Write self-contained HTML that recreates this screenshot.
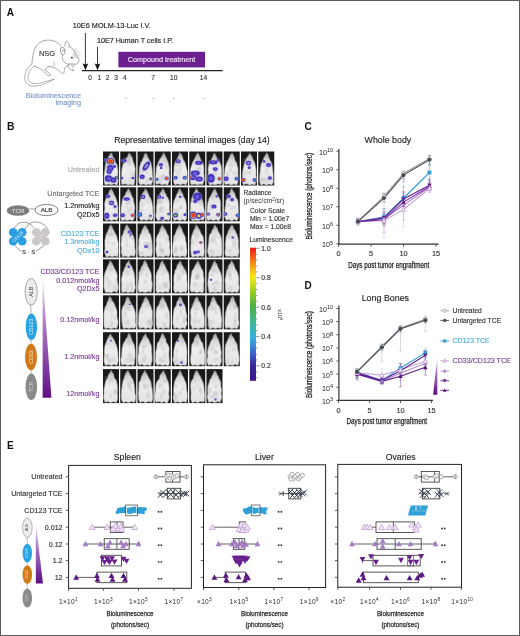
<!DOCTYPE html>
<html><head><meta charset="utf-8"><title>Figure</title>
<style>
html,body{margin:0;padding:0;background:#fff;}
body{width:520px;height:636px;overflow:hidden;}
svg{display:block;font-family:"Liberation Sans", sans-serif;will-change:transform;}
</style></head>
<body>
<svg width="520" height="636" viewBox="0 0 520 636">
<rect x="0" y="0" width="520" height="636" fill="#fff"/>
<text x="6.70" y="15.80" font-size="10" fill="#111" text-anchor="start" font-weight="bold" >A</text>
<g fill="none" stroke="#6e6e6e" stroke-width="0.6" stroke-linecap="round" stroke-linejoin="round">
<path d="M31.9,64 C32.4,58 33,52.5 35,48.3 C37,44.3 40.5,41.5 44,40.6 C48,39.7 52,40 55.5,41.5 C57.6,42.5 59.4,44 60.6,45.8"/>
<path d="M64.8,46 C65,43.6 65.6,41.6 66.3,41.1 C67.3,40.7 68.7,42.6 69.6,45.6 C69.7,46.5 69.4,47.2 69,47.8"/>
<ellipse cx="62.7" cy="51.0" rx="2.3" ry="3.9" transform="rotate(-10 62.7 51)"/>
<ellipse cx="62.9" cy="50.6" rx="0.9" ry="1.7" fill="#c8c8c8" stroke="none"/>
<path d="M69.6,45.8 C71,47.5 72.5,49 73.6,50.5 C75.2,52.6 76.6,55 77.6,57 C78.4,58.5 79.1,59.8 78.9,60.9 C78.6,62.3 77.6,63.5 76.2,64.1 C75,64.5 74,64.3 72.9,64.1"/>
<path d="M62.3,55 C62.1,57.5 62.5,59 63.1,60.3 C64,62 65,63 66.4,63.6 C67.5,64 68.5,64.3 69.2,64.2"/>
<path d="M69.2,64.2 C70.5,63.6 71.8,63.7 72.9,64.1"/>
<path d="M68.2,64.9 C67.8,66.6 68.7,68.1 69.8,69.1 C70.8,70 72.2,70.7 73.6,70.9 C74.2,70.4 73.4,69.5 72.4,69.0"/>
<path d="M70.8,65.0 C71.8,65.9 72.7,66.4 73.8,66.7 C74.4,66.5 74.2,66 73.6,65.6"/>
<path d="M68.2,64.9 C66.6,66.2 65.2,67.3 64.4,68.6 C64,70 64.5,71.6 64.2,72.6 C63.6,73.6 62.2,73.3 61.2,72.6 C59.5,71.2 57.5,69.4 55.3,68.1 C53,66.9 50.5,66.6 48.2,66.6"/>
<path d="M34,66.1 C36,67 38,67.6 39.6,68.4 C40.9,69 41.6,69.6 42.2,70.2 C43.5,71.7 45.1,73.6 47,75 C48.5,75.9 50.1,76 50.7,75.2 C50.3,74 49.1,73 48,72.4 C46.6,71.6 45.6,70.6 45,69.6"/>
<path d="M45,69.6 C46.1,68 47.2,67.1 48.2,66.6"/>
<path d="M54.2,61.4 C54.3,63 54.2,64.4 54,65.8" stroke-width="0.45"/>
<path d="M31.9,64 C29.5,66 27.6,68 26.6,70.3 C25.2,73 24.4,76.2 24.8,79.2 C25.2,82 26.8,84 29.4,85.3 C32.4,86.6 36.6,86.2 41,85 C45.5,83.6 50,81.8 54,79.3" stroke-width="0.55"/>
<path d="M34,66.1 C31.8,67.6 30.2,69.4 29.3,71.7 C28.3,74 27.8,76.4 28.1,78.6 C28.5,80.8 29.8,82.4 31.9,83.1 C34.6,83.9 38,83.6 41.2,82.7 C45.6,81.6 50,80.4 54,79.3" stroke-width="0.5"/>
<line x1="73.5" y1="55.5" x2="76.5" y2="48.5" stroke="#9a9a9a" stroke-width="0.35"/>
<line x1="74" y1="55.5" x2="78.5" y2="50.0" stroke="#9a9a9a" stroke-width="0.35"/>
<line x1="74.5" y1="56" x2="80.0" y2="52.5" stroke="#9a9a9a" stroke-width="0.35"/>
<line x1="74.5" y1="56.5" x2="80.5" y2="55.5" stroke="#9a9a9a" stroke-width="0.35"/>
<line x1="74" y1="57" x2="79.5" y2="58.2" stroke="#9a9a9a" stroke-width="0.35"/>
<line x1="73.5" y1="55.2" x2="74.8" y2="48.0" stroke="#9a9a9a" stroke-width="0.35"/>
</g>
<circle cx="71.9" cy="57.6" r="0.95" fill="#1a1a1a"/>
<text x="39.00" y="56.30" font-size="7.4" fill="#333" text-anchor="start" font-weight="normal" stroke="#333" stroke-width="0.14" >NSG</text>
<text x="72.70" y="28.20" font-size="7.32" fill="#222" text-anchor="start" font-weight="normal" stroke="#222" stroke-width="0.14" >10E6 MOLM-13-Luc I.V.</text>
<text x="97.00" y="42.70" font-size="7.16" fill="#222" text-anchor="start" font-weight="normal" stroke="#222" stroke-width="0.14" >10E7 Human T cells I.P.</text>
<line x1="85.4" y1="33.0" x2="85.4" y2="66" stroke="#222" stroke-width="0.9"/>
<path d="M82.60000000000001,63.6 L85.4,70.3 L88.2,63.6 L85.4,64.6 Z" fill="#111"/>
<line x1="97.5" y1="47.0" x2="97.5" y2="66" stroke="#222" stroke-width="0.9"/>
<path d="M94.7,63.6 L97.5,70.3 L100.3,63.6 L97.5,64.6 Z" fill="#111"/>
<rect x="118.4" y="51.8" width="86.6" height="15.6" fill="#6c2090"/>
<text x="161.60" y="62.40" font-size="7.2" fill="#f6e8fa" text-anchor="middle" font-weight="normal" stroke="#f6e8fa" stroke-width="0.14" >Compound treatment</text>
<line x1="82" y1="70.6" x2="222.8" y2="70.6" stroke="#222" stroke-width="1.1"/>
<text x="90.10" y="79.70" font-size="6.6" fill="#333" text-anchor="middle" font-weight="normal" stroke="#333" stroke-width="0.14" >0</text>
<text x="99.30" y="79.70" font-size="6.6" fill="#333" text-anchor="middle" font-weight="normal" stroke="#333" stroke-width="0.14" >1</text>
<text x="107.70" y="79.70" font-size="6.6" fill="#333" text-anchor="middle" font-weight="normal" stroke="#333" stroke-width="0.14" >2</text>
<text x="116.00" y="79.70" font-size="6.6" fill="#333" text-anchor="middle" font-weight="normal" stroke="#333" stroke-width="0.14" >3</text>
<text x="124.80" y="79.70" font-size="6.6" fill="#333" text-anchor="middle" font-weight="normal" stroke="#333" stroke-width="0.14" >4</text>
<text x="153.20" y="79.70" font-size="6.6" fill="#333" text-anchor="middle" font-weight="normal" stroke="#333" stroke-width="0.14" >7</text>
<text x="173.70" y="79.70" font-size="6.6" fill="#333" text-anchor="middle" font-weight="normal" stroke="#333" stroke-width="0.14" >10</text>
<text x="203.40" y="79.70" font-size="6.6" fill="#333" text-anchor="middle" font-weight="normal" stroke="#333" stroke-width="0.14" >14</text>
<circle cx="126" cy="98.2" r="0.55" fill="#777"/>
<circle cx="153.4" cy="98.2" r="0.55" fill="#777"/>
<circle cx="173.6" cy="98.2" r="0.55" fill="#777"/>
<circle cx="203.9" cy="98.2" r="0.55" fill="#777"/>
<text x="81.00" y="97.80" font-size="7.3" fill="#7a98cc" text-anchor="end" font-weight="normal" stroke="#7a98cc" stroke-width="0.14" >Bioluminescence</text>
<text x="81.00" y="105.00" font-size="7.3" fill="#7a98cc" text-anchor="end" font-weight="normal" stroke="#7a98cc" stroke-width="0.14" >imaging</text>
<text x="7.00" y="130.00" font-size="10.3" fill="#111" text-anchor="start" font-weight="bold" >B</text>
<text x="114.30" y="143.20" font-size="8.64" fill="#222" text-anchor="start" font-weight="normal" stroke="#222" stroke-width="0.14" >Representative terminal images (day 14)</text>
<defs><linearGradient id="mg" x1="0" y1="0" x2="0" y2="1"><stop offset="0" stop-color="#a0a0a0"/><stop offset="0.2" stop-color="#d6d6d6"/><stop offset="0.5" stop-color="#ededed"/><stop offset="1" stop-color="#e2e2e2"/></linearGradient><path id="ms" d="M8,1.3 C6.8,2 6,3.6 5.3,5 C4.4,6.6 3.4,8 2.6,9.5 C1.8,11 1.3,12.5 1.1,14 C0.8,16.5 0.7,18.5 0.8,20.5 C0.8,23 0.8,25 0.9,27 C1,29 1.2,30 1.5,31 C1.7,32.2 2.2,33.2 3.4,33.3 L6.2,33 C7.4,32.6 8.6,32.6 9.8,33 L12.6,33.3 C13.8,33.2 14.3,32.2 14.5,31 C14.8,30 15,29 15.1,27 C15.2,25 15.2,23 15.2,20.5 C15.3,18.5 15.2,16.5 14.9,14 C14.7,12.5 14.2,11 13.4,9.5 C12.6,8 11.6,6.6 10.7,5 C10,3.6 9.2,2 8,1.3 Z"/></defs>
<defs><filter id="bl" x="-5%" y="-5%" width="110%" height="110%"><feGaussianBlur stdDeviation="0.45"/></filter><clipPath id="cc"><rect width="16" height="34"/></clipPath></defs>
<rect x="103.00" y="151.50" width="16.0" height="34.0" fill="#1a1a1a"/>
<g transform="translate(103.00,151.50)" clip-path="url(#cc)"><g filter="url(#bl)">
<path d="M8.30,1.38 C7.90,1.41 7.36,2.41 6.91,3.04 C6.45,3.68 5.92,4.49 5.58,5.21 C5.24,5.92 5.15,6.76 4.89,7.35 C4.63,7.93 4.35,8.10 4.02,8.70 C3.69,9.30 3.19,10.24 2.91,10.95 C2.63,11.67 2.50,12.01 2.34,12.97 C2.17,13.93 2.11,15.47 1.94,16.73 C1.77,18.00 1.49,19.30 1.31,20.56 C1.13,21.81 0.92,23.05 0.86,24.26 C0.80,25.46 0.88,26.68 0.92,27.78 C0.96,28.88 0.86,29.94 1.08,30.87 C1.31,31.80 1.66,33.07 2.27,33.38 C2.88,33.70 4.03,32.82 4.76,32.77 C5.48,32.72 6.07,32.93 6.61,33.07 C7.15,33.21 7.54,33.60 8.00,33.60 C8.46,33.60 8.87,33.27 9.40,33.08 C9.93,32.90 10.45,32.39 11.17,32.49 C11.89,32.58 13.12,33.88 13.75,33.65 C14.38,33.42 14.73,32.07 14.94,31.10 C15.14,30.14 15.00,29.00 14.97,27.86 C14.94,26.73 14.75,25.52 14.75,24.29 C14.75,23.05 15.00,21.76 14.99,20.45 C14.97,19.14 14.79,17.62 14.64,16.44 C14.50,15.26 14.49,14.34 14.12,13.37 C13.76,12.41 12.81,11.42 12.45,10.65 C12.09,9.89 12.14,9.37 11.99,8.78 C11.83,8.20 11.88,7.74 11.54,7.15 C11.19,6.56 10.27,5.98 9.90,5.26 C9.53,4.55 9.56,3.53 9.29,2.88 C9.03,2.24 8.70,1.36 8.30,1.38 Z" fill="url(#mg)" stroke="#8c8c8c" stroke-opacity="0.55" stroke-width="1.0" transform="translate(0.06,0) rotate(-0.3 8 20)"/>
<ellipse cx="3.9" cy="15.3" rx="2.5" ry="3.0" fill="#a8a8a8" opacity="0.22"/><ellipse cx="4.2" cy="13.4" rx="1.3" ry="1.6" fill="#a8a8a8" opacity="0.22"/><ellipse cx="11.0" cy="11.9" rx="2.0" ry="2.4" fill="#a8a8a8" opacity="0.22"/><ellipse cx="4.9" cy="24.1" rx="1.4" ry="2.8" fill="#a8a8a8" opacity="0.22"/><ellipse cx="4.2" cy="17.3" rx="1.5" ry="2.0" fill="#a8a8a8" opacity="0.22"/>
<g><ellipse cx="3.2" cy="8.5" rx="2.60" ry="2.34" fill="#a8a0ea" opacity="0.45"/><ellipse cx="3.2" cy="8.5" rx="2.00" ry="1.80" fill="#4232b8"/><ellipse cx="3.2" cy="8.5" rx="1.00" ry="0.90" fill="#6a5cd0"/></g>
<g><ellipse cx="7.6" cy="9.7" rx="4.68" ry="4.21" fill="#a8a0ea" opacity="0.45"/><ellipse cx="7.6" cy="9.7" rx="3.60" ry="3.24" fill="#4030b0"/><ellipse cx="7.6" cy="9.7" rx="2.70" ry="2.43" fill="#e8a040"/><ellipse cx="7.6" cy="9.7" rx="1.98" ry="1.78" fill="#e83a1a"/></g>
<g><ellipse cx="7.4" cy="16.5" rx="4.16" ry="3.74" fill="#a8a0ea" opacity="0.45"/><ellipse cx="7.4" cy="16.5" rx="3.20" ry="2.88" fill="#4232b8"/><ellipse cx="7.4" cy="16.5" rx="1.60" ry="1.44" fill="#6a5cd0"/></g>
<g><ellipse cx="6.2" cy="20" rx="3.38" ry="3.04" fill="#a8a0ea" opacity="0.45"/><ellipse cx="6.2" cy="20" rx="2.60" ry="2.34" fill="#4232b8"/><ellipse cx="6.2" cy="20" rx="1.30" ry="1.17" fill="#6a5cd0"/></g>
<g><ellipse cx="5.5" cy="27" rx="4.68" ry="4.16" fill="#a8a0ea" opacity="0.45"/><ellipse cx="5.5" cy="27" rx="3.60" ry="3.20" fill="#4232b8"/><ellipse cx="5.5" cy="27" rx="1.80" ry="1.60" fill="#6a5cd0"/></g>
<g><ellipse cx="10.5" cy="28.5" rx="3.90" ry="3.51" fill="#a8a0ea" opacity="0.45"/><ellipse cx="10.5" cy="28.5" rx="3.00" ry="2.70" fill="#4232b8"/><ellipse cx="10.5" cy="28.5" rx="1.50" ry="1.35" fill="#6a5cd0"/></g>
<g><ellipse cx="13.6" cy="26" rx="2.34" ry="2.11" fill="#a8a0ea" opacity="0.45"/><ellipse cx="13.6" cy="26" rx="1.80" ry="1.62" fill="#4030b0"/><ellipse cx="13.6" cy="26" rx="0.99" ry="0.89" fill="#70c060"/></g>
<g><ellipse cx="11.5" cy="15" rx="2.08" ry="1.87" fill="#a8a0ea" opacity="0.45"/><ellipse cx="11.5" cy="15" rx="1.60" ry="1.44" fill="#4232b8"/><ellipse cx="11.5" cy="15" rx="0.80" ry="0.72" fill="#6a5cd0"/></g>
</g></g>
<rect x="120.25" y="151.50" width="16.0" height="34.0" fill="#1a1a1a"/>
<g transform="translate(120.25,151.50)" clip-path="url(#cc)"><g filter="url(#bl)">
<path d="M7.86,1.59 C7.52,1.60 7.00,2.33 6.70,2.95 C6.40,3.56 6.41,4.52 6.05,5.27 C5.69,6.02 4.85,6.88 4.52,7.44 C4.20,8.01 4.29,8.13 4.10,8.68 C3.91,9.22 3.73,10.00 3.39,10.71 C3.05,11.43 2.40,12.02 2.06,12.99 C1.71,13.96 1.49,15.28 1.31,16.54 C1.14,17.80 1.07,19.23 1.02,20.55 C0.97,21.87 0.98,23.24 1.01,24.48 C1.04,25.72 1.16,26.87 1.22,27.99 C1.28,29.11 1.16,30.31 1.35,31.18 C1.54,32.06 1.76,32.96 2.38,33.23 C3.00,33.49 4.41,32.82 5.09,32.76 C5.76,32.70 5.94,32.70 6.42,32.84 C6.91,32.99 7.48,33.54 8.00,33.60 C8.52,33.66 9.07,33.35 9.57,33.22 C10.07,33.09 10.30,32.79 10.99,32.83 C11.67,32.86 13.06,33.79 13.67,33.45 C14.28,33.11 14.46,31.67 14.65,30.80 C14.83,29.93 14.77,29.26 14.78,28.23 C14.79,27.20 14.74,25.86 14.72,24.60 C14.69,23.34 14.67,22.03 14.63,20.66 C14.59,19.29 14.64,17.62 14.47,16.40 C14.29,15.17 13.90,14.27 13.57,13.31 C13.24,12.35 12.80,11.39 12.50,10.66 C12.19,9.94 11.94,9.57 11.74,8.98 C11.54,8.38 11.49,7.74 11.28,7.09 C11.07,6.44 10.91,5.75 10.49,5.05 C10.07,4.35 9.20,3.46 8.76,2.88 C8.32,2.31 8.21,1.58 7.86,1.59 Z" fill="url(#mg)" stroke="#8c8c8c" stroke-opacity="0.55" stroke-width="1.0" transform="translate(0.30,0) rotate(3.3 8 20)"/>
<ellipse cx="7.5" cy="9.3" rx="1.4" ry="2.2" fill="#a8a8a8" opacity="0.22"/><ellipse cx="8.7" cy="10.9" rx="1.7" ry="3.3" fill="#a8a8a8" opacity="0.22"/><ellipse cx="12.8" cy="22.5" rx="2.2" ry="2.7" fill="#a8a8a8" opacity="0.22"/><ellipse cx="4.4" cy="8.8" rx="1.2" ry="3.3" fill="#a8a8a8" opacity="0.22"/><ellipse cx="10.0" cy="29.2" rx="1.2" ry="2.8" fill="#a8a8a8" opacity="0.22"/>
<g><ellipse cx="3.8" cy="9.2" rx="3.25" ry="2.08" fill="#a8a0ea" opacity="0.45"/><ellipse cx="3.8" cy="9.2" rx="2.50" ry="1.60" fill="#4030b0"/><ellipse cx="3.8" cy="9.2" rx="1.38" ry="0.88" fill="#6a5cd0"/></g>
<g><ellipse cx="1.6" cy="26.5" rx="1.82" ry="1.64" fill="#a8a0ea" opacity="0.45"/><ellipse cx="1.6" cy="26.5" rx="1.40" ry="1.26" fill="#4232b8"/><ellipse cx="1.6" cy="26.5" rx="0.70" ry="0.63" fill="#6a5cd0"/></g>
<g><ellipse cx="12.7" cy="26.5" rx="1.95" ry="1.76" fill="#a8a0ea" opacity="0.45"/><ellipse cx="12.7" cy="26.5" rx="1.50" ry="1.35" fill="#4232b8"/><ellipse cx="12.7" cy="26.5" rx="0.75" ry="0.68" fill="#6a5cd0"/></g>
</g></g>
<rect x="137.50" y="151.50" width="16.0" height="34.0" fill="#1a1a1a"/>
<g transform="translate(137.50,151.50)" clip-path="url(#cc)"><g filter="url(#bl)">
<path d="M7.87,1.65 C7.42,1.62 6.92,2.40 6.60,3.02 C6.28,3.65 6.24,4.69 5.97,5.40 C5.69,6.11 5.21,6.70 4.97,7.30 C4.72,7.90 4.82,8.41 4.51,9.01 C4.19,9.61 3.43,10.16 3.10,10.89 C2.76,11.62 2.74,12.43 2.48,13.39 C2.22,14.34 1.71,15.45 1.54,16.65 C1.37,17.84 1.51,19.24 1.45,20.54 C1.40,21.84 1.27,23.19 1.19,24.44 C1.10,25.69 0.99,26.95 0.96,28.05 C0.93,29.16 0.67,30.15 1.01,31.07 C1.34,31.99 2.29,33.34 2.95,33.59 C3.60,33.84 4.32,32.64 4.96,32.54 C5.60,32.45 6.26,32.86 6.76,33.04 C7.27,33.22 7.57,33.58 8.00,33.60 C8.43,33.62 8.87,33.32 9.36,33.17 C9.84,33.02 10.29,32.68 10.91,32.73 C11.53,32.77 12.44,33.76 13.07,33.45 C13.70,33.14 14.33,31.77 14.69,30.87 C15.05,29.96 15.19,29.02 15.24,28.00 C15.29,26.97 15.08,26.00 14.98,24.71 C14.88,23.42 14.75,21.61 14.63,20.26 C14.51,18.90 14.43,17.79 14.26,16.59 C14.09,15.39 13.79,13.99 13.59,13.03 C13.40,12.08 13.41,11.55 13.08,10.88 C12.76,10.21 11.99,9.60 11.66,9.00 C11.33,8.40 11.36,7.92 11.08,7.28 C10.80,6.64 10.28,5.84 9.99,5.17 C9.69,4.49 9.67,3.79 9.31,3.21 C8.96,2.62 8.33,1.68 7.87,1.65 Z" fill="url(#mg)" stroke="#8c8c8c" stroke-opacity="0.55" stroke-width="1.0" transform="translate(0.23,0) rotate(-0.1 8 20)"/>
<ellipse cx="11.8" cy="16.5" rx="2.0" ry="2.1" fill="#a8a8a8" opacity="0.22"/><ellipse cx="4.4" cy="18.9" rx="2.4" ry="3.2" fill="#a8a8a8" opacity="0.22"/><ellipse cx="10.1" cy="28.9" rx="1.6" ry="1.8" fill="#a8a8a8" opacity="0.22"/><ellipse cx="7.5" cy="14.1" rx="1.5" ry="2.3" fill="#a8a8a8" opacity="0.22"/><ellipse cx="9.3" cy="18.9" rx="1.6" ry="3.2" fill="#a8a8a8" opacity="0.22"/>
<g transform="rotate(-55 8.8 14.5)"><ellipse cx="8.8" cy="14.5" rx="6.76" ry="3.12" fill="#a8a0ea" opacity="0.45"/><ellipse cx="8.8" cy="14.5" rx="5.20" ry="2.40" fill="#4030b0"/><ellipse cx="8.8" cy="14.5" rx="2.86" ry="1.32" fill="#8e86da"/></g>
<g><ellipse cx="4.7" cy="25.3" rx="3.25" ry="2.93" fill="#a8a0ea" opacity="0.45"/><ellipse cx="4.7" cy="25.3" rx="2.50" ry="2.25" fill="#4232b8"/><ellipse cx="4.7" cy="25.3" rx="1.25" ry="1.12" fill="#6a5cd0"/></g>
<g><ellipse cx="13.3" cy="27.4" rx="1.95" ry="1.76" fill="#a8a0ea" opacity="0.45"/><ellipse cx="13.3" cy="27.4" rx="1.50" ry="1.35" fill="#4030b0"/><ellipse cx="13.3" cy="27.4" rx="1.05" ry="0.94" fill="#40a8b0"/><ellipse cx="13.3" cy="27.4" rx="0.83" ry="0.74" fill="#d06030"/></g>
</g></g>
<rect x="154.75" y="151.50" width="16.0" height="34.0" fill="#1a1a1a"/>
<g transform="translate(154.75,151.50)" clip-path="url(#cc)"><g filter="url(#bl)">
<path d="M7.70,1.17 C7.36,1.11 7.45,2.09 7.16,2.77 C6.87,3.45 6.36,4.47 5.95,5.24 C5.53,6.00 5.00,6.78 4.67,7.35 C4.34,7.91 4.21,8.08 3.96,8.62 C3.71,9.15 3.42,9.82 3.17,10.56 C2.91,11.30 2.73,12.12 2.43,13.07 C2.13,14.02 1.54,15.04 1.35,16.27 C1.16,17.51 1.32,19.09 1.29,20.47 C1.26,21.86 1.22,23.28 1.19,24.58 C1.16,25.87 1.08,27.18 1.12,28.23 C1.15,29.27 1.18,30.01 1.43,30.85 C1.67,31.68 2.08,32.95 2.58,33.24 C3.09,33.53 3.76,32.65 4.46,32.59 C5.15,32.52 6.16,32.67 6.75,32.84 C7.34,33.01 7.58,33.59 8.00,33.60 C8.42,33.61 8.68,33.09 9.24,32.92 C9.80,32.76 10.63,32.51 11.34,32.61 C12.04,32.71 12.93,33.77 13.48,33.53 C14.03,33.28 14.31,32.10 14.63,31.15 C14.94,30.19 15.29,28.88 15.38,27.79 C15.48,26.70 15.34,25.83 15.20,24.61 C15.06,23.39 14.66,21.79 14.54,20.48 C14.42,19.16 14.63,17.91 14.49,16.70 C14.35,15.50 13.95,14.19 13.71,13.23 C13.48,12.27 13.35,11.69 13.07,10.95 C12.78,10.21 12.30,9.43 12.01,8.78 C11.72,8.13 11.58,7.62 11.31,7.05 C11.03,6.48 10.71,6.02 10.36,5.36 C10.00,4.70 9.64,3.81 9.20,3.11 C8.76,2.41 8.04,1.22 7.70,1.17 Z" fill="url(#mg)" stroke="#8c8c8c" stroke-opacity="0.55" stroke-width="1.0" transform="translate(-0.05,0) rotate(3.4 8 20)"/>
<ellipse cx="5.1" cy="27.8" rx="2.6" ry="3.5" fill="#a8a8a8" opacity="0.22"/><ellipse cx="8.4" cy="25.4" rx="1.6" ry="3.3" fill="#a8a8a8" opacity="0.22"/><ellipse cx="11.6" cy="15.7" rx="1.3" ry="2.4" fill="#a8a8a8" opacity="0.22"/><ellipse cx="8.5" cy="24.9" rx="1.9" ry="1.6" fill="#a8a8a8" opacity="0.22"/><ellipse cx="11.1" cy="9.4" rx="2.3" ry="1.8" fill="#a8a8a8" opacity="0.22"/>
<g><ellipse cx="6.2" cy="13.3" rx="2.60" ry="2.34" fill="#a8a0ea" opacity="0.45"/><ellipse cx="6.2" cy="13.3" rx="2.00" ry="1.80" fill="#4232b8"/><ellipse cx="6.2" cy="13.3" rx="1.00" ry="0.90" fill="#6a5cd0"/></g>
<g><ellipse cx="6.4" cy="16.4" rx="1.69" ry="1.52" fill="#a8a0ea" opacity="0.45"/><ellipse cx="6.4" cy="16.4" rx="1.30" ry="1.17" fill="#4232b8"/><ellipse cx="6.4" cy="16.4" rx="0.65" ry="0.59" fill="#6a5cd0"/></g>
<g><ellipse cx="2.1" cy="27.9" rx="2.08" ry="1.87" fill="#a8a0ea" opacity="0.45"/><ellipse cx="2.1" cy="27.9" rx="1.60" ry="1.44" fill="#4030b0"/><ellipse cx="2.1" cy="27.9" rx="0.88" ry="0.79" fill="#38a8d0"/></g>
<g><ellipse cx="12" cy="26.9" rx="2.60" ry="2.34" fill="#a8a0ea" opacity="0.45"/><ellipse cx="12" cy="26.9" rx="2.00" ry="1.80" fill="#4030b0"/><ellipse cx="12" cy="26.9" rx="1.50" ry="1.35" fill="#e8a040"/><ellipse cx="12" cy="26.9" rx="1.10" ry="0.99" fill="#e83a1a"/></g>
</g></g>
<rect x="172.00" y="151.50" width="16.0" height="34.0" fill="#1a1a1a"/>
<g transform="translate(172.00,151.50)" clip-path="url(#cc)"><g filter="url(#bl)">
<path d="M7.75,1.22 C7.35,1.28 7.20,2.43 6.91,3.11 C6.63,3.79 6.34,4.61 6.04,5.29 C5.74,5.98 5.35,6.65 5.11,7.20 C4.87,7.75 4.97,7.99 4.61,8.59 C4.26,9.20 3.43,10.03 3.00,10.81 C2.58,11.60 2.27,12.36 2.05,13.31 C1.84,14.26 1.80,15.31 1.70,16.51 C1.60,17.71 1.56,19.21 1.44,20.53 C1.32,21.85 1.02,23.16 0.97,24.44 C0.92,25.72 1.12,27.08 1.14,28.20 C1.16,29.32 0.80,30.31 1.10,31.18 C1.39,32.04 2.30,33.20 2.93,33.41 C3.55,33.62 4.23,32.52 4.85,32.45 C5.47,32.38 6.10,32.81 6.63,33.00 C7.15,33.19 7.53,33.64 8.00,33.60 C8.47,33.56 8.89,32.93 9.47,32.76 C10.06,32.60 10.89,32.48 11.53,32.61 C12.17,32.74 12.79,33.82 13.33,33.55 C13.87,33.28 14.43,31.96 14.74,31.00 C15.06,30.03 15.20,28.87 15.23,27.78 C15.26,26.69 14.95,25.64 14.93,24.46 C14.91,23.28 15.23,22.04 15.12,20.71 C15.01,19.38 14.50,17.74 14.24,16.49 C13.97,15.23 13.74,14.08 13.54,13.17 C13.34,12.25 13.33,11.74 13.02,11.00 C12.71,10.26 12.02,9.33 11.68,8.71 C11.34,8.09 11.18,7.87 10.98,7.26 C10.79,6.64 10.78,5.76 10.50,5.01 C10.22,4.27 9.75,3.39 9.30,2.76 C8.84,2.13 8.15,1.17 7.75,1.22 Z" fill="url(#mg)" stroke="#8c8c8c" stroke-opacity="0.55" stroke-width="1.0" transform="translate(0.29,0) rotate(-1.2 8 20)"/>
<ellipse cx="4.9" cy="13.0" rx="2.2" ry="2.1" fill="#a8a8a8" opacity="0.22"/><ellipse cx="6.6" cy="21.6" rx="1.3" ry="3.0" fill="#a8a8a8" opacity="0.22"/><ellipse cx="4.2" cy="19.2" rx="1.6" ry="1.9" fill="#a8a8a8" opacity="0.22"/><ellipse cx="8.3" cy="17.6" rx="1.7" ry="2.3" fill="#a8a8a8" opacity="0.22"/><ellipse cx="8.3" cy="11.5" rx="1.5" ry="2.8" fill="#a8a8a8" opacity="0.22"/>
<g><ellipse cx="6.2" cy="9.7" rx="2.99" ry="2.69" fill="#a8a0ea" opacity="0.45"/><ellipse cx="6.2" cy="9.7" rx="2.30" ry="2.07" fill="#4030b0"/><ellipse cx="6.2" cy="9.7" rx="1.26" ry="1.14" fill="#8e86da"/></g>
<g><ellipse cx="3.6" cy="26.3" rx="2.60" ry="2.34" fill="#a8a0ea" opacity="0.45"/><ellipse cx="3.6" cy="26.3" rx="2.00" ry="1.80" fill="#4030b0"/><ellipse cx="3.6" cy="26.3" rx="1.10" ry="0.99" fill="#38a8d0"/></g>
<g><ellipse cx="12.8" cy="26.3" rx="2.60" ry="2.34" fill="#a8a0ea" opacity="0.45"/><ellipse cx="12.8" cy="26.3" rx="2.00" ry="1.80" fill="#4030b0"/><ellipse cx="12.8" cy="26.3" rx="1.10" ry="0.99" fill="#38a8d0"/></g>
</g></g>
<rect x="189.25" y="151.50" width="16.0" height="34.0" fill="#1a1a1a"/>
<g transform="translate(189.25,151.50)" clip-path="url(#cc)"><g filter="url(#bl)">
<path d="M8.25,1.46 C7.91,1.47 7.53,2.22 7.15,2.87 C6.77,3.52 6.31,4.65 5.97,5.36 C5.62,6.06 5.38,6.50 5.08,7.11 C4.78,7.72 4.52,8.35 4.17,9.01 C3.82,9.67 3.29,10.38 3.00,11.05 C2.72,11.72 2.74,12.09 2.47,13.02 C2.21,13.94 1.66,15.40 1.42,16.61 C1.18,17.83 1.05,18.99 1.03,20.30 C1.02,21.61 1.32,23.21 1.33,24.46 C1.34,25.71 1.12,26.71 1.10,27.81 C1.09,28.92 1.04,30.19 1.23,31.09 C1.43,32.00 1.65,32.96 2.26,33.25 C2.88,33.54 4.15,32.88 4.93,32.81 C5.71,32.73 6.42,32.68 6.93,32.81 C7.44,32.94 7.59,33.55 8.00,33.60 C8.41,33.65 8.87,33.28 9.40,33.13 C9.94,32.98 10.57,32.68 11.20,32.69 C11.83,32.70 12.65,33.51 13.18,33.19 C13.72,32.86 14.10,31.63 14.42,30.77 C14.75,29.91 15.05,29.08 15.14,28.01 C15.22,26.93 15.04,25.60 14.95,24.32 C14.86,23.05 14.63,21.61 14.58,20.35 C14.53,19.09 14.72,17.97 14.64,16.75 C14.56,15.52 14.46,13.95 14.10,13.00 C13.74,12.04 12.90,11.70 12.49,11.03 C12.09,10.35 11.91,9.57 11.67,8.93 C11.44,8.29 11.32,7.81 11.08,7.18 C10.83,6.56 10.53,5.90 10.21,5.17 C9.89,4.43 9.50,3.37 9.17,2.76 C8.84,2.14 8.58,1.44 8.25,1.46 Z" fill="url(#mg)" stroke="#8c8c8c" stroke-opacity="0.55" stroke-width="1.0" transform="translate(0.03,0) rotate(1.0 8 20)"/>
<ellipse cx="10.0" cy="26.6" rx="1.5" ry="2.4" fill="#a8a8a8" opacity="0.22"/><ellipse cx="10.4" cy="16.9" rx="1.5" ry="1.8" fill="#a8a8a8" opacity="0.22"/><ellipse cx="8.1" cy="8.3" rx="2.5" ry="3.1" fill="#a8a8a8" opacity="0.22"/><ellipse cx="10.0" cy="26.9" rx="2.1" ry="2.3" fill="#a8a8a8" opacity="0.22"/><ellipse cx="9.0" cy="19.1" rx="2.6" ry="3.1" fill="#a8a8a8" opacity="0.22"/>
<g><ellipse cx="9.5" cy="11.3" rx="4.68" ry="2.60" fill="#a8a0ea" opacity="0.45"/><ellipse cx="9.5" cy="11.3" rx="3.60" ry="2.00" fill="#4232b8"/><ellipse cx="9.5" cy="11.3" rx="1.80" ry="1.00" fill="#6a5cd0"/></g>
<g><ellipse cx="6" cy="21.5" rx="5.85" ry="3.38" fill="#a8a0ea" opacity="0.45"/><ellipse cx="6" cy="21.5" rx="4.50" ry="2.60" fill="#4232b8"/><ellipse cx="6" cy="21.5" rx="2.25" ry="1.30" fill="#6a5cd0"/></g>
<g><ellipse cx="4" cy="26" rx="4.55" ry="3.38" fill="#a8a0ea" opacity="0.45"/><ellipse cx="4" cy="26" rx="3.50" ry="2.60" fill="#4232b8"/><ellipse cx="4" cy="26" rx="1.75" ry="1.30" fill="#6a5cd0"/></g>
<g><ellipse cx="10" cy="27.5" rx="4.55" ry="3.25" fill="#a8a0ea" opacity="0.45"/><ellipse cx="10" cy="27.5" rx="3.50" ry="2.50" fill="#4232b8"/><ellipse cx="10" cy="27.5" rx="1.75" ry="1.25" fill="#6a5cd0"/></g>
<g><ellipse cx="1.8" cy="25.8" rx="1.95" ry="1.76" fill="#a8a0ea" opacity="0.45"/><ellipse cx="1.8" cy="25.8" rx="1.50" ry="1.35" fill="#4030b0"/><ellipse cx="1.8" cy="25.8" rx="1.12" ry="1.01" fill="#e8a040"/><ellipse cx="1.8" cy="25.8" rx="0.83" ry="0.74" fill="#e83a1a"/></g>
</g></g>
<rect x="206.50" y="151.50" width="16.0" height="34.0" fill="#1a1a1a"/>
<g transform="translate(206.50,151.50)" clip-path="url(#cc)"><g filter="url(#bl)">
<path d="M8.17,1.54 C7.88,1.53 7.47,2.31 7.12,2.95 C6.77,3.59 6.44,4.66 6.08,5.39 C5.71,6.12 5.20,6.77 4.94,7.33 C4.67,7.89 4.75,8.21 4.49,8.75 C4.22,9.29 3.76,9.85 3.36,10.59 C2.96,11.32 2.44,12.21 2.09,13.18 C1.74,14.16 1.39,15.20 1.26,16.43 C1.13,17.66 1.35,19.18 1.30,20.56 C1.24,21.94 0.96,23.50 0.91,24.72 C0.87,25.95 0.93,26.87 1.02,27.92 C1.10,28.97 1.14,30.13 1.41,31.03 C1.68,31.94 2.00,33.07 2.62,33.34 C3.25,33.62 4.46,32.71 5.15,32.67 C5.84,32.64 6.27,32.98 6.74,33.13 C7.22,33.29 7.50,33.66 8.00,33.60 C8.50,33.54 9.19,32.91 9.74,32.76 C10.28,32.61 10.70,32.62 11.28,32.72 C11.86,32.82 12.71,33.66 13.23,33.35 C13.75,33.04 14.09,31.77 14.39,30.85 C14.68,29.92 14.96,28.82 15.01,27.80 C15.07,26.78 14.76,25.92 14.73,24.70 C14.70,23.49 14.83,21.87 14.84,20.50 C14.84,19.14 14.84,17.74 14.73,16.53 C14.61,15.33 14.43,14.26 14.15,13.27 C13.86,12.28 13.41,11.31 13.02,10.59 C12.62,9.86 12.12,9.46 11.77,8.93 C11.41,8.40 11.18,8.04 10.88,7.42 C10.58,6.79 10.30,5.92 9.96,5.19 C9.63,4.45 9.17,3.61 8.87,3.00 C8.57,2.39 8.46,1.55 8.17,1.54 Z" fill="url(#mg)" stroke="#8c8c8c" stroke-opacity="0.55" stroke-width="1.0" transform="translate(0.41,0) rotate(-1.7 8 20)"/>
<ellipse cx="9.1" cy="9.3" rx="2.5" ry="2.3" fill="#a8a8a8" opacity="0.22"/><ellipse cx="8.3" cy="21.2" rx="1.7" ry="2.1" fill="#a8a8a8" opacity="0.22"/><ellipse cx="9.6" cy="20.3" rx="1.6" ry="2.9" fill="#a8a8a8" opacity="0.22"/><ellipse cx="6.0" cy="8.3" rx="1.5" ry="1.6" fill="#a8a8a8" opacity="0.22"/><ellipse cx="4.6" cy="24.6" rx="1.7" ry="3.3" fill="#a8a8a8" opacity="0.22"/>
<g><ellipse cx="6.8" cy="10.8" rx="5.20" ry="2.60" fill="#a8a0ea" opacity="0.45"/><ellipse cx="6.8" cy="10.8" rx="4.00" ry="2.00" fill="#4232b8"/><ellipse cx="6.8" cy="10.8" rx="2.00" ry="1.00" fill="#6a5cd0"/></g>
<g><ellipse cx="11.6" cy="8.7" rx="1.95" ry="1.76" fill="#a8a0ea" opacity="0.45"/><ellipse cx="11.6" cy="8.7" rx="1.50" ry="1.35" fill="#4232b8"/><ellipse cx="11.6" cy="8.7" rx="0.75" ry="0.68" fill="#6a5cd0"/></g>
<g><ellipse cx="8.8" cy="17.6" rx="3.25" ry="2.34" fill="#a8a0ea" opacity="0.45"/><ellipse cx="8.8" cy="17.6" rx="2.50" ry="1.80" fill="#4232b8"/><ellipse cx="8.8" cy="17.6" rx="1.25" ry="0.90" fill="#6a5cd0"/></g>
<g><ellipse cx="4.5" cy="26.8" rx="4.68" ry="5.46" fill="#a8a0ea" opacity="0.45"/><ellipse cx="4.5" cy="26.8" rx="3.60" ry="4.20" fill="#4232b8"/><ellipse cx="4.5" cy="26.8" rx="1.80" ry="2.10" fill="#6a5cd0"/></g>
<g><ellipse cx="13" cy="27.2" rx="2.60" ry="2.34" fill="#a8a0ea" opacity="0.45"/><ellipse cx="13" cy="27.2" rx="2.00" ry="1.80" fill="#4030b0"/><ellipse cx="13" cy="27.2" rx="1.50" ry="1.35" fill="#e8a040"/><ellipse cx="13" cy="27.2" rx="1.10" ry="0.99" fill="#e83a1a"/></g>
</g></g>
<rect x="223.75" y="151.50" width="16.0" height="34.0" fill="#1a1a1a"/>
<g transform="translate(223.75,151.50)" clip-path="url(#cc)"><g filter="url(#bl)">
<path d="M8.34,1.62 C7.92,1.69 7.03,2.61 6.60,3.20 C6.17,3.80 6.00,4.54 5.75,5.19 C5.51,5.83 5.37,6.43 5.13,7.07 C4.89,7.71 4.61,8.40 4.32,9.02 C4.02,9.64 3.65,10.06 3.36,10.78 C3.06,11.51 2.82,12.44 2.54,13.36 C2.25,14.28 1.88,15.12 1.67,16.31 C1.46,17.49 1.42,19.15 1.29,20.48 C1.16,21.81 0.95,23.05 0.89,24.28 C0.83,25.50 0.86,26.68 0.92,27.81 C0.98,28.95 0.99,30.17 1.26,31.08 C1.53,32.00 1.97,33.04 2.57,33.28 C3.17,33.53 4.15,32.60 4.86,32.56 C5.56,32.52 6.27,32.84 6.79,33.02 C7.32,33.19 7.51,33.56 8.00,33.60 C8.49,33.64 9.19,33.41 9.75,33.23 C10.31,33.04 10.80,32.41 11.36,32.47 C11.93,32.53 12.54,33.83 13.13,33.60 C13.72,33.36 14.59,32.01 14.90,31.06 C15.21,30.11 14.98,28.97 15.00,27.89 C15.02,26.80 15.05,25.75 15.03,24.53 C15.01,23.31 14.94,21.93 14.86,20.57 C14.79,19.20 14.78,17.53 14.58,16.34 C14.37,15.16 13.87,14.33 13.62,13.44 C13.38,12.55 13.47,11.80 13.09,10.99 C12.72,10.18 11.72,9.22 11.38,8.58 C11.04,7.94 11.22,7.76 11.04,7.16 C10.86,6.57 10.60,5.73 10.29,5.00 C9.97,4.27 9.45,3.35 9.13,2.79 C8.81,2.22 8.76,1.55 8.34,1.62 Z" fill="url(#mg)" stroke="#8c8c8c" stroke-opacity="0.55" stroke-width="1.0" transform="translate(-0.45,0) rotate(1.7 8 20)"/>
<ellipse cx="3.9" cy="22.9" rx="2.0" ry="2.8" fill="#a8a8a8" opacity="0.22"/><ellipse cx="6.7" cy="18.5" rx="1.5" ry="2.2" fill="#a8a8a8" opacity="0.22"/><ellipse cx="10.4" cy="26.4" rx="1.3" ry="1.7" fill="#a8a8a8" opacity="0.22"/><ellipse cx="11.1" cy="21.7" rx="2.3" ry="1.9" fill="#a8a8a8" opacity="0.22"/><ellipse cx="7.2" cy="13.7" rx="2.3" ry="2.2" fill="#a8a8a8" opacity="0.22"/>
<g><ellipse cx="2.4" cy="27.2" rx="3.25" ry="2.93" fill="#a8a0ea" opacity="0.45"/><ellipse cx="2.4" cy="27.2" rx="2.50" ry="2.25" fill="#4232b8"/><ellipse cx="2.4" cy="27.2" rx="1.25" ry="1.12" fill="#6a5cd0"/></g>
<g><ellipse cx="13" cy="27.2" rx="2.60" ry="2.34" fill="#a8a0ea" opacity="0.45"/><ellipse cx="13" cy="27.2" rx="2.00" ry="1.80" fill="#4030b0"/><ellipse cx="13" cy="27.2" rx="1.10" ry="0.99" fill="#38a8d0"/></g>
</g></g>
<rect x="241.00" y="151.50" width="16.0" height="34.0" fill="#1a1a1a"/>
<g transform="translate(241.00,151.50)" clip-path="url(#cc)"><g filter="url(#bl)">
<path d="M7.88,1.42 C7.60,1.46 7.43,2.59 7.07,3.21 C6.72,3.83 6.18,4.44 5.75,5.13 C5.32,5.83 4.81,6.81 4.52,7.39 C4.23,7.96 4.22,8.02 4.00,8.59 C3.79,9.16 3.52,10.04 3.24,10.79 C2.97,11.54 2.57,12.18 2.33,13.10 C2.09,14.02 2.01,15.04 1.79,16.29 C1.57,17.53 1.16,19.23 1.00,20.58 C0.84,21.93 0.80,23.15 0.81,24.40 C0.82,25.65 1.00,27.03 1.06,28.10 C1.11,29.17 0.91,29.92 1.15,30.82 C1.39,31.72 1.91,33.25 2.50,33.51 C3.09,33.78 4.00,32.49 4.71,32.41 C5.41,32.33 6.20,32.84 6.75,33.03 C7.30,33.23 7.51,33.57 8.00,33.60 C8.49,33.63 9.11,33.39 9.69,33.22 C10.27,33.05 10.84,32.56 11.49,32.57 C12.14,32.58 13.10,33.57 13.61,33.30 C14.13,33.03 14.27,31.80 14.57,30.95 C14.87,30.10 15.38,29.28 15.40,28.20 C15.43,27.11 14.84,25.73 14.72,24.43 C14.61,23.14 14.77,21.76 14.71,20.43 C14.64,19.10 14.51,17.64 14.33,16.44 C14.14,15.24 13.81,14.17 13.59,13.23 C13.37,12.29 13.28,11.55 13.01,10.82 C12.73,10.09 12.27,9.41 11.94,8.83 C11.60,8.25 11.22,7.95 10.97,7.33 C10.73,6.71 10.83,5.81 10.47,5.09 C10.10,4.37 9.20,3.62 8.77,3.01 C8.33,2.40 8.16,1.39 7.88,1.42 Z" fill="url(#mg)" stroke="#8c8c8c" stroke-opacity="0.55" stroke-width="1.0" transform="translate(0.49,0) rotate(1.1 8 20)"/>
<ellipse cx="8.4" cy="20.5" rx="2.6" ry="2.8" fill="#a8a8a8" opacity="0.22"/><ellipse cx="11.0" cy="9.4" rx="2.0" ry="3.1" fill="#a8a8a8" opacity="0.22"/><ellipse cx="3.8" cy="9.8" rx="2.2" ry="3.3" fill="#a8a8a8" opacity="0.22"/><ellipse cx="3.8" cy="22.0" rx="1.4" ry="3.0" fill="#a8a8a8" opacity="0.22"/><ellipse cx="9.5" cy="13.4" rx="1.5" ry="3.0" fill="#a8a8a8" opacity="0.22"/>
<g><ellipse cx="7.5" cy="11.5" rx="3.25" ry="2.93" fill="#a8a0ea" opacity="0.45"/><ellipse cx="7.5" cy="11.5" rx="2.50" ry="2.25" fill="#4030b0"/><ellipse cx="7.5" cy="11.5" rx="1.38" ry="1.24" fill="#8e86da"/></g>
<g><ellipse cx="8.2" cy="16.2" rx="1.95" ry="1.76" fill="#a8a0ea" opacity="0.45"/><ellipse cx="8.2" cy="16.2" rx="1.50" ry="1.35" fill="#4232b8"/><ellipse cx="8.2" cy="16.2" rx="0.75" ry="0.68" fill="#6a5cd0"/></g>
<g><ellipse cx="2.2" cy="28.5" rx="2.99" ry="2.69" fill="#a8a0ea" opacity="0.45"/><ellipse cx="2.2" cy="28.5" rx="2.30" ry="2.07" fill="#4030b0"/><ellipse cx="2.2" cy="28.5" rx="1.72" ry="1.55" fill="#e8a040"/><ellipse cx="2.2" cy="28.5" rx="1.26" ry="1.14" fill="#e83a1a"/></g>
<g><ellipse cx="13.6" cy="28.5" rx="2.60" ry="2.34" fill="#a8a0ea" opacity="0.45"/><ellipse cx="13.6" cy="28.5" rx="2.00" ry="1.80" fill="#4030b0"/><ellipse cx="13.6" cy="28.5" rx="1.10" ry="0.99" fill="#38a8d0"/></g>
</g></g>
<rect x="258.25" y="151.50" width="16.0" height="34.0" fill="#1a1a1a"/>
<g transform="translate(258.25,151.50)" clip-path="url(#cc)"><g filter="url(#bl)">
<path d="M7.93,1.32 C7.58,1.33 7.58,2.44 7.23,3.09 C6.87,3.74 6.17,4.52 5.80,5.22 C5.42,5.92 5.16,6.71 4.95,7.30 C4.75,7.89 4.84,8.16 4.59,8.76 C4.34,9.35 3.79,10.12 3.43,10.88 C3.07,11.65 2.71,12.38 2.45,13.35 C2.18,14.32 1.99,15.49 1.83,16.69 C1.68,17.90 1.64,19.25 1.52,20.57 C1.40,21.89 1.18,23.37 1.12,24.61 C1.05,25.84 1.09,26.92 1.11,27.96 C1.13,29.00 0.97,29.88 1.24,30.82 C1.52,31.77 2.19,33.38 2.77,33.65 C3.35,33.91 4.11,32.55 4.71,32.43 C5.32,32.32 5.85,32.77 6.39,32.96 C6.94,33.16 7.52,33.55 8.00,33.60 C8.48,33.65 8.77,33.42 9.25,33.23 C9.74,33.05 10.25,32.46 10.89,32.50 C11.54,32.54 12.46,33.75 13.13,33.47 C13.80,33.20 14.62,31.76 14.89,30.84 C15.17,29.92 14.78,29.00 14.79,27.98 C14.80,26.96 15.01,25.98 14.96,24.70 C14.91,23.43 14.61,21.70 14.48,20.30 C14.35,18.91 14.32,17.52 14.18,16.36 C14.04,15.19 13.83,14.26 13.61,13.31 C13.40,12.36 13.22,11.43 12.87,10.66 C12.51,9.89 11.80,9.25 11.48,8.69 C11.16,8.13 11.21,7.91 10.97,7.33 C10.74,6.75 10.34,5.95 10.07,5.22 C9.79,4.50 9.68,3.64 9.32,2.99 C8.96,2.34 8.28,1.30 7.93,1.32 Z" fill="url(#mg)" stroke="#8c8c8c" stroke-opacity="0.55" stroke-width="1.0" transform="translate(0.26,0) rotate(0.2 8 20)"/>
<ellipse cx="5.6" cy="27.5" rx="2.5" ry="2.2" fill="#a8a8a8" opacity="0.22"/><ellipse cx="8.5" cy="29.1" rx="1.9" ry="1.9" fill="#a8a8a8" opacity="0.22"/><ellipse cx="3.5" cy="28.8" rx="2.3" ry="2.3" fill="#a8a8a8" opacity="0.22"/><ellipse cx="8.3" cy="19.3" rx="1.6" ry="3.5" fill="#a8a8a8" opacity="0.22"/><ellipse cx="9.6" cy="13.2" rx="1.2" ry="2.4" fill="#a8a8a8" opacity="0.22"/>
<g><ellipse cx="6" cy="10" rx="1.69" ry="1.52" fill="#a8a0ea" opacity="0.45"/><ellipse cx="6" cy="10" rx="1.30" ry="1.17" fill="#4232b8"/><ellipse cx="6" cy="10" rx="0.65" ry="0.59" fill="#6a5cd0"/></g>
<g><ellipse cx="10.3" cy="13.5" rx="3.25" ry="2.60" fill="#a8a0ea" opacity="0.45"/><ellipse cx="10.3" cy="13.5" rx="2.50" ry="2.00" fill="#4232b8"/><ellipse cx="10.3" cy="13.5" rx="1.25" ry="1.00" fill="#6a5cd0"/></g>
<g><ellipse cx="11.6" cy="26.5" rx="2.60" ry="2.34" fill="#a8a0ea" opacity="0.45"/><ellipse cx="11.6" cy="26.5" rx="2.00" ry="1.80" fill="#4232b8"/><ellipse cx="11.6" cy="26.5" rx="1.00" ry="0.90" fill="#6a5cd0"/></g>
</g></g>
<rect x="103.00" y="187.30" width="16.0" height="34.0" fill="#1a1a1a"/>
<g transform="translate(103.00,187.30)" clip-path="url(#cc)"><g filter="url(#bl)">
<path d="M8.15,1.45 C7.74,1.43 7.07,2.22 6.66,2.83 C6.25,3.43 5.94,4.35 5.68,5.08 C5.41,5.81 5.27,6.55 5.06,7.21 C4.85,7.87 4.73,8.45 4.40,9.05 C4.06,9.65 3.44,10.10 3.04,10.82 C2.63,11.53 2.25,12.36 1.96,13.34 C1.66,14.31 1.34,15.44 1.25,16.66 C1.17,17.88 1.52,19.37 1.44,20.66 C1.37,21.95 0.87,23.20 0.81,24.38 C0.74,25.57 0.97,26.70 1.05,27.80 C1.13,28.90 0.97,30.04 1.29,30.98 C1.60,31.93 2.29,33.19 2.92,33.44 C3.55,33.70 4.40,32.58 5.05,32.50 C5.70,32.42 6.31,32.78 6.80,32.96 C7.29,33.14 7.52,33.63 8.00,33.60 C8.48,33.57 9.12,32.99 9.69,32.80 C10.26,32.60 10.81,32.35 11.43,32.45 C12.05,32.56 12.93,33.63 13.43,33.41 C13.94,33.20 14.20,32.08 14.46,31.17 C14.72,30.25 14.94,29.03 14.97,27.91 C14.99,26.78 14.64,25.62 14.60,24.40 C14.57,23.19 14.83,21.91 14.78,20.61 C14.73,19.31 14.51,17.84 14.30,16.59 C14.09,15.35 13.78,14.07 13.52,13.15 C13.27,12.22 13.04,11.75 12.77,11.03 C12.51,10.32 12.25,9.53 11.93,8.88 C11.61,8.23 11.12,7.77 10.86,7.14 C10.59,6.50 10.63,5.76 10.35,5.07 C10.06,4.38 9.51,3.58 9.14,2.98 C8.78,2.38 8.56,1.48 8.15,1.45 Z" fill="url(#mg)" stroke="#8c8c8c" stroke-opacity="0.55" stroke-width="1.0" transform="translate(0.30,0) rotate(-0.9 8 20)"/>
<ellipse cx="3.1" cy="29.8" rx="2.3" ry="1.9" fill="#a8a8a8" opacity="0.22"/><ellipse cx="9.2" cy="14.4" rx="1.7" ry="2.6" fill="#a8a8a8" opacity="0.22"/><ellipse cx="6.0" cy="15.4" rx="1.7" ry="2.8" fill="#a8a8a8" opacity="0.22"/><ellipse cx="5.6" cy="12.4" rx="2.2" ry="2.2" fill="#a8a8a8" opacity="0.22"/><ellipse cx="12.5" cy="20.4" rx="2.2" ry="2.2" fill="#a8a8a8" opacity="0.22"/>
<g><ellipse cx="5.1" cy="8.9" rx="2.60" ry="2.34" fill="#a8a0ea" opacity="0.45"/><ellipse cx="5.1" cy="8.9" rx="2.00" ry="1.80" fill="#4232b8"/><ellipse cx="5.1" cy="8.9" rx="1.00" ry="0.90" fill="#6a5cd0"/></g>
<g><ellipse cx="8.6" cy="15.8" rx="3.25" ry="2.93" fill="#a8a0ea" opacity="0.45"/><ellipse cx="8.6" cy="15.8" rx="2.50" ry="2.25" fill="#4030b0"/><ellipse cx="8.6" cy="15.8" rx="1.38" ry="1.24" fill="#8e86da"/></g>
<g><ellipse cx="12" cy="19.2" rx="1.95" ry="1.76" fill="#a8a0ea" opacity="0.45"/><ellipse cx="12" cy="19.2" rx="1.50" ry="1.35" fill="#4232b8"/><ellipse cx="12" cy="19.2" rx="0.75" ry="0.68" fill="#6a5cd0"/></g>
<g><ellipse cx="3.8" cy="28.5" rx="3.25" ry="3.90" fill="#a8a0ea" opacity="0.45"/><ellipse cx="3.8" cy="28.5" rx="2.50" ry="3.00" fill="#4232b8"/><ellipse cx="3.8" cy="28.5" rx="1.25" ry="1.50" fill="#6a5cd0"/></g>
<g><ellipse cx="12" cy="28" rx="2.60" ry="2.34" fill="#a8a0ea" opacity="0.45"/><ellipse cx="12" cy="28" rx="2.00" ry="1.80" fill="#4232b8"/><ellipse cx="12" cy="28" rx="1.00" ry="0.90" fill="#6a5cd0"/></g>
<g><ellipse cx="14.5" cy="27.4" rx="1.69" ry="1.52" fill="#a8a0ea" opacity="0.45"/><ellipse cx="14.5" cy="27.4" rx="1.30" ry="1.17" fill="#4030b0"/><ellipse cx="14.5" cy="27.4" rx="0.72" ry="0.64" fill="#e8d030"/></g>
</g></g>
<rect x="120.25" y="187.30" width="16.0" height="34.0" fill="#1a1a1a"/>
<g transform="translate(120.25,187.30)" clip-path="url(#cc)"><g filter="url(#bl)">
<path d="M7.75,1.20 C7.45,1.24 7.39,2.45 7.02,3.10 C6.66,3.76 5.91,4.46 5.58,5.15 C5.24,5.84 5.30,6.66 5.04,7.25 C4.78,7.83 4.36,8.10 4.01,8.66 C3.67,9.22 3.27,9.89 2.96,10.61 C2.65,11.33 2.31,12.01 2.13,12.99 C1.96,13.96 2.05,15.20 1.89,16.46 C1.74,17.73 1.31,19.21 1.21,20.57 C1.11,21.94 1.35,23.44 1.29,24.66 C1.22,25.88 0.83,26.90 0.82,27.92 C0.81,28.93 0.95,29.83 1.24,30.76 C1.52,31.69 1.88,33.17 2.53,33.50 C3.18,33.83 4.44,32.82 5.14,32.74 C5.83,32.67 6.24,32.91 6.71,33.05 C7.19,33.20 7.61,33.62 8.00,33.60 C8.39,33.58 8.55,33.07 9.06,32.92 C9.58,32.76 10.41,32.60 11.09,32.68 C11.77,32.75 12.52,33.59 13.12,33.34 C13.73,33.08 14.34,32.02 14.71,31.14 C15.07,30.26 15.34,29.14 15.33,28.06 C15.32,26.97 14.70,25.89 14.66,24.63 C14.62,23.38 15.14,21.88 15.08,20.52 C15.02,19.17 14.55,17.70 14.30,16.50 C14.04,15.30 13.74,14.26 13.55,13.31 C13.36,12.36 13.42,11.53 13.14,10.81 C12.86,10.08 12.21,9.53 11.85,8.97 C11.49,8.40 11.25,8.08 10.99,7.42 C10.73,6.77 10.65,5.81 10.29,5.05 C9.93,4.29 9.23,3.51 8.81,2.87 C8.38,2.23 8.05,1.16 7.75,1.20 Z" fill="url(#mg)" stroke="#8c8c8c" stroke-opacity="0.55" stroke-width="1.0" transform="translate(-0.41,0) rotate(2.3 8 20)"/>
<ellipse cx="8.8" cy="23.3" rx="1.7" ry="3.4" fill="#a8a8a8" opacity="0.22"/><ellipse cx="6.6" cy="18.2" rx="1.4" ry="3.4" fill="#a8a8a8" opacity="0.22"/><ellipse cx="4.4" cy="27.9" rx="2.0" ry="2.6" fill="#a8a8a8" opacity="0.22"/><ellipse cx="8.6" cy="13.8" rx="2.5" ry="3.5" fill="#a8a8a8" opacity="0.22"/><ellipse cx="11.2" cy="21.2" rx="1.4" ry="3.1" fill="#a8a8a8" opacity="0.22"/>
<g><ellipse cx="6.3" cy="11.7" rx="3.90" ry="2.21" fill="#a8a0ea" opacity="0.45"/><ellipse cx="6.3" cy="11.7" rx="3.00" ry="1.70" fill="#4232b8"/><ellipse cx="6.3" cy="11.7" rx="1.50" ry="0.85" fill="#6a5cd0"/></g>
<g><ellipse cx="2.2" cy="28" rx="2.86" ry="2.57" fill="#a8a0ea" opacity="0.45"/><ellipse cx="2.2" cy="28" rx="2.20" ry="1.98" fill="#4232b8"/><ellipse cx="2.2" cy="28" rx="1.10" ry="0.99" fill="#6a5cd0"/></g>
<g><ellipse cx="12.5" cy="28" rx="2.60" ry="2.34" fill="#a8a0ea" opacity="0.45"/><ellipse cx="12.5" cy="28" rx="2.00" ry="1.80" fill="#4030b0"/><ellipse cx="12.5" cy="28" rx="1.50" ry="1.35" fill="#e8a040"/><ellipse cx="12.5" cy="28" rx="1.10" ry="0.99" fill="#e83a1a"/></g>
</g></g>
<rect x="137.50" y="187.30" width="16.0" height="34.0" fill="#1a1a1a"/>
<g transform="translate(137.50,187.30)" clip-path="url(#cc)"><g filter="url(#bl)">
<path d="M7.82,1.44 C7.46,1.40 7.46,2.25 7.13,2.84 C6.80,3.43 6.28,4.29 5.83,4.99 C5.39,5.69 4.67,6.37 4.47,7.04 C4.27,7.71 4.83,8.41 4.64,9.02 C4.45,9.63 3.70,9.99 3.31,10.70 C2.92,11.42 2.62,12.35 2.32,13.32 C2.02,14.29 1.67,15.39 1.52,16.55 C1.37,17.70 1.52,18.94 1.41,20.26 C1.31,21.58 1.02,23.20 0.89,24.48 C0.76,25.76 0.57,26.88 0.65,27.94 C0.73,29.00 1.02,29.95 1.35,30.84 C1.68,31.73 2.03,33.00 2.61,33.28 C3.20,33.56 4.17,32.60 4.85,32.52 C5.53,32.43 6.17,32.59 6.70,32.77 C7.22,32.95 7.53,33.59 8.00,33.60 C8.47,33.61 8.93,32.98 9.52,32.82 C10.11,32.66 10.88,32.56 11.52,32.65 C12.16,32.74 12.83,33.61 13.38,33.36 C13.92,33.10 14.47,31.97 14.79,31.09 C15.10,30.22 15.26,29.18 15.28,28.13 C15.30,27.07 14.93,25.99 14.89,24.75 C14.85,23.51 15.13,22.06 15.04,20.68 C14.94,19.30 14.53,17.68 14.34,16.47 C14.14,15.25 14.10,14.35 13.85,13.40 C13.59,12.46 13.18,11.55 12.82,10.81 C12.45,10.08 11.94,9.64 11.65,9.00 C11.36,8.36 11.29,7.58 11.07,6.98 C10.86,6.38 10.66,6.05 10.36,5.40 C10.06,4.75 9.69,3.71 9.26,3.05 C8.84,2.39 8.17,1.47 7.82,1.44 Z" fill="url(#mg)" stroke="#8c8c8c" stroke-opacity="0.55" stroke-width="1.0" transform="translate(0.40,0) rotate(-1.5 8 20)"/>
<ellipse cx="10.5" cy="14.7" rx="2.0" ry="1.6" fill="#a8a8a8" opacity="0.22"/><ellipse cx="4.2" cy="17.8" rx="1.9" ry="2.3" fill="#a8a8a8" opacity="0.22"/><ellipse cx="3.5" cy="23.3" rx="1.9" ry="2.0" fill="#a8a8a8" opacity="0.22"/><ellipse cx="6.1" cy="16.7" rx="1.5" ry="1.6" fill="#a8a8a8" opacity="0.22"/><ellipse cx="12.1" cy="29.3" rx="2.1" ry="3.2" fill="#a8a8a8" opacity="0.22"/>
<g><ellipse cx="5.5" cy="9.6" rx="2.99" ry="2.69" fill="#a8a0ea" opacity="0.45"/><ellipse cx="5.5" cy="9.6" rx="2.30" ry="2.07" fill="#4030b0"/><ellipse cx="5.5" cy="9.6" rx="1.26" ry="1.14" fill="#8e86da"/></g>
<g><ellipse cx="2" cy="27.3" rx="3.25" ry="2.93" fill="#a8a0ea" opacity="0.45"/><ellipse cx="2" cy="27.3" rx="2.50" ry="2.25" fill="#4030b0"/><ellipse cx="2" cy="27.3" rx="1.38" ry="1.24" fill="#38a8d0"/></g>
<g><ellipse cx="13" cy="28.5" rx="1.56" ry="1.40" fill="#a8a0ea" opacity="0.45"/><ellipse cx="13" cy="28.5" rx="1.20" ry="1.08" fill="#4232b8"/><ellipse cx="13" cy="28.5" rx="0.60" ry="0.54" fill="#6a5cd0"/></g>
</g></g>
<rect x="154.75" y="187.30" width="16.0" height="34.0" fill="#1a1a1a"/>
<g transform="translate(154.75,187.30)" clip-path="url(#cc)"><g filter="url(#bl)">
<path d="M7.81,1.52 C7.42,1.58 7.33,2.56 6.95,3.20 C6.57,3.84 5.92,4.68 5.52,5.35 C5.12,6.02 4.69,6.68 4.54,7.22 C4.39,7.75 4.87,7.97 4.62,8.55 C4.36,9.13 3.44,9.96 3.02,10.70 C2.60,11.44 2.27,11.99 2.08,12.98 C1.89,13.97 2.03,15.42 1.88,16.66 C1.72,17.90 1.25,19.16 1.13,20.43 C1.01,21.70 1.25,22.98 1.16,24.27 C1.07,25.57 0.57,27.08 0.57,28.20 C0.57,29.32 0.78,30.09 1.17,31.00 C1.55,31.91 2.30,33.40 2.90,33.64 C3.51,33.88 4.19,32.52 4.78,32.45 C5.37,32.38 5.92,33.02 6.46,33.21 C6.99,33.40 7.46,33.66 8.00,33.60 C8.54,33.54 9.11,33.03 9.68,32.85 C10.25,32.67 10.82,32.46 11.44,32.53 C12.05,32.59 12.79,33.45 13.38,33.24 C13.97,33.02 14.71,32.11 14.97,31.25 C15.22,30.39 14.94,29.16 14.89,28.07 C14.84,26.97 14.75,25.98 14.68,24.69 C14.62,23.40 14.51,21.68 14.49,20.30 C14.46,18.92 14.63,17.56 14.56,16.41 C14.49,15.25 14.35,14.35 14.08,13.38 C13.81,12.42 13.32,11.35 12.95,10.62 C12.58,9.89 12.14,9.62 11.84,9.02 C11.54,8.41 11.47,7.64 11.16,6.99 C10.86,6.34 10.33,5.79 10.01,5.10 C9.69,4.41 9.61,3.44 9.25,2.85 C8.88,2.25 8.19,1.46 7.81,1.52 Z" fill="url(#mg)" stroke="#8c8c8c" stroke-opacity="0.55" stroke-width="1.0" transform="translate(0.31,0) rotate(-0.6 8 20)"/>
<ellipse cx="4.8" cy="13.2" rx="2.1" ry="3.1" fill="#a8a8a8" opacity="0.22"/><ellipse cx="6.7" cy="22.6" rx="2.4" ry="2.7" fill="#a8a8a8" opacity="0.22"/><ellipse cx="5.3" cy="14.6" rx="2.5" ry="2.8" fill="#a8a8a8" opacity="0.22"/><ellipse cx="5.8" cy="22.1" rx="1.3" ry="3.5" fill="#a8a8a8" opacity="0.22"/><ellipse cx="7.4" cy="19.6" rx="1.9" ry="1.6" fill="#a8a8a8" opacity="0.22"/>
<g><ellipse cx="4.6" cy="9.6" rx="2.60" ry="2.34" fill="#a8a0ea" opacity="0.45"/><ellipse cx="4.6" cy="9.6" rx="2.00" ry="1.80" fill="#4030b0"/><ellipse cx="4.6" cy="9.6" rx="1.10" ry="0.99" fill="#8e86da"/></g>
<g><ellipse cx="8" cy="10.5" rx="1.56" ry="1.40" fill="#a8a0ea" opacity="0.45"/><ellipse cx="8" cy="10.5" rx="1.20" ry="1.08" fill="#4232b8"/><ellipse cx="8" cy="10.5" rx="0.60" ry="0.54" fill="#6a5cd0"/></g>
<g><ellipse cx="7.4" cy="31" rx="2.34" ry="2.11" fill="#a8a0ea" opacity="0.45"/><ellipse cx="7.4" cy="31" rx="1.80" ry="1.62" fill="#4232b8"/><ellipse cx="7.4" cy="31" rx="0.90" ry="0.81" fill="#6a5cd0"/></g>
<g><ellipse cx="14" cy="26.7" rx="1.95" ry="1.76" fill="#a8a0ea" opacity="0.45"/><ellipse cx="14" cy="26.7" rx="1.50" ry="1.35" fill="#4030b0"/><ellipse cx="14" cy="26.7" rx="0.83" ry="0.74" fill="#38a8d0"/></g>
</g></g>
<rect x="172.00" y="187.30" width="16.0" height="34.0" fill="#1a1a1a"/>
<g transform="translate(172.00,187.30)" clip-path="url(#cc)"><g filter="url(#bl)">
<path d="M7.83,1.55 C7.46,1.50 6.92,2.31 6.61,2.89 C6.30,3.48 6.31,4.35 5.98,5.07 C5.65,5.79 4.96,6.57 4.65,7.22 C4.33,7.88 4.26,8.44 4.08,9.00 C3.90,9.56 3.86,9.85 3.54,10.57 C3.22,11.29 2.51,12.30 2.17,13.33 C1.84,14.35 1.68,15.55 1.52,16.71 C1.36,17.88 1.26,19.03 1.20,20.34 C1.14,21.65 1.21,23.28 1.14,24.57 C1.07,25.86 0.74,27.01 0.80,28.08 C0.86,29.15 1.20,30.09 1.50,31.01 C1.80,31.92 2.03,33.31 2.60,33.57 C3.18,33.84 4.21,32.73 4.93,32.61 C5.65,32.49 6.40,32.67 6.92,32.84 C7.43,33.00 7.55,33.60 8.00,33.60 C8.45,33.60 9.05,33.02 9.60,32.83 C10.14,32.64 10.65,32.35 11.28,32.47 C11.90,32.58 12.75,33.76 13.36,33.54 C13.96,33.32 14.64,32.07 14.90,31.15 C15.16,30.22 14.95,29.10 14.92,27.99 C14.88,26.89 14.72,25.83 14.70,24.54 C14.69,23.25 14.84,21.59 14.80,20.27 C14.76,18.95 14.63,17.75 14.47,16.61 C14.31,15.46 14.17,14.38 13.85,13.39 C13.54,12.39 12.99,11.39 12.58,10.63 C12.16,9.86 11.60,9.37 11.36,8.80 C11.13,8.22 11.38,7.75 11.15,7.17 C10.93,6.60 10.43,6.01 10.03,5.35 C9.64,4.69 9.17,3.84 8.80,3.20 C8.43,2.57 8.19,1.60 7.83,1.55 Z" fill="url(#mg)" stroke="#8c8c8c" stroke-opacity="0.55" stroke-width="1.0" transform="translate(-0.22,0) rotate(0.7 8 20)"/>
<ellipse cx="8.7" cy="20.0" rx="2.3" ry="2.0" fill="#a8a8a8" opacity="0.22"/><ellipse cx="4.5" cy="14.8" rx="1.3" ry="2.1" fill="#a8a8a8" opacity="0.22"/><ellipse cx="9.2" cy="19.6" rx="1.6" ry="2.7" fill="#a8a8a8" opacity="0.22"/><ellipse cx="3.9" cy="26.1" rx="1.4" ry="2.0" fill="#a8a8a8" opacity="0.22"/><ellipse cx="4.6" cy="23.2" rx="2.4" ry="3.1" fill="#a8a8a8" opacity="0.22"/>
<g><ellipse cx="8.2" cy="9.6" rx="1.56" ry="1.40" fill="#a8a0ea" opacity="0.45"/><ellipse cx="8.2" cy="9.6" rx="1.20" ry="1.08" fill="#4232b8"/><ellipse cx="8.2" cy="9.6" rx="0.60" ry="0.54" fill="#6a5cd0"/></g>
<g><ellipse cx="3.5" cy="28" rx="3.25" ry="2.93" fill="#a8a0ea" opacity="0.45"/><ellipse cx="3.5" cy="28" rx="2.50" ry="2.25" fill="#4030b0"/><ellipse cx="3.5" cy="28" rx="1.38" ry="1.24" fill="#70c060"/></g>
<g><ellipse cx="13" cy="27.4" rx="1.95" ry="1.76" fill="#a8a0ea" opacity="0.45"/><ellipse cx="13" cy="27.4" rx="1.50" ry="1.35" fill="#4232b8"/><ellipse cx="13" cy="27.4" rx="0.75" ry="0.68" fill="#6a5cd0"/></g>
</g></g>
<rect x="189.25" y="187.30" width="16.0" height="34.0" fill="#1a1a1a"/>
<g transform="translate(189.25,187.30)" clip-path="url(#cc)"><g filter="url(#bl)">
<path d="M7.91,1.26 C7.54,1.21 7.58,2.09 7.23,2.77 C6.88,3.45 6.14,4.62 5.79,5.33 C5.44,6.04 5.39,6.42 5.14,7.02 C4.89,7.62 4.65,8.31 4.27,8.92 C3.89,9.53 3.18,9.99 2.88,10.67 C2.58,11.35 2.70,12.07 2.47,13.02 C2.25,13.98 1.75,15.19 1.53,16.40 C1.30,17.61 1.27,18.90 1.15,20.29 C1.02,21.68 0.78,23.44 0.77,24.75 C0.76,26.05 1.03,27.10 1.08,28.12 C1.14,29.14 0.85,30.02 1.11,30.88 C1.37,31.74 2.03,32.95 2.64,33.27 C3.25,33.59 4.13,32.87 4.77,32.82 C5.42,32.76 5.97,32.79 6.50,32.92 C7.04,33.05 7.46,33.58 8.00,33.60 C8.54,33.62 9.26,33.23 9.74,33.06 C10.22,32.88 10.25,32.53 10.88,32.55 C11.51,32.57 12.89,33.42 13.50,33.18 C14.12,32.94 14.28,31.95 14.59,31.10 C14.90,30.24 15.26,29.15 15.36,28.05 C15.45,26.94 15.28,25.71 15.17,24.48 C15.07,23.25 14.87,21.98 14.73,20.67 C14.58,19.36 14.50,17.90 14.32,16.64 C14.13,15.38 13.89,14.09 13.60,13.12 C13.31,12.15 12.93,11.57 12.58,10.82 C12.22,10.08 11.73,9.26 11.46,8.65 C11.20,8.05 11.23,7.76 11.00,7.18 C10.77,6.60 10.33,5.86 10.07,5.17 C9.81,4.49 9.81,3.74 9.45,3.09 C9.09,2.44 8.27,1.31 7.91,1.26 Z" fill="url(#mg)" stroke="#8c8c8c" stroke-opacity="0.55" stroke-width="1.0" transform="translate(-0.09,0) rotate(-3.1 8 20)"/>
<ellipse cx="11.6" cy="12.5" rx="1.7" ry="1.6" fill="#a8a8a8" opacity="0.22"/><ellipse cx="9.9" cy="16.0" rx="1.6" ry="1.5" fill="#a8a8a8" opacity="0.22"/><ellipse cx="4.8" cy="13.8" rx="1.8" ry="3.3" fill="#a8a8a8" opacity="0.22"/><ellipse cx="10.2" cy="13.9" rx="1.7" ry="1.8" fill="#a8a8a8" opacity="0.22"/><ellipse cx="12.4" cy="15.9" rx="2.3" ry="2.9" fill="#a8a8a8" opacity="0.22"/>
<g><ellipse cx="8" cy="9.5" rx="5.20" ry="5.20" fill="#a8a0ea" opacity="0.45"/><ellipse cx="8" cy="9.5" rx="4.00" ry="4.00" fill="#4232b8"/><ellipse cx="8" cy="9.5" rx="2.00" ry="2.00" fill="#6a5cd0"/></g>
<g><ellipse cx="6" cy="14" rx="2.60" ry="2.34" fill="#a8a0ea" opacity="0.45"/><ellipse cx="6" cy="14" rx="2.00" ry="1.80" fill="#4232b8"/><ellipse cx="6" cy="14" rx="1.00" ry="0.90" fill="#6a5cd0"/></g>
<g><ellipse cx="4" cy="28" rx="4.68" ry="4.55" fill="#a8a0ea" opacity="0.45"/><ellipse cx="4" cy="28" rx="3.60" ry="3.50" fill="#4030b0"/><ellipse cx="4" cy="28" rx="2.70" ry="2.62" fill="#e8a040"/><ellipse cx="4" cy="28" rx="1.98" ry="1.93" fill="#e83a1a"/></g>
<g><ellipse cx="9.5" cy="28.5" rx="3.90" ry="3.90" fill="#a8a0ea" opacity="0.45"/><ellipse cx="9.5" cy="28.5" rx="3.00" ry="3.00" fill="#4030b0"/><ellipse cx="9.5" cy="28.5" rx="1.65" ry="1.65" fill="#e8d030"/></g>
<g><ellipse cx="13" cy="27.5" rx="2.86" ry="2.57" fill="#a8a0ea" opacity="0.45"/><ellipse cx="13" cy="27.5" rx="2.20" ry="1.98" fill="#4030b0"/><ellipse cx="13" cy="27.5" rx="1.65" ry="1.49" fill="#e8a040"/><ellipse cx="13" cy="27.5" rx="1.21" ry="1.09" fill="#e83a1a"/></g>
</g></g>
<rect x="206.50" y="187.30" width="16.0" height="34.0" fill="#1a1a1a"/>
<g transform="translate(206.50,187.30)" clip-path="url(#cc)"><g filter="url(#bl)">
<path d="M7.88,1.34 C7.49,1.40 6.97,2.53 6.61,3.19 C6.24,3.86 5.98,4.70 5.68,5.34 C5.38,5.97 5.06,6.42 4.81,6.98 C4.57,7.53 4.55,8.06 4.23,8.67 C3.90,9.28 3.21,9.91 2.88,10.63 C2.55,11.34 2.50,11.99 2.27,12.97 C2.03,13.94 1.64,15.24 1.47,16.46 C1.30,17.69 1.27,19.00 1.23,20.32 C1.19,21.64 1.27,23.09 1.24,24.38 C1.22,25.67 1.09,27.00 1.06,28.08 C1.03,29.16 0.82,29.95 1.05,30.85 C1.28,31.76 1.83,33.22 2.45,33.51 C3.06,33.79 4.00,32.65 4.73,32.54 C5.47,32.44 6.31,32.69 6.86,32.86 C7.40,33.04 7.60,33.59 8.00,33.60 C8.40,33.61 8.75,33.13 9.25,32.92 C9.75,32.72 10.37,32.28 11.00,32.37 C11.64,32.46 12.44,33.67 13.07,33.47 C13.69,33.26 14.35,32.08 14.75,31.15 C15.14,30.23 15.39,28.97 15.43,27.90 C15.48,26.82 15.16,25.93 15.02,24.71 C14.88,23.49 14.69,21.92 14.60,20.59 C14.52,19.26 14.61,17.98 14.52,16.73 C14.43,15.47 14.33,14.09 14.06,13.07 C13.79,12.05 13.29,11.32 12.89,10.59 C12.49,9.87 11.98,9.32 11.65,8.75 C11.32,8.17 11.15,7.73 10.89,7.14 C10.63,6.55 10.40,5.92 10.08,5.20 C9.76,4.48 9.31,3.47 8.95,2.83 C8.58,2.19 8.27,1.28 7.88,1.34 Z" fill="url(#mg)" stroke="#8c8c8c" stroke-opacity="0.55" stroke-width="1.0" transform="translate(-0.48,0) rotate(2.8 8 20)"/>
<ellipse cx="7.0" cy="18.5" rx="1.4" ry="2.8" fill="#a8a8a8" opacity="0.22"/><ellipse cx="5.4" cy="10.0" rx="1.7" ry="2.3" fill="#a8a8a8" opacity="0.22"/><ellipse cx="4.5" cy="20.8" rx="2.2" ry="2.6" fill="#a8a8a8" opacity="0.22"/><ellipse cx="10.0" cy="8.5" rx="1.7" ry="2.2" fill="#a8a8a8" opacity="0.22"/><ellipse cx="3.6" cy="16.9" rx="1.3" ry="2.5" fill="#a8a8a8" opacity="0.22"/>
<g><ellipse cx="7.5" cy="19.2" rx="3.25" ry="2.60" fill="#a8a0ea" opacity="0.45"/><ellipse cx="7.5" cy="19.2" rx="2.50" ry="2.00" fill="#4232b8"/><ellipse cx="7.5" cy="19.2" rx="1.25" ry="1.00" fill="#6a5cd0"/></g>
<g><ellipse cx="10.2" cy="9" rx="1.56" ry="1.40" fill="#a8a0ea" opacity="0.45"/><ellipse cx="10.2" cy="9" rx="1.20" ry="1.08" fill="#4232b8"/><ellipse cx="10.2" cy="9" rx="0.60" ry="0.54" fill="#6a5cd0"/></g>
<g><ellipse cx="1.8" cy="26.7" rx="2.34" ry="2.11" fill="#a8a0ea" opacity="0.45"/><ellipse cx="1.8" cy="26.7" rx="1.80" ry="1.62" fill="#4030b0"/><ellipse cx="1.8" cy="26.7" rx="0.99" ry="0.89" fill="#8e86da"/></g>
<g><ellipse cx="11.8" cy="27.4" rx="2.60" ry="2.34" fill="#a8a0ea" opacity="0.45"/><ellipse cx="11.8" cy="27.4" rx="2.00" ry="1.80" fill="#4030b0"/><ellipse cx="11.8" cy="27.4" rx="1.40" ry="1.26" fill="#40a8b0"/><ellipse cx="11.8" cy="27.4" rx="1.10" ry="0.99" fill="#d06030"/></g>
</g></g>
<rect x="223.75" y="187.30" width="16.0" height="34.0" fill="#1a1a1a"/>
<g transform="translate(223.75,187.30)" clip-path="url(#cc)"><g filter="url(#bl)">
<path d="M7.88,1.28 C7.50,1.25 6.87,2.26 6.57,2.92 C6.27,3.58 6.40,4.51 6.07,5.23 C5.75,5.96 4.97,6.69 4.63,7.28 C4.30,7.88 4.31,8.16 4.08,8.78 C3.85,9.41 3.61,10.29 3.28,11.03 C2.95,11.77 2.33,12.30 2.10,13.24 C1.88,14.17 2.05,15.42 1.91,16.64 C1.77,17.86 1.43,19.26 1.29,20.56 C1.14,21.86 1.13,23.19 1.04,24.46 C0.95,25.73 0.66,27.08 0.74,28.16 C0.83,29.25 1.21,30.11 1.57,30.94 C1.92,31.77 2.39,32.89 2.89,33.17 C3.38,33.45 3.95,32.64 4.55,32.60 C5.14,32.56 5.89,32.76 6.47,32.93 C7.04,33.10 7.46,33.62 8.00,33.60 C8.54,33.58 9.24,33.01 9.73,32.82 C10.23,32.64 10.35,32.39 10.98,32.46 C11.62,32.54 12.97,33.51 13.53,33.27 C14.09,33.03 14.10,31.92 14.35,31.02 C14.60,30.12 14.93,28.94 15.03,27.87 C15.12,26.80 14.93,25.79 14.90,24.58 C14.86,23.36 14.91,21.88 14.83,20.56 C14.76,19.24 14.56,17.91 14.44,16.67 C14.32,15.42 14.42,14.06 14.13,13.12 C13.84,12.17 13.12,11.69 12.69,10.99 C12.27,10.29 11.80,9.52 11.57,8.91 C11.34,8.29 11.51,7.88 11.34,7.29 C11.16,6.70 10.94,6.07 10.52,5.36 C10.11,4.66 9.30,3.74 8.86,3.06 C8.42,2.38 8.26,1.30 7.88,1.28 Z" fill="url(#mg)" stroke="#8c8c8c" stroke-opacity="0.55" stroke-width="1.0" transform="translate(-0.03,0) rotate(0.6 8 20)"/>
<ellipse cx="7.9" cy="20.4" rx="1.7" ry="2.1" fill="#a8a8a8" opacity="0.22"/><ellipse cx="10.5" cy="19.7" rx="1.5" ry="2.0" fill="#a8a8a8" opacity="0.22"/><ellipse cx="6.2" cy="11.9" rx="1.9" ry="1.8" fill="#a8a8a8" opacity="0.22"/><ellipse cx="3.6" cy="9.5" rx="1.3" ry="2.9" fill="#a8a8a8" opacity="0.22"/><ellipse cx="4.1" cy="17.9" rx="2.3" ry="2.5" fill="#a8a8a8" opacity="0.22"/>
<g><ellipse cx="5" cy="9" rx="2.60" ry="2.34" fill="#a8a0ea" opacity="0.45"/><ellipse cx="5" cy="9" rx="2.00" ry="1.80" fill="#4232b8"/><ellipse cx="5" cy="9" rx="1.00" ry="0.90" fill="#6a5cd0"/></g>
<g><ellipse cx="8.4" cy="12.4" rx="2.34" ry="2.11" fill="#a8a0ea" opacity="0.45"/><ellipse cx="8.4" cy="12.4" rx="1.80" ry="1.62" fill="#4232b8"/><ellipse cx="8.4" cy="12.4" rx="0.90" ry="0.81" fill="#6a5cd0"/></g>
<g><ellipse cx="1.5" cy="26.7" rx="2.60" ry="2.34" fill="#a8a0ea" opacity="0.45"/><ellipse cx="1.5" cy="26.7" rx="2.00" ry="1.80" fill="#4030b0"/><ellipse cx="1.5" cy="26.7" rx="1.10" ry="0.99" fill="#8e86da"/></g>
<g><ellipse cx="14.1" cy="28" rx="2.60" ry="2.34" fill="#a8a0ea" opacity="0.45"/><ellipse cx="14.1" cy="28" rx="2.00" ry="1.80" fill="#4030b0"/><ellipse cx="14.1" cy="28" rx="1.10" ry="0.99" fill="#38a8d0"/></g>
</g></g>
<rect x="103.00" y="223.50" width="16.0" height="34.0" fill="#1a1a1a"/>
<g transform="translate(103.00,223.50)" clip-path="url(#cc)"><g filter="url(#bl)">
<path d="M8.26,1.18 C7.81,1.19 7.10,2.34 6.73,3.00 C6.35,3.67 6.30,4.47 6.01,5.15 C5.71,5.82 5.21,6.48 4.95,7.08 C4.69,7.67 4.76,8.07 4.45,8.71 C4.14,9.36 3.42,10.15 3.08,10.93 C2.75,11.70 2.68,12.44 2.44,13.36 C2.20,14.29 1.83,15.26 1.65,16.46 C1.46,17.66 1.40,19.20 1.34,20.56 C1.29,21.93 1.45,23.42 1.33,24.65 C1.21,25.88 0.62,26.90 0.64,27.94 C0.65,28.97 1.13,30.00 1.42,30.87 C1.71,31.74 1.81,32.83 2.38,33.16 C2.95,33.48 4.10,32.88 4.86,32.82 C5.62,32.76 6.41,32.69 6.93,32.82 C7.45,32.95 7.57,33.58 8.00,33.60 C8.43,33.62 8.98,33.13 9.53,32.96 C10.08,32.78 10.60,32.43 11.29,32.55 C11.99,32.66 13.19,33.88 13.70,33.64 C14.22,33.40 14.20,32.09 14.38,31.11 C14.57,30.13 14.77,28.85 14.83,27.77 C14.89,26.69 14.70,25.86 14.75,24.62 C14.80,23.37 15.22,21.70 15.15,20.31 C15.07,18.92 14.50,17.45 14.28,16.26 C14.06,15.08 14.09,14.12 13.83,13.19 C13.57,12.27 13.03,11.41 12.71,10.70 C12.39,10.00 12.19,9.56 11.91,8.97 C11.63,8.38 11.32,7.75 11.05,7.15 C10.78,6.54 10.55,6.03 10.28,5.33 C10.01,4.63 9.77,3.64 9.44,2.94 C9.10,2.25 8.71,1.17 8.26,1.18 Z" fill="url(#mg)" stroke="#8c8c8c" stroke-opacity="0.55" stroke-width="1.0" transform="translate(0.37,0) rotate(-2.4 8 20)"/>
<ellipse cx="9.9" cy="20.0" rx="2.3" ry="1.8" fill="#a8a8a8" opacity="0.22"/><ellipse cx="4.8" cy="10.4" rx="2.5" ry="2.0" fill="#a8a8a8" opacity="0.22"/><ellipse cx="7.9" cy="10.6" rx="1.7" ry="1.5" fill="#a8a8a8" opacity="0.22"/><ellipse cx="8.7" cy="11.2" rx="2.1" ry="2.0" fill="#a8a8a8" opacity="0.22"/><ellipse cx="5.3" cy="18.6" rx="1.7" ry="2.0" fill="#a8a8a8" opacity="0.22"/>
<g><ellipse cx="4" cy="28.5" rx="1.82" ry="1.64" fill="#a8a0ea" opacity="0.45"/><ellipse cx="4" cy="28.5" rx="1.40" ry="1.26" fill="#4232b8"/><ellipse cx="4" cy="28.5" rx="0.70" ry="0.63" fill="#6a5cd0"/></g>
</g></g>
<rect x="120.25" y="223.50" width="16.0" height="34.0" fill="#1a1a1a"/>
<g transform="translate(120.25,223.50)" clip-path="url(#cc)"><g filter="url(#bl)">
<path d="M8.27,1.30 C7.84,1.25 7.02,2.15 6.60,2.84 C6.19,3.53 6.12,4.69 5.79,5.45 C5.45,6.21 4.84,6.83 4.59,7.38 C4.34,7.94 4.49,8.20 4.29,8.76 C4.09,9.32 3.81,10.00 3.41,10.75 C3.02,11.49 2.17,12.26 1.89,13.23 C1.61,14.19 1.85,15.31 1.71,16.56 C1.57,17.81 1.10,19.36 1.04,20.72 C0.98,22.08 1.39,23.51 1.36,24.75 C1.32,25.99 0.84,27.15 0.86,28.17 C0.88,29.18 1.22,29.99 1.46,30.84 C1.69,31.68 1.76,32.98 2.27,33.23 C2.78,33.49 3.83,32.41 4.53,32.39 C5.24,32.37 5.92,32.92 6.50,33.13 C7.08,33.33 7.54,33.62 8.00,33.60 C8.46,33.58 8.79,33.20 9.27,33.01 C9.74,32.82 10.11,32.43 10.86,32.46 C11.60,32.48 13.08,33.37 13.72,33.16 C14.37,32.94 14.46,31.99 14.72,31.16 C14.98,30.32 15.29,29.20 15.30,28.12 C15.32,27.03 14.88,25.90 14.83,24.65 C14.78,23.40 15.04,22.03 15.03,20.63 C15.01,19.24 14.89,17.55 14.74,16.30 C14.59,15.05 14.41,14.09 14.12,13.15 C13.82,12.21 13.30,11.44 12.94,10.68 C12.59,9.91 12.27,9.16 11.99,8.56 C11.71,7.96 11.56,7.63 11.25,7.06 C10.94,6.49 10.46,5.79 10.12,5.13 C9.78,4.48 9.52,3.79 9.21,3.16 C8.90,2.52 8.71,1.36 8.27,1.30 Z" fill="url(#mg)" stroke="#8c8c8c" stroke-opacity="0.55" stroke-width="1.0" transform="translate(-0.44,0) rotate(-3.1 8 20)"/>
<ellipse cx="6.6" cy="22.0" rx="1.7" ry="2.1" fill="#a8a8a8" opacity="0.22"/><ellipse cx="12.1" cy="15.1" rx="1.3" ry="2.2" fill="#a8a8a8" opacity="0.22"/><ellipse cx="10.4" cy="12.6" rx="2.2" ry="2.6" fill="#a8a8a8" opacity="0.22"/><ellipse cx="9.8" cy="11.9" rx="1.3" ry="1.8" fill="#a8a8a8" opacity="0.22"/><ellipse cx="6.5" cy="17.5" rx="1.2" ry="2.5" fill="#a8a8a8" opacity="0.22"/>
<g><ellipse cx="9" cy="8.5" rx="2.08" ry="1.87" fill="#a8a0ea" opacity="0.45"/><ellipse cx="9" cy="8.5" rx="1.60" ry="1.44" fill="#4030b0"/><ellipse cx="9" cy="8.5" rx="0.88" ry="0.79" fill="#8e86da"/></g>
<g><ellipse cx="10.5" cy="11" rx="1.56" ry="1.40" fill="#a8a0ea" opacity="0.45"/><ellipse cx="10.5" cy="11" rx="1.20" ry="1.08" fill="#4232b8"/><ellipse cx="10.5" cy="11" rx="0.60" ry="0.54" fill="#6a5cd0"/></g>
</g></g>
<rect x="137.50" y="223.50" width="16.0" height="34.0" fill="#1a1a1a"/>
<g transform="translate(137.50,223.50)" clip-path="url(#cc)"><g filter="url(#bl)">
<path d="M8.03,1.63 C7.64,1.63 7.09,2.57 6.69,3.19 C6.30,3.81 6.04,4.62 5.67,5.33 C5.31,6.04 4.76,6.83 4.53,7.44 C4.29,8.06 4.50,8.48 4.25,9.03 C4.00,9.58 3.32,10.09 3.00,10.75 C2.69,11.42 2.60,12.07 2.34,13.04 C2.08,14.01 1.58,15.36 1.44,16.59 C1.30,17.82 1.61,19.10 1.51,20.41 C1.42,21.72 0.92,23.19 0.88,24.43 C0.83,25.66 1.16,26.74 1.24,27.82 C1.33,28.91 1.15,30.03 1.39,30.94 C1.64,31.84 2.12,32.95 2.70,33.26 C3.28,33.57 4.19,32.83 4.88,32.79 C5.57,32.76 6.33,32.93 6.85,33.06 C7.37,33.20 7.57,33.61 8.00,33.60 C8.43,33.59 8.92,33.17 9.40,33.03 C9.89,32.90 10.24,32.71 10.93,32.77 C11.62,32.83 12.89,33.68 13.53,33.38 C14.18,33.08 14.57,31.88 14.82,30.96 C15.06,30.04 14.99,28.94 15.02,27.87 C15.05,26.79 15.01,25.80 14.97,24.54 C14.94,23.27 14.89,21.61 14.81,20.27 C14.73,18.92 14.65,17.64 14.49,16.47 C14.33,15.30 14.10,14.22 13.87,13.25 C13.63,12.27 13.47,11.33 13.10,10.63 C12.74,9.93 11.97,9.63 11.68,9.05 C11.39,8.46 11.59,7.71 11.37,7.11 C11.15,6.51 10.75,6.10 10.37,5.44 C9.98,4.79 9.42,3.82 9.03,3.18 C8.64,2.55 8.42,1.63 8.03,1.63 Z" fill="url(#mg)" stroke="#8c8c8c" stroke-opacity="0.55" stroke-width="1.0" transform="translate(-0.18,0) rotate(-0.7 8 20)"/>
<ellipse cx="4.3" cy="29.8" rx="1.9" ry="2.0" fill="#a8a8a8" opacity="0.22"/><ellipse cx="11.4" cy="22.3" rx="2.5" ry="3.2" fill="#a8a8a8" opacity="0.22"/><ellipse cx="11.0" cy="19.3" rx="2.6" ry="1.6" fill="#a8a8a8" opacity="0.22"/><ellipse cx="11.7" cy="23.7" rx="1.6" ry="3.1" fill="#a8a8a8" opacity="0.22"/><ellipse cx="7.5" cy="19.8" rx="2.4" ry="1.9" fill="#a8a8a8" opacity="0.22"/>
<g><ellipse cx="8.5" cy="23" rx="2.34" ry="2.11" fill="#a8a0ea" opacity="0.45"/><ellipse cx="8.5" cy="23" rx="1.80" ry="1.62" fill="#4030b0"/><ellipse cx="8.5" cy="23" rx="0.99" ry="0.89" fill="#8e86da"/></g>
</g></g>
<rect x="154.75" y="223.50" width="16.0" height="34.0" fill="#1a1a1a"/>
<g transform="translate(154.75,223.50)" clip-path="url(#cc)"><g filter="url(#bl)">
<path d="M7.70,1.43 C7.41,1.42 7.45,2.34 7.10,3.00 C6.75,3.65 5.96,4.63 5.62,5.35 C5.28,6.07 5.26,6.73 5.05,7.34 C4.83,7.94 4.61,8.45 4.33,9.00 C4.06,9.55 3.78,9.96 3.41,10.63 C3.04,11.29 2.46,12.03 2.11,13.00 C1.75,13.97 1.38,15.15 1.28,16.42 C1.17,17.70 1.53,19.35 1.46,20.67 C1.38,21.99 0.94,23.09 0.83,24.34 C0.73,25.59 0.73,27.03 0.82,28.17 C0.91,29.32 1.14,30.29 1.38,31.20 C1.63,32.11 1.76,33.40 2.30,33.64 C2.84,33.89 3.83,32.75 4.59,32.66 C5.36,32.58 6.30,32.96 6.86,33.11 C7.43,33.27 7.61,33.60 8.00,33.60 C8.39,33.60 8.66,33.29 9.19,33.08 C9.71,32.88 10.47,32.32 11.15,32.36 C11.83,32.39 12.68,33.55 13.29,33.31 C13.89,33.06 14.48,31.76 14.79,30.89 C15.10,30.02 15.19,29.19 15.17,28.10 C15.15,27.00 14.72,25.58 14.68,24.31 C14.64,23.04 15.02,21.82 14.94,20.48 C14.85,19.15 14.28,17.51 14.14,16.31 C14.00,15.10 14.35,14.20 14.11,13.26 C13.87,12.31 13.04,11.37 12.70,10.65 C12.36,9.92 12.27,9.48 12.05,8.90 C11.82,8.31 11.70,7.75 11.37,7.13 C11.04,6.51 10.49,5.83 10.07,5.15 C9.65,4.48 9.25,3.69 8.85,3.07 C8.46,2.44 7.99,1.44 7.70,1.43 Z" fill="url(#mg)" stroke="#8c8c8c" stroke-opacity="0.55" stroke-width="1.0" transform="translate(0.14,0) rotate(-1.5 8 20)"/>
<ellipse cx="7.2" cy="26.0" rx="1.8" ry="2.4" fill="#a8a8a8" opacity="0.22"/><ellipse cx="8.1" cy="28.7" rx="1.7" ry="2.9" fill="#a8a8a8" opacity="0.22"/><ellipse cx="5.4" cy="20.7" rx="1.6" ry="3.2" fill="#a8a8a8" opacity="0.22"/><ellipse cx="5.9" cy="26.8" rx="2.1" ry="2.4" fill="#a8a8a8" opacity="0.22"/><ellipse cx="12.3" cy="16.5" rx="2.2" ry="2.7" fill="#a8a8a8" opacity="0.22"/>
</g></g>
<rect x="172.00" y="223.50" width="16.0" height="34.0" fill="#1a1a1a"/>
<g transform="translate(172.00,223.50)" clip-path="url(#cc)"><g filter="url(#bl)">
<path d="M7.94,1.29 C7.61,1.32 7.24,2.56 6.86,3.23 C6.48,3.90 5.98,4.66 5.66,5.30 C5.33,5.94 5.16,6.52 4.92,7.07 C4.68,7.63 4.48,8.02 4.24,8.62 C4.00,9.22 3.83,9.93 3.48,10.68 C3.13,11.43 2.42,12.12 2.14,13.12 C1.87,14.12 1.97,15.44 1.82,16.68 C1.68,17.91 1.43,19.19 1.26,20.52 C1.10,21.86 0.93,23.46 0.82,24.70 C0.71,25.93 0.55,26.86 0.61,27.93 C0.68,29.00 0.86,30.21 1.21,31.11 C1.56,32.01 2.07,33.04 2.72,33.32 C3.36,33.61 4.49,32.87 5.08,32.82 C5.67,32.78 5.78,32.94 6.27,33.07 C6.75,33.20 7.48,33.62 8.00,33.60 C8.52,33.58 8.85,33.11 9.38,32.93 C9.91,32.75 10.49,32.42 11.18,32.51 C11.87,32.59 12.88,33.66 13.52,33.45 C14.16,33.24 14.71,32.16 15.03,31.24 C15.35,30.32 15.43,29.06 15.44,27.95 C15.46,26.84 15.21,25.77 15.13,24.57 C15.05,23.38 15.11,22.10 14.94,20.75 C14.77,19.40 14.30,17.73 14.10,16.48 C13.89,15.24 13.98,14.18 13.73,13.28 C13.48,12.37 12.98,11.80 12.60,11.04 C12.23,10.29 11.77,9.38 11.50,8.73 C11.22,8.09 11.14,7.77 10.95,7.15 C10.76,6.52 10.72,5.67 10.37,4.99 C10.02,4.31 9.27,3.69 8.87,3.07 C8.46,2.46 8.28,1.27 7.94,1.29 Z" fill="url(#mg)" stroke="#8c8c8c" stroke-opacity="0.55" stroke-width="1.0" transform="translate(-0.44,0) rotate(-0.4 8 20)"/>
<ellipse cx="9.2" cy="24.3" rx="1.6" ry="3.1" fill="#a8a8a8" opacity="0.22"/><ellipse cx="10.3" cy="25.1" rx="1.4" ry="2.4" fill="#a8a8a8" opacity="0.22"/><ellipse cx="3.2" cy="26.9" rx="2.5" ry="3.3" fill="#a8a8a8" opacity="0.22"/><ellipse cx="3.2" cy="15.7" rx="2.0" ry="2.6" fill="#a8a8a8" opacity="0.22"/><ellipse cx="4.1" cy="25.4" rx="1.6" ry="2.5" fill="#a8a8a8" opacity="0.22"/>
</g></g>
<rect x="189.25" y="223.50" width="16.0" height="34.0" fill="#1a1a1a"/>
<g transform="translate(189.25,223.50)" clip-path="url(#cc)"><g filter="url(#bl)">
<path d="M7.74,1.19 C7.38,1.19 7.20,2.25 6.91,2.90 C6.62,3.54 6.36,4.39 5.99,5.07 C5.63,5.75 5.06,6.36 4.74,6.98 C4.42,7.59 4.35,8.14 4.10,8.78 C3.85,9.41 3.52,10.08 3.24,10.78 C2.96,11.48 2.68,12.08 2.45,13.00 C2.21,13.93 2.00,15.08 1.85,16.33 C1.69,17.58 1.66,19.14 1.53,20.51 C1.39,21.88 1.10,23.27 1.03,24.56 C0.97,25.84 1.12,27.20 1.15,28.23 C1.19,29.27 1.04,29.87 1.24,30.76 C1.44,31.64 1.74,33.23 2.36,33.56 C2.98,33.88 4.30,32.80 4.96,32.71 C5.63,32.62 5.85,32.87 6.36,33.02 C6.87,33.16 7.55,33.64 8.00,33.60 C8.45,33.56 8.56,32.93 9.07,32.81 C9.58,32.68 10.32,32.70 11.06,32.83 C11.80,32.96 12.95,33.89 13.50,33.57 C14.05,33.26 14.16,31.91 14.38,30.96 C14.60,30.01 14.76,28.92 14.80,27.88 C14.85,26.84 14.65,25.94 14.63,24.71 C14.61,23.48 14.70,21.83 14.68,20.49 C14.66,19.16 14.60,17.90 14.51,16.69 C14.41,15.48 14.40,14.18 14.11,13.23 C13.83,12.29 13.22,11.76 12.80,11.00 C12.39,10.25 11.86,9.35 11.63,8.70 C11.39,8.05 11.62,7.67 11.37,7.08 C11.11,6.49 10.49,5.86 10.11,5.16 C9.73,4.47 9.48,3.59 9.08,2.93 C8.69,2.27 8.10,1.20 7.74,1.19 Z" fill="url(#mg)" stroke="#8c8c8c" stroke-opacity="0.55" stroke-width="1.0" transform="translate(0.07,0) rotate(-2.6 8 20)"/>
<ellipse cx="7.3" cy="17.9" rx="1.3" ry="3.2" fill="#a8a8a8" opacity="0.22"/><ellipse cx="3.6" cy="19.6" rx="2.0" ry="2.3" fill="#a8a8a8" opacity="0.22"/><ellipse cx="5.2" cy="10.2" rx="1.7" ry="2.1" fill="#a8a8a8" opacity="0.22"/><ellipse cx="7.8" cy="13.1" rx="2.2" ry="2.5" fill="#a8a8a8" opacity="0.22"/><ellipse cx="3.1" cy="16.9" rx="2.6" ry="1.5" fill="#a8a8a8" opacity="0.22"/>
<g><ellipse cx="11.5" cy="19" rx="1.95" ry="1.76" fill="#a8a0ea" opacity="0.45"/><ellipse cx="11.5" cy="19" rx="1.50" ry="1.35" fill="#4030b0"/><ellipse cx="11.5" cy="19" rx="1.05" ry="0.94" fill="#40a8b0"/><ellipse cx="11.5" cy="19" rx="0.83" ry="0.74" fill="#d06030"/></g>
<g><ellipse cx="6" cy="29" rx="2.60" ry="2.34" fill="#a8a0ea" opacity="0.45"/><ellipse cx="6" cy="29" rx="2.00" ry="1.80" fill="#4232b8"/><ellipse cx="6" cy="29" rx="1.00" ry="0.90" fill="#6a5cd0"/></g>
<g><ellipse cx="9" cy="28.5" rx="2.08" ry="1.87" fill="#a8a0ea" opacity="0.45"/><ellipse cx="9" cy="28.5" rx="1.60" ry="1.44" fill="#4030b0"/><ellipse cx="9" cy="28.5" rx="0.88" ry="0.79" fill="#8e86da"/></g>
</g></g>
<rect x="206.50" y="223.50" width="16.0" height="34.0" fill="#1a1a1a"/>
<g transform="translate(206.50,223.50)" clip-path="url(#cc)"><g filter="url(#bl)">
<path d="M7.91,1.45 C7.57,1.40 7.15,2.27 6.81,2.90 C6.47,3.53 6.23,4.53 5.88,5.24 C5.52,5.96 4.93,6.59 4.67,7.20 C4.41,7.81 4.61,8.36 4.31,8.93 C4.01,9.49 3.27,9.90 2.89,10.60 C2.51,11.29 2.21,12.11 2.03,13.09 C1.85,14.06 1.90,15.24 1.81,16.46 C1.71,17.69 1.59,19.10 1.45,20.45 C1.31,21.81 1.09,23.29 0.95,24.59 C0.81,25.89 0.51,27.19 0.61,28.24 C0.71,29.30 1.22,30.03 1.53,30.91 C1.84,31.80 1.89,33.27 2.47,33.56 C3.05,33.85 4.37,32.74 5.00,32.67 C5.64,32.60 5.79,32.98 6.29,33.13 C6.79,33.29 7.53,33.61 8.00,33.60 C8.47,33.59 8.54,33.19 9.08,33.06 C9.62,32.93 10.50,32.80 11.24,32.81 C11.97,32.83 12.87,33.44 13.50,33.16 C14.13,32.88 14.73,32.03 15.00,31.13 C15.28,30.22 15.15,28.86 15.16,27.75 C15.17,26.64 15.10,25.63 15.07,24.46 C15.03,23.29 14.99,22.10 14.93,20.74 C14.86,19.38 14.85,17.55 14.69,16.29 C14.54,15.03 14.28,14.10 14.00,13.17 C13.71,12.25 13.37,11.47 12.98,10.74 C12.59,10.01 12.00,9.37 11.66,8.77 C11.32,8.16 11.15,7.74 10.93,7.11 C10.72,6.48 10.71,5.64 10.36,4.99 C10.01,4.33 9.24,3.76 8.83,3.17 C8.42,2.58 8.24,1.49 7.91,1.45 Z" fill="url(#mg)" stroke="#8c8c8c" stroke-opacity="0.55" stroke-width="1.0" transform="translate(0.46,0) rotate(0.7 8 20)"/>
<ellipse cx="9.7" cy="20.1" rx="1.4" ry="1.7" fill="#a8a8a8" opacity="0.22"/><ellipse cx="6.1" cy="29.0" rx="2.0" ry="3.3" fill="#a8a8a8" opacity="0.22"/><ellipse cx="5.1" cy="17.1" rx="2.0" ry="3.2" fill="#a8a8a8" opacity="0.22"/><ellipse cx="4.2" cy="27.2" rx="1.9" ry="1.6" fill="#a8a8a8" opacity="0.22"/><ellipse cx="7.3" cy="16.3" rx="2.1" ry="3.4" fill="#a8a8a8" opacity="0.22"/>
</g></g>
<rect x="223.75" y="223.50" width="16.0" height="34.0" fill="#1a1a1a"/>
<g transform="translate(223.75,223.50)" clip-path="url(#cc)"><g filter="url(#bl)">
<path d="M7.92,1.54 C7.50,1.59 7.02,2.50 6.62,3.12 C6.23,3.74 5.91,4.58 5.57,5.24 C5.23,5.91 4.84,6.54 4.59,7.12 C4.34,7.70 4.29,8.11 4.06,8.72 C3.84,9.34 3.59,10.06 3.26,10.81 C2.94,11.56 2.36,12.30 2.12,13.24 C1.88,14.17 1.98,15.22 1.84,16.43 C1.70,17.64 1.33,19.16 1.26,20.49 C1.19,21.82 1.47,23.18 1.44,24.41 C1.40,25.64 1.09,26.75 1.04,27.87 C0.99,28.98 0.86,30.21 1.13,31.12 C1.40,32.02 2.09,33.00 2.65,33.28 C3.21,33.55 3.85,32.79 4.49,32.76 C5.14,32.73 5.93,32.97 6.51,33.11 C7.10,33.25 7.53,33.61 8.00,33.60 C8.47,33.59 8.81,33.19 9.35,33.06 C9.89,32.93 10.52,32.78 11.24,32.84 C11.96,32.89 13.11,33.71 13.69,33.38 C14.26,33.05 14.43,31.80 14.69,30.87 C14.96,29.94 15.26,28.83 15.28,27.80 C15.29,26.77 14.90,25.87 14.76,24.67 C14.63,23.47 14.53,21.96 14.47,20.60 C14.42,19.24 14.58,17.79 14.45,16.53 C14.32,15.26 13.91,13.96 13.68,13.03 C13.46,12.09 13.41,11.67 13.12,10.93 C12.82,10.19 12.20,9.24 11.91,8.60 C11.63,7.95 11.72,7.62 11.40,7.06 C11.08,6.50 10.36,5.93 9.99,5.22 C9.62,4.51 9.52,3.42 9.18,2.81 C8.83,2.20 8.35,1.49 7.92,1.54 Z" fill="url(#mg)" stroke="#8c8c8c" stroke-opacity="0.55" stroke-width="1.0" transform="translate(0.19,0) rotate(-0.0 8 20)"/>
<ellipse cx="10.6" cy="20.8" rx="2.5" ry="3.3" fill="#a8a8a8" opacity="0.22"/><ellipse cx="9.9" cy="16.0" rx="2.5" ry="2.9" fill="#a8a8a8" opacity="0.22"/><ellipse cx="5.9" cy="26.9" rx="2.2" ry="2.0" fill="#a8a8a8" opacity="0.22"/><ellipse cx="5.5" cy="8.4" rx="2.0" ry="2.0" fill="#a8a8a8" opacity="0.22"/><ellipse cx="5.9" cy="13.6" rx="1.4" ry="2.5" fill="#a8a8a8" opacity="0.22"/>
<g><ellipse cx="9" cy="14" rx="1.56" ry="1.40" fill="#a8a0ea" opacity="0.45"/><ellipse cx="9" cy="14" rx="1.20" ry="1.08" fill="#4232b8"/><ellipse cx="9" cy="14" rx="0.60" ry="0.54" fill="#6a5cd0"/></g>
</g></g>
<rect x="103.00" y="259.30" width="16.0" height="34.0" fill="#1a1a1a"/>
<g transform="translate(103.00,259.30)" clip-path="url(#cc)"><g filter="url(#bl)">
<path d="M7.84,1.40 C7.50,1.38 7.46,2.17 7.16,2.83 C6.86,3.49 6.43,4.65 6.05,5.38 C5.67,6.11 5.14,6.65 4.88,7.22 C4.61,7.80 4.72,8.19 4.46,8.82 C4.20,9.45 3.66,10.30 3.31,11.01 C2.97,11.72 2.73,12.13 2.39,13.08 C2.06,14.03 1.50,15.46 1.29,16.72 C1.07,17.98 1.17,19.35 1.10,20.64 C1.04,21.94 0.96,23.23 0.91,24.48 C0.86,25.72 0.69,27.03 0.81,28.11 C0.93,29.20 1.30,30.13 1.61,31.00 C1.92,31.87 2.15,33.02 2.65,33.32 C3.15,33.63 4.00,32.84 4.61,32.82 C5.23,32.81 5.76,33.09 6.33,33.22 C6.89,33.35 7.47,33.67 8.00,33.60 C8.53,33.53 8.93,32.99 9.51,32.79 C10.09,32.59 10.83,32.33 11.48,32.40 C12.14,32.47 12.85,33.46 13.45,33.21 C14.04,32.96 14.72,31.81 15.04,30.90 C15.36,30.00 15.36,28.88 15.36,27.78 C15.36,26.68 15.16,25.49 15.02,24.28 C14.87,23.08 14.52,21.82 14.47,20.54 C14.42,19.25 14.81,17.79 14.74,16.59 C14.67,15.39 14.37,14.34 14.05,13.34 C13.73,12.34 13.20,11.37 12.81,10.59 C12.43,9.81 11.98,9.22 11.72,8.64 C11.45,8.07 11.47,7.73 11.22,7.13 C10.97,6.53 10.53,5.74 10.20,5.05 C9.87,4.35 9.64,3.57 9.24,2.96 C8.85,2.35 8.19,1.43 7.84,1.40 Z" fill="url(#mg)" stroke="#8c8c8c" stroke-opacity="0.55" stroke-width="1.0" transform="translate(-0.21,0) rotate(-1.6 8 20)"/>
<ellipse cx="7.9" cy="9.7" rx="1.9" ry="2.6" fill="#a8a8a8" opacity="0.22"/><ellipse cx="12.7" cy="20.4" rx="1.4" ry="2.1" fill="#a8a8a8" opacity="0.22"/><ellipse cx="6.4" cy="23.4" rx="2.5" ry="3.5" fill="#a8a8a8" opacity="0.22"/><ellipse cx="12.5" cy="28.4" rx="2.4" ry="3.4" fill="#a8a8a8" opacity="0.22"/><ellipse cx="3.2" cy="18.8" rx="2.0" ry="2.9" fill="#a8a8a8" opacity="0.22"/>
</g></g>
<rect x="120.25" y="259.30" width="16.0" height="34.0" fill="#1a1a1a"/>
<g transform="translate(120.25,259.30)" clip-path="url(#cc)"><g filter="url(#bl)">
<path d="M8.30,1.19 C7.97,1.26 7.39,2.59 6.91,3.23 C6.44,3.87 5.78,4.31 5.47,5.01 C5.16,5.71 5.31,6.84 5.06,7.43 C4.81,8.02 4.24,7.99 3.97,8.57 C3.70,9.14 3.72,10.12 3.43,10.89 C3.14,11.67 2.49,12.28 2.21,13.24 C1.94,14.20 2.01,15.48 1.78,16.65 C1.55,17.83 0.93,18.94 0.85,20.28 C0.77,21.63 1.26,23.46 1.31,24.74 C1.35,26.02 1.15,26.92 1.13,27.95 C1.11,28.98 1.00,29.99 1.18,30.92 C1.37,31.85 1.69,33.25 2.26,33.54 C2.84,33.82 3.91,32.75 4.63,32.64 C5.36,32.54 6.06,32.76 6.62,32.92 C7.18,33.08 7.52,33.59 8.00,33.60 C8.48,33.61 9.02,33.11 9.52,32.98 C10.02,32.84 10.41,32.75 11.01,32.79 C11.62,32.83 12.59,33.53 13.17,33.22 C13.76,32.92 14.17,31.87 14.53,30.99 C14.88,30.10 15.27,28.99 15.30,27.92 C15.33,26.85 14.83,25.81 14.72,24.58 C14.61,23.34 14.71,21.83 14.63,20.51 C14.55,19.20 14.40,17.93 14.23,16.69 C14.05,15.45 13.84,14.06 13.58,13.07 C13.32,12.07 12.95,11.41 12.66,10.71 C12.37,10.02 12.07,9.47 11.86,8.89 C11.65,8.30 11.73,7.81 11.40,7.22 C11.08,6.63 10.32,6.06 9.91,5.33 C9.49,4.60 9.19,3.55 8.92,2.86 C8.65,2.17 8.64,1.13 8.30,1.19 Z" fill="url(#mg)" stroke="#8c8c8c" stroke-opacity="0.55" stroke-width="1.0" transform="translate(0.11,0) rotate(0.8 8 20)"/>
<ellipse cx="7.1" cy="29.8" rx="1.7" ry="2.2" fill="#a8a8a8" opacity="0.22"/><ellipse cx="12.1" cy="29.8" rx="1.7" ry="1.8" fill="#a8a8a8" opacity="0.22"/><ellipse cx="10.9" cy="25.2" rx="1.7" ry="3.1" fill="#a8a8a8" opacity="0.22"/><ellipse cx="6.8" cy="14.3" rx="2.0" ry="3.0" fill="#a8a8a8" opacity="0.22"/><ellipse cx="7.8" cy="26.0" rx="1.2" ry="2.5" fill="#a8a8a8" opacity="0.22"/>
<g><ellipse cx="8.5" cy="7.5" rx="1.56" ry="1.40" fill="#a8a0ea" opacity="0.45"/><ellipse cx="8.5" cy="7.5" rx="1.20" ry="1.08" fill="#4232b8"/><ellipse cx="8.5" cy="7.5" rx="0.60" ry="0.54" fill="#6a5cd0"/></g>
</g></g>
<rect x="137.50" y="259.30" width="16.0" height="34.0" fill="#1a1a1a"/>
<g transform="translate(137.50,259.30)" clip-path="url(#cc)"><g filter="url(#bl)">
<path d="M8.29,1.22 C7.86,1.26 7.06,2.49 6.69,3.19 C6.33,3.89 6.46,4.71 6.12,5.42 C5.79,6.12 5.03,6.83 4.69,7.42 C4.34,8.00 4.25,8.37 4.05,8.91 C3.85,9.45 3.86,9.92 3.51,10.65 C3.16,11.38 2.22,12.29 1.94,13.29 C1.67,14.28 1.94,15.42 1.87,16.61 C1.80,17.81 1.66,19.19 1.51,20.48 C1.37,21.76 1.14,23.02 1.01,24.31 C0.88,25.60 0.74,27.13 0.74,28.22 C0.74,29.31 0.71,30.02 1.00,30.84 C1.29,31.67 1.88,32.91 2.49,33.17 C3.10,33.44 4.02,32.47 4.66,32.44 C5.31,32.41 5.78,32.82 6.34,33.01 C6.89,33.21 7.48,33.60 8.00,33.60 C8.52,33.60 8.86,33.20 9.43,33.03 C9.99,32.87 10.67,32.59 11.38,32.61 C12.10,32.64 13.19,33.49 13.71,33.19 C14.23,32.89 14.30,31.63 14.51,30.79 C14.71,29.94 14.85,29.18 14.97,28.13 C15.08,27.08 15.26,25.79 15.20,24.50 C15.13,23.22 14.69,21.77 14.56,20.42 C14.44,19.06 14.54,17.56 14.45,16.40 C14.36,15.23 14.28,14.36 14.00,13.44 C13.73,12.51 13.12,11.63 12.77,10.85 C12.43,10.08 12.24,9.35 11.94,8.78 C11.64,8.21 11.22,8.06 10.98,7.42 C10.75,6.79 10.82,5.71 10.53,4.96 C10.25,4.22 9.66,3.57 9.28,2.95 C8.91,2.33 8.72,1.18 8.29,1.22 Z" fill="url(#mg)" stroke="#8c8c8c" stroke-opacity="0.55" stroke-width="1.0" transform="translate(-0.43,0) rotate(-0.8 8 20)"/>
<ellipse cx="3.5" cy="11.6" rx="1.4" ry="3.0" fill="#a8a8a8" opacity="0.22"/><ellipse cx="5.1" cy="8.4" rx="1.5" ry="3.1" fill="#a8a8a8" opacity="0.22"/><ellipse cx="8.0" cy="22.4" rx="1.9" ry="1.9" fill="#a8a8a8" opacity="0.22"/><ellipse cx="3.2" cy="14.7" rx="1.3" ry="2.0" fill="#a8a8a8" opacity="0.22"/><ellipse cx="9.2" cy="16.1" rx="1.9" ry="2.7" fill="#a8a8a8" opacity="0.22"/>
</g></g>
<rect x="154.75" y="259.30" width="16.0" height="34.0" fill="#1a1a1a"/>
<g transform="translate(154.75,259.30)" clip-path="url(#cc)"><g filter="url(#bl)">
<path d="M8.27,1.44 C7.92,1.42 7.26,2.41 6.84,3.02 C6.43,3.63 6.06,4.44 5.77,5.12 C5.48,5.79 5.28,6.42 5.09,7.07 C4.90,7.71 4.88,8.38 4.61,8.98 C4.33,9.57 3.87,9.89 3.47,10.63 C3.07,11.38 2.54,12.49 2.21,13.44 C1.87,14.39 1.59,15.18 1.45,16.34 C1.31,17.49 1.41,19.04 1.36,20.37 C1.31,21.70 1.18,23.07 1.16,24.33 C1.13,25.58 1.24,26.76 1.21,27.89 C1.19,29.02 0.80,30.17 1.02,31.09 C1.23,32.02 1.86,33.14 2.49,33.43 C3.12,33.72 4.11,32.89 4.80,32.81 C5.48,32.73 6.08,32.81 6.61,32.94 C7.14,33.07 7.59,33.59 8.00,33.60 C8.41,33.61 8.54,33.16 9.05,33.00 C9.56,32.84 10.30,32.57 11.04,32.64 C11.78,32.70 12.93,33.65 13.49,33.38 C14.05,33.11 14.15,31.88 14.41,31.00 C14.68,30.11 14.95,29.17 15.09,28.07 C15.22,26.97 15.28,25.69 15.23,24.39 C15.17,23.09 14.86,21.63 14.76,20.29 C14.66,18.96 14.73,17.52 14.61,16.37 C14.49,15.21 14.36,14.24 14.03,13.35 C13.70,12.45 13.02,11.77 12.63,11.00 C12.24,10.24 11.93,9.36 11.70,8.76 C11.47,8.17 11.49,8.02 11.24,7.42 C10.99,6.83 10.57,5.90 10.19,5.19 C9.81,4.48 9.27,3.80 8.95,3.17 C8.63,2.55 8.62,1.47 8.27,1.44 Z" fill="url(#mg)" stroke="#8c8c8c" stroke-opacity="0.55" stroke-width="1.0" transform="translate(-0.14,0) rotate(-1.3 8 20)"/>
<ellipse cx="8.0" cy="15.5" rx="1.5" ry="1.9" fill="#a8a8a8" opacity="0.22"/><ellipse cx="11.3" cy="25.7" rx="2.6" ry="3.3" fill="#a8a8a8" opacity="0.22"/><ellipse cx="9.9" cy="25.5" rx="2.2" ry="3.1" fill="#a8a8a8" opacity="0.22"/><ellipse cx="11.0" cy="11.9" rx="2.3" ry="2.1" fill="#a8a8a8" opacity="0.22"/><ellipse cx="5.4" cy="28.2" rx="1.2" ry="2.5" fill="#a8a8a8" opacity="0.22"/>
</g></g>
<rect x="172.00" y="259.30" width="16.0" height="34.0" fill="#1a1a1a"/>
<g transform="translate(172.00,259.30)" clip-path="url(#cc)"><g filter="url(#bl)">
<path d="M8.08,1.61 C7.76,1.62 7.63,2.46 7.20,3.07 C6.77,3.69 5.94,4.56 5.50,5.28 C5.05,6.01 4.68,6.87 4.53,7.44 C4.37,8.01 4.82,8.13 4.56,8.71 C4.30,9.28 3.34,10.11 2.98,10.90 C2.62,11.69 2.60,12.54 2.38,13.44 C2.16,14.35 1.86,15.17 1.69,16.31 C1.52,17.45 1.41,18.89 1.36,20.28 C1.30,21.67 1.40,23.32 1.36,24.63 C1.31,25.95 1.10,27.09 1.10,28.19 C1.10,29.28 1.08,30.35 1.35,31.22 C1.61,32.09 2.14,33.18 2.70,33.40 C3.26,33.61 4.12,32.62 4.72,32.53 C5.31,32.43 5.72,32.65 6.27,32.83 C6.81,33.01 7.44,33.59 8.00,33.60 C8.56,33.61 9.06,33.01 9.61,32.86 C10.16,32.72 10.65,32.65 11.31,32.74 C11.96,32.83 12.99,33.72 13.54,33.41 C14.08,33.10 14.35,31.78 14.57,30.89 C14.80,30.00 14.80,29.10 14.88,28.07 C14.96,27.05 15.06,25.95 15.03,24.72 C15.00,23.49 14.74,22.10 14.68,20.71 C14.62,19.33 14.78,17.64 14.69,16.40 C14.59,15.15 14.38,14.17 14.12,13.26 C13.86,12.35 13.55,11.70 13.12,10.94 C12.70,10.18 11.90,9.31 11.58,8.69 C11.27,8.07 11.50,7.75 11.22,7.19 C10.93,6.64 10.22,6.08 9.87,5.38 C9.53,4.68 9.42,3.62 9.12,2.99 C8.83,2.36 8.40,1.59 8.08,1.61 Z" fill="url(#mg)" stroke="#8c8c8c" stroke-opacity="0.55" stroke-width="1.0" transform="translate(0.29,0) rotate(-1.1 8 20)"/>
<ellipse cx="10.4" cy="13.5" rx="1.5" ry="2.7" fill="#a8a8a8" opacity="0.22"/><ellipse cx="5.4" cy="15.2" rx="1.3" ry="1.6" fill="#a8a8a8" opacity="0.22"/><ellipse cx="6.6" cy="19.6" rx="2.5" ry="2.8" fill="#a8a8a8" opacity="0.22"/><ellipse cx="7.1" cy="16.9" rx="1.5" ry="2.4" fill="#a8a8a8" opacity="0.22"/><ellipse cx="12.6" cy="10.7" rx="1.8" ry="2.9" fill="#a8a8a8" opacity="0.22"/>
</g></g>
<rect x="189.25" y="259.30" width="16.0" height="34.0" fill="#1a1a1a"/>
<g transform="translate(189.25,259.30)" clip-path="url(#cc)"><g filter="url(#bl)">
<path d="M8.10,1.62 C7.81,1.57 7.56,2.24 7.18,2.88 C6.80,3.51 6.22,4.75 5.83,5.45 C5.44,6.14 5.04,6.52 4.82,7.04 C4.60,7.57 4.80,7.95 4.49,8.58 C4.18,9.21 3.36,10.04 2.96,10.83 C2.55,11.61 2.24,12.38 2.04,13.31 C1.84,14.24 1.87,15.20 1.76,16.41 C1.65,17.62 1.47,19.23 1.39,20.57 C1.30,21.92 1.33,23.27 1.24,24.48 C1.16,25.68 0.85,26.68 0.85,27.80 C0.86,28.93 0.95,30.33 1.28,31.23 C1.62,32.12 2.34,32.97 2.87,33.18 C3.41,33.39 3.86,32.52 4.50,32.48 C5.14,32.45 6.15,32.78 6.74,32.97 C7.32,33.15 7.60,33.60 8.00,33.60 C8.40,33.60 8.60,33.11 9.14,32.96 C9.68,32.82 10.55,32.64 11.25,32.72 C11.95,32.81 12.74,33.75 13.33,33.47 C13.93,33.20 14.59,31.95 14.83,31.06 C15.07,30.16 14.81,29.24 14.78,28.11 C14.75,26.98 14.64,25.59 14.64,24.28 C14.64,22.97 14.87,21.56 14.78,20.26 C14.69,18.95 14.27,17.65 14.10,16.45 C13.93,15.24 13.94,13.91 13.78,13.00 C13.61,12.09 13.47,11.67 13.12,10.98 C12.77,10.28 12.03,9.43 11.69,8.84 C11.35,8.25 11.36,8.07 11.07,7.44 C10.78,6.82 10.29,5.81 9.93,5.10 C9.57,4.39 9.21,3.76 8.90,3.18 C8.60,2.60 8.39,1.67 8.10,1.62 Z" fill="url(#mg)" stroke="#8c8c8c" stroke-opacity="0.55" stroke-width="1.0" transform="translate(0.06,0) rotate(1.8 8 20)"/>
<ellipse cx="8.1" cy="17.0" rx="1.8" ry="3.3" fill="#a8a8a8" opacity="0.22"/><ellipse cx="5.6" cy="25.4" rx="2.2" ry="2.4" fill="#a8a8a8" opacity="0.22"/><ellipse cx="6.7" cy="17.6" rx="1.8" ry="2.1" fill="#a8a8a8" opacity="0.22"/><ellipse cx="9.2" cy="17.0" rx="1.6" ry="3.0" fill="#a8a8a8" opacity="0.22"/><ellipse cx="7.6" cy="18.4" rx="2.4" ry="2.4" fill="#a8a8a8" opacity="0.22"/>
</g></g>
<rect x="206.50" y="259.30" width="16.0" height="34.0" fill="#1a1a1a"/>
<g transform="translate(206.50,259.30)" clip-path="url(#cc)"><g filter="url(#bl)">
<path d="M8.33,1.54 C7.98,1.53 7.23,2.49 6.83,3.09 C6.44,3.68 6.28,4.37 5.97,5.10 C5.66,5.82 5.22,6.79 4.96,7.42 C4.70,8.06 4.71,8.31 4.41,8.88 C4.11,9.46 3.55,10.13 3.15,10.88 C2.75,11.62 2.26,12.36 2.01,13.34 C1.75,14.31 1.78,15.53 1.63,16.74 C1.47,17.95 1.23,19.32 1.09,20.61 C0.94,21.89 0.76,23.25 0.76,24.46 C0.76,25.67 0.98,26.81 1.09,27.88 C1.19,28.95 1.14,29.90 1.38,30.86 C1.62,31.82 1.99,33.32 2.53,33.65 C3.06,33.97 3.96,32.91 4.59,32.81 C5.21,32.71 5.72,32.91 6.29,33.04 C6.86,33.17 7.44,33.58 8.00,33.60 C8.56,33.62 9.10,33.33 9.62,33.17 C10.15,33.01 10.47,32.58 11.12,32.65 C11.78,32.71 12.92,33.80 13.55,33.53 C14.17,33.26 14.64,31.94 14.87,31.04 C15.10,30.13 14.91,29.19 14.93,28.10 C14.94,27.02 14.91,25.82 14.94,24.52 C14.98,23.22 15.20,21.67 15.14,20.32 C15.08,18.97 14.79,17.56 14.60,16.41 C14.40,15.26 14.28,14.35 13.96,13.43 C13.63,12.50 13.02,11.60 12.64,10.83 C12.27,10.06 12.00,9.39 11.72,8.80 C11.44,8.20 11.17,7.85 10.97,7.26 C10.76,6.68 10.81,5.97 10.48,5.28 C10.14,4.60 9.31,3.78 8.95,3.15 C8.60,2.53 8.69,1.55 8.33,1.54 Z" fill="url(#mg)" stroke="#8c8c8c" stroke-opacity="0.55" stroke-width="1.0" transform="translate(0.40,0) rotate(-0.9 8 20)"/>
<ellipse cx="7.2" cy="11.2" rx="2.0" ry="2.4" fill="#a8a8a8" opacity="0.22"/><ellipse cx="8.3" cy="29.8" rx="2.0" ry="3.4" fill="#a8a8a8" opacity="0.22"/><ellipse cx="6.5" cy="24.7" rx="1.3" ry="2.1" fill="#a8a8a8" opacity="0.22"/><ellipse cx="9.9" cy="23.2" rx="2.4" ry="2.3" fill="#a8a8a8" opacity="0.22"/><ellipse cx="5.7" cy="15.9" rx="2.0" ry="1.5" fill="#a8a8a8" opacity="0.22"/>
<g><ellipse cx="4.5" cy="20.5" rx="1.43" ry="1.29" fill="#a8a0ea" opacity="0.45"/><ellipse cx="4.5" cy="20.5" rx="1.10" ry="0.99" fill="#4232b8"/><ellipse cx="4.5" cy="20.5" rx="0.55" ry="0.50" fill="#6a5cd0"/></g>
</g></g>
<rect x="223.75" y="259.30" width="16.0" height="34.0" fill="#1a1a1a"/>
<g transform="translate(223.75,259.30)" clip-path="url(#cc)"><g filter="url(#bl)">
<path d="M7.75,1.31 C7.48,1.38 7.52,2.59 7.16,3.22 C6.81,3.84 6.06,4.41 5.62,5.04 C5.19,5.67 4.72,6.35 4.53,6.99 C4.35,7.64 4.76,8.29 4.51,8.92 C4.26,9.55 3.40,10.12 3.04,10.79 C2.67,11.47 2.54,11.98 2.34,12.96 C2.13,13.94 2.05,15.41 1.82,16.68 C1.60,17.95 1.10,19.31 1.00,20.60 C0.90,21.89 1.21,23.21 1.24,24.42 C1.27,25.63 1.16,26.78 1.16,27.86 C1.17,28.94 1.05,29.96 1.28,30.91 C1.51,31.86 1.96,33.26 2.56,33.56 C3.15,33.85 4.12,32.77 4.85,32.65 C5.58,32.54 6.42,32.70 6.94,32.86 C7.47,33.02 7.62,33.57 8.00,33.60 C8.38,33.63 8.71,33.19 9.21,33.06 C9.70,32.93 10.27,32.78 10.96,32.83 C11.64,32.88 12.67,33.65 13.29,33.37 C13.90,33.09 14.30,32.04 14.65,31.16 C15.00,30.28 15.39,29.21 15.39,28.09 C15.39,26.97 14.74,25.72 14.67,24.43 C14.60,23.14 14.94,21.65 14.94,20.36 C14.94,19.07 14.89,17.89 14.67,16.69 C14.45,15.48 13.95,14.09 13.61,13.13 C13.27,12.17 12.98,11.61 12.61,10.91 C12.24,10.20 11.67,9.49 11.38,8.90 C11.10,8.31 11.09,7.98 10.89,7.37 C10.70,6.76 10.58,6.01 10.23,5.24 C9.88,4.48 9.23,3.43 8.82,2.77 C8.40,2.12 8.03,1.23 7.75,1.31 Z" fill="url(#mg)" stroke="#8c8c8c" stroke-opacity="0.55" stroke-width="1.0" transform="translate(0.16,0) rotate(-0.9 8 20)"/>
<ellipse cx="6.5" cy="29.7" rx="2.0" ry="3.2" fill="#a8a8a8" opacity="0.22"/><ellipse cx="3.6" cy="10.2" rx="1.2" ry="2.9" fill="#a8a8a8" opacity="0.22"/><ellipse cx="4.8" cy="14.0" rx="2.1" ry="2.9" fill="#a8a8a8" opacity="0.22"/><ellipse cx="6.2" cy="18.3" rx="1.6" ry="2.6" fill="#a8a8a8" opacity="0.22"/><ellipse cx="6.6" cy="15.9" rx="1.5" ry="2.1" fill="#a8a8a8" opacity="0.22"/>
</g></g>
<rect x="103.00" y="295.30" width="16.0" height="34.0" fill="#1a1a1a"/>
<g transform="translate(103.00,295.30)" clip-path="url(#cc)"><g filter="url(#bl)">
<path d="M7.87,1.45 C7.46,1.45 7.04,2.18 6.74,2.81 C6.43,3.43 6.36,4.47 6.04,5.18 C5.72,5.90 5.05,6.48 4.81,7.11 C4.56,7.73 4.82,8.30 4.57,8.93 C4.32,9.56 3.66,10.17 3.29,10.88 C2.91,11.59 2.63,12.27 2.33,13.20 C2.04,14.13 1.73,15.23 1.54,16.45 C1.35,17.66 1.27,19.14 1.20,20.48 C1.13,21.83 1.14,23.23 1.12,24.52 C1.10,25.80 1.10,27.16 1.10,28.20 C1.10,29.24 0.88,29.93 1.11,30.76 C1.33,31.59 1.81,32.85 2.46,33.17 C3.11,33.48 4.34,32.71 5.01,32.66 C5.67,32.61 5.95,32.69 6.45,32.85 C6.95,33.00 7.47,33.55 8.00,33.60 C8.53,33.65 9.10,33.32 9.66,33.17 C10.21,33.02 10.68,32.66 11.33,32.70 C11.98,32.73 13.02,33.66 13.57,33.38 C14.12,33.10 14.33,31.88 14.63,31.03 C14.93,30.17 15.27,29.31 15.37,28.25 C15.46,27.19 15.34,25.98 15.19,24.67 C15.05,23.36 14.58,21.73 14.50,20.37 C14.43,19.02 14.84,17.73 14.73,16.52 C14.61,15.31 14.09,14.06 13.81,13.10 C13.53,12.15 13.35,11.56 13.05,10.81 C12.76,10.06 12.29,9.23 12.04,8.59 C11.79,7.95 11.89,7.53 11.55,6.96 C11.20,6.38 10.35,5.84 9.95,5.14 C9.56,4.45 9.55,3.42 9.20,2.81 C8.85,2.19 8.28,1.45 7.87,1.45 Z" fill="url(#mg)" stroke="#8c8c8c" stroke-opacity="0.55" stroke-width="1.0" transform="translate(-0.48,0) rotate(-1.7 8 20)"/>
<ellipse cx="8.6" cy="28.7" rx="1.8" ry="3.0" fill="#a8a8a8" opacity="0.22"/><ellipse cx="8.9" cy="20.8" rx="1.4" ry="2.4" fill="#a8a8a8" opacity="0.22"/><ellipse cx="12.0" cy="22.8" rx="1.5" ry="2.4" fill="#a8a8a8" opacity="0.22"/><ellipse cx="8.4" cy="15.4" rx="2.0" ry="2.8" fill="#a8a8a8" opacity="0.22"/><ellipse cx="3.2" cy="12.8" rx="2.1" ry="1.9" fill="#a8a8a8" opacity="0.22"/>
</g></g>
<rect x="120.25" y="295.30" width="16.0" height="34.0" fill="#1a1a1a"/>
<g transform="translate(120.25,295.30)" clip-path="url(#cc)"><g filter="url(#bl)">
<path d="M7.88,1.63 C7.47,1.61 7.27,2.23 6.94,2.80 C6.61,3.38 6.22,4.33 5.90,5.08 C5.58,5.83 5.26,6.73 5.02,7.31 C4.78,7.89 4.84,7.97 4.48,8.58 C4.12,9.18 3.30,10.20 2.87,10.95 C2.45,11.69 2.22,12.15 1.95,13.05 C1.68,13.95 1.40,15.05 1.27,16.33 C1.14,17.61 1.23,19.39 1.18,20.73 C1.13,22.07 0.98,23.19 0.97,24.38 C0.97,25.57 1.06,26.73 1.13,27.84 C1.20,28.96 1.10,30.17 1.39,31.06 C1.69,31.95 2.33,32.92 2.90,33.17 C3.48,33.42 4.19,32.59 4.84,32.54 C5.50,32.49 6.30,32.70 6.83,32.88 C7.35,33.05 7.55,33.61 8.00,33.60 C8.45,33.59 9.02,32.97 9.55,32.84 C10.08,32.71 10.59,32.76 11.20,32.83 C11.81,32.91 12.59,33.58 13.22,33.29 C13.85,33.00 14.73,31.99 14.99,31.09 C15.26,30.18 14.84,28.96 14.80,27.84 C14.75,26.73 14.68,25.60 14.72,24.39 C14.76,23.19 15.04,21.90 15.04,20.60 C15.04,19.30 14.93,17.83 14.74,16.58 C14.54,15.34 14.19,14.11 13.89,13.14 C13.59,12.18 13.37,11.52 12.95,10.80 C12.54,10.07 11.70,9.39 11.39,8.80 C11.09,8.20 11.37,7.85 11.12,7.22 C10.87,6.58 10.16,5.68 9.88,4.96 C9.60,4.25 9.77,3.49 9.44,2.94 C9.10,2.38 8.30,1.65 7.88,1.63 Z" fill="url(#mg)" stroke="#8c8c8c" stroke-opacity="0.55" stroke-width="1.0" transform="translate(0.26,0) rotate(-3.0 8 20)"/>
<ellipse cx="6.3" cy="11.3" rx="2.0" ry="3.3" fill="#a8a8a8" opacity="0.22"/><ellipse cx="4.8" cy="19.0" rx="1.9" ry="3.0" fill="#a8a8a8" opacity="0.22"/><ellipse cx="8.7" cy="13.3" rx="1.5" ry="2.9" fill="#a8a8a8" opacity="0.22"/><ellipse cx="3.8" cy="27.0" rx="1.2" ry="1.9" fill="#a8a8a8" opacity="0.22"/><ellipse cx="7.7" cy="26.6" rx="2.1" ry="3.0" fill="#a8a8a8" opacity="0.22"/>
<g><ellipse cx="9.5" cy="9" rx="1.17" ry="1.05" fill="#a8a0ea" opacity="0.45"/><ellipse cx="9.5" cy="9" rx="0.90" ry="0.81" fill="#4232b8"/><ellipse cx="9.5" cy="9" rx="0.45" ry="0.41" fill="#6a5cd0"/></g>
</g></g>
<rect x="137.50" y="295.30" width="16.0" height="34.0" fill="#1a1a1a"/>
<g transform="translate(137.50,295.30)" clip-path="url(#cc)"><g filter="url(#bl)">
<path d="M7.69,1.56 C7.32,1.49 7.02,2.26 6.65,2.83 C6.29,3.40 5.74,4.25 5.48,4.96 C5.21,5.68 5.31,6.54 5.06,7.14 C4.82,7.74 4.28,7.95 4.01,8.57 C3.74,9.19 3.70,10.12 3.44,10.85 C3.19,11.58 2.84,12.04 2.49,12.97 C2.14,13.89 1.58,15.17 1.33,16.39 C1.08,17.62 1.06,18.94 0.98,20.31 C0.91,21.67 0.94,23.32 0.89,24.57 C0.84,25.82 0.60,26.77 0.67,27.83 C0.74,28.90 1.04,30.00 1.32,30.94 C1.61,31.87 1.77,33.17 2.35,33.43 C2.93,33.70 4.10,32.65 4.81,32.54 C5.51,32.43 6.05,32.59 6.58,32.77 C7.11,32.95 7.52,33.59 8.00,33.60 C8.48,33.61 8.97,33.05 9.48,32.85 C9.99,32.64 10.39,32.26 11.09,32.35 C11.78,32.45 13.08,33.67 13.67,33.44 C14.26,33.22 14.34,31.96 14.62,31.02 C14.91,30.08 15.38,28.89 15.41,27.82 C15.44,26.75 14.93,25.81 14.82,24.60 C14.70,23.40 14.73,21.99 14.71,20.60 C14.69,19.21 14.86,17.52 14.69,16.27 C14.51,15.02 13.93,13.98 13.65,13.10 C13.36,12.21 13.28,11.62 12.98,10.94 C12.67,10.26 12.17,9.64 11.84,9.01 C11.51,8.38 11.21,7.76 10.98,7.15 C10.75,6.53 10.81,5.98 10.45,5.33 C10.09,4.68 9.29,3.87 8.83,3.24 C8.37,2.61 8.05,1.63 7.69,1.56 Z" fill="url(#mg)" stroke="#8c8c8c" stroke-opacity="0.55" stroke-width="1.0" transform="translate(0.22,0) rotate(1.8 8 20)"/>
<ellipse cx="10.4" cy="27.1" rx="1.7" ry="2.7" fill="#a8a8a8" opacity="0.22"/><ellipse cx="12.6" cy="27.8" rx="2.0" ry="3.3" fill="#a8a8a8" opacity="0.22"/><ellipse cx="13.0" cy="26.5" rx="2.1" ry="3.4" fill="#a8a8a8" opacity="0.22"/><ellipse cx="4.4" cy="16.9" rx="2.0" ry="1.8" fill="#a8a8a8" opacity="0.22"/><ellipse cx="10.8" cy="9.4" rx="2.1" ry="2.1" fill="#a8a8a8" opacity="0.22"/>
</g></g>
<rect x="154.75" y="295.30" width="16.0" height="34.0" fill="#1a1a1a"/>
<g transform="translate(154.75,295.30)" clip-path="url(#cc)"><g filter="url(#bl)">
<path d="M7.78,1.37 C7.44,1.45 7.51,2.62 7.15,3.24 C6.79,3.87 6.00,4.50 5.63,5.13 C5.26,5.77 5.12,6.46 4.94,7.04 C4.75,7.63 4.83,8.04 4.54,8.65 C4.26,9.26 3.69,10.00 3.24,10.72 C2.79,11.44 2.18,12.00 1.85,12.95 C1.52,13.90 1.39,15.11 1.25,16.41 C1.12,17.71 1.05,19.43 1.04,20.75 C1.03,22.06 1.19,23.10 1.20,24.28 C1.20,25.47 1.04,26.73 1.05,27.87 C1.07,29.00 0.99,30.15 1.29,31.11 C1.59,32.07 2.27,33.38 2.85,33.62 C3.43,33.85 4.13,32.63 4.74,32.51 C5.36,32.39 5.99,32.72 6.53,32.91 C7.07,33.09 7.49,33.59 8.00,33.60 C8.51,33.61 9.01,33.18 9.57,32.98 C10.12,32.79 10.66,32.32 11.33,32.43 C12.00,32.53 13.07,33.86 13.60,33.63 C14.13,33.41 14.28,32.04 14.49,31.06 C14.70,30.08 14.81,28.89 14.86,27.77 C14.92,26.65 14.82,25.55 14.84,24.34 C14.86,23.14 15.01,21.80 14.96,20.54 C14.91,19.27 14.77,17.99 14.52,16.73 C14.28,15.48 13.83,13.99 13.49,13.00 C13.15,12.01 12.74,11.46 12.48,10.78 C12.21,10.10 12.13,9.46 11.93,8.89 C11.72,8.32 11.54,8.03 11.23,7.38 C10.93,6.73 10.45,5.78 10.11,5.01 C9.77,4.24 9.59,3.37 9.20,2.76 C8.81,2.16 8.13,1.29 7.78,1.37 Z" fill="url(#mg)" stroke="#8c8c8c" stroke-opacity="0.55" stroke-width="1.0" transform="translate(0.11,0) rotate(-1.2 8 20)"/>
<ellipse cx="5.3" cy="8.7" rx="1.4" ry="1.6" fill="#a8a8a8" opacity="0.22"/><ellipse cx="8.3" cy="10.8" rx="2.0" ry="3.1" fill="#a8a8a8" opacity="0.22"/><ellipse cx="6.4" cy="10.6" rx="2.1" ry="3.0" fill="#a8a8a8" opacity="0.22"/><ellipse cx="11.8" cy="20.2" rx="2.0" ry="3.2" fill="#a8a8a8" opacity="0.22"/><ellipse cx="9.8" cy="29.4" rx="1.6" ry="3.0" fill="#a8a8a8" opacity="0.22"/>
</g></g>
<rect x="172.00" y="295.30" width="16.0" height="34.0" fill="#1a1a1a"/>
<g transform="translate(172.00,295.30)" clip-path="url(#cc)"><g filter="url(#bl)">
<path d="M7.66,1.39 C7.25,1.40 7.04,2.41 6.73,3.05 C6.43,3.69 6.18,4.54 5.81,5.21 C5.43,5.87 4.73,6.40 4.49,7.02 C4.25,7.63 4.53,8.24 4.37,8.89 C4.22,9.55 3.93,10.23 3.54,10.95 C3.16,11.66 2.38,12.23 2.05,13.18 C1.73,14.13 1.76,15.40 1.60,16.65 C1.45,17.91 1.21,19.41 1.13,20.71 C1.04,22.01 1.13,23.25 1.09,24.45 C1.05,25.65 0.79,26.87 0.89,27.93 C0.98,28.98 1.38,29.90 1.65,30.77 C1.92,31.65 1.98,32.91 2.53,33.19 C3.08,33.47 4.29,32.46 4.92,32.43 C5.56,32.39 5.84,32.77 6.35,32.96 C6.87,33.16 7.48,33.57 8.00,33.60 C8.52,33.63 8.94,33.32 9.47,33.13 C10.00,32.95 10.52,32.42 11.16,32.50 C11.80,32.57 12.75,33.88 13.31,33.59 C13.86,33.30 14.16,31.69 14.50,30.76 C14.84,29.82 15.35,29.06 15.37,27.99 C15.39,26.92 14.69,25.55 14.64,24.32 C14.59,23.09 15.16,21.91 15.07,20.62 C14.98,19.34 14.34,17.83 14.10,16.59 C13.85,15.35 13.80,14.17 13.60,13.17 C13.40,12.17 13.14,11.32 12.87,10.58 C12.61,9.83 12.33,9.26 12.00,8.72 C11.68,8.18 11.30,7.96 10.95,7.34 C10.60,6.72 10.22,5.69 9.93,4.97 C9.64,4.24 9.58,3.58 9.21,2.99 C8.83,2.39 8.07,1.38 7.66,1.39 Z" fill="url(#mg)" stroke="#8c8c8c" stroke-opacity="0.55" stroke-width="1.0" transform="translate(-0.03,0) rotate(0.9 8 20)"/>
<ellipse cx="12.0" cy="25.4" rx="1.5" ry="1.6" fill="#a8a8a8" opacity="0.22"/><ellipse cx="9.0" cy="18.3" rx="1.6" ry="3.3" fill="#a8a8a8" opacity="0.22"/><ellipse cx="5.1" cy="22.2" rx="1.3" ry="3.3" fill="#a8a8a8" opacity="0.22"/><ellipse cx="12.5" cy="21.6" rx="1.6" ry="2.9" fill="#a8a8a8" opacity="0.22"/><ellipse cx="12.0" cy="25.5" rx="1.3" ry="2.5" fill="#a8a8a8" opacity="0.22"/>
<g><ellipse cx="8.5" cy="9.5" rx="1.95" ry="1.76" fill="#a8a0ea" opacity="0.45"/><ellipse cx="8.5" cy="9.5" rx="1.50" ry="1.35" fill="#4030b0"/><ellipse cx="8.5" cy="9.5" rx="0.83" ry="0.74" fill="#8e86da"/></g>
</g></g>
<rect x="189.25" y="295.30" width="16.0" height="34.0" fill="#1a1a1a"/>
<g transform="translate(189.25,295.30)" clip-path="url(#cc)"><g filter="url(#bl)">
<path d="M8.32,1.58 C7.87,1.62 7.16,2.45 6.72,3.03 C6.28,3.60 5.96,4.32 5.67,5.03 C5.38,5.75 5.22,6.71 4.97,7.33 C4.72,7.95 4.46,8.16 4.19,8.76 C3.91,9.36 3.67,10.21 3.34,10.91 C3.00,11.62 2.51,12.11 2.17,13.01 C1.84,13.91 1.44,15.09 1.32,16.33 C1.19,17.58 1.45,19.15 1.43,20.50 C1.41,21.85 1.30,23.21 1.20,24.43 C1.10,25.66 0.74,26.73 0.81,27.84 C0.88,28.94 1.38,30.11 1.63,31.05 C1.89,32.00 1.80,33.23 2.34,33.50 C2.88,33.77 4.13,32.73 4.87,32.66 C5.61,32.58 6.27,32.90 6.79,33.05 C7.31,33.21 7.52,33.57 8.00,33.60 C8.48,33.63 9.14,33.39 9.66,33.23 C10.19,33.08 10.53,32.65 11.13,32.67 C11.74,32.69 12.73,33.62 13.31,33.36 C13.89,33.09 14.33,31.98 14.61,31.07 C14.89,30.17 14.91,29.00 15.00,27.93 C15.09,26.86 15.15,25.86 15.14,24.65 C15.13,23.44 15.06,22.02 14.92,20.67 C14.79,19.33 14.54,17.83 14.32,16.57 C14.10,15.31 13.93,14.04 13.63,13.11 C13.33,12.17 12.79,11.68 12.52,10.95 C12.25,10.21 12.23,9.36 11.99,8.70 C11.76,8.04 11.46,7.58 11.11,7.01 C10.77,6.44 10.24,5.97 9.95,5.27 C9.66,4.57 9.65,3.41 9.37,2.79 C9.10,2.18 8.76,1.54 8.32,1.58 Z" fill="url(#mg)" stroke="#8c8c8c" stroke-opacity="0.55" stroke-width="1.0" transform="translate(0.05,0) rotate(-2.5 8 20)"/>
<ellipse cx="5.5" cy="24.7" rx="1.5" ry="3.3" fill="#a8a8a8" opacity="0.22"/><ellipse cx="6.5" cy="18.4" rx="1.5" ry="2.1" fill="#a8a8a8" opacity="0.22"/><ellipse cx="7.2" cy="14.1" rx="2.2" ry="1.6" fill="#a8a8a8" opacity="0.22"/><ellipse cx="9.4" cy="25.7" rx="1.7" ry="1.9" fill="#a8a8a8" opacity="0.22"/><ellipse cx="4.2" cy="9.7" rx="2.3" ry="2.7" fill="#a8a8a8" opacity="0.22"/>
</g></g>
<rect x="206.50" y="295.30" width="16.0" height="34.0" fill="#1a1a1a"/>
<g transform="translate(206.50,295.30)" clip-path="url(#cc)"><g filter="url(#bl)">
<path d="M8.07,1.31 C7.62,1.30 6.97,2.27 6.57,2.96 C6.18,3.65 6.01,4.69 5.70,5.44 C5.39,6.18 4.89,6.84 4.70,7.41 C4.51,7.98 4.85,8.25 4.56,8.84 C4.26,9.43 3.38,10.22 2.94,10.95 C2.50,11.69 2.18,12.34 1.91,13.23 C1.64,14.12 1.45,15.11 1.32,16.30 C1.19,17.48 1.12,18.95 1.14,20.33 C1.16,21.70 1.44,23.22 1.44,24.54 C1.45,25.86 1.17,27.14 1.18,28.23 C1.18,29.32 1.25,30.19 1.48,31.07 C1.71,31.96 2.01,33.31 2.58,33.54 C3.15,33.76 4.25,32.53 4.92,32.43 C5.59,32.33 6.11,32.76 6.62,32.96 C7.13,33.15 7.54,33.58 8.00,33.60 C8.46,33.62 8.86,33.27 9.41,33.11 C9.97,32.95 10.63,32.56 11.33,32.63 C12.03,32.71 13.09,33.86 13.60,33.56 C14.12,33.26 14.22,31.78 14.41,30.82 C14.61,29.87 14.65,28.90 14.78,27.83 C14.92,26.76 15.23,25.63 15.22,24.40 C15.22,23.18 14.89,21.82 14.76,20.48 C14.63,19.15 14.57,17.62 14.45,16.39 C14.32,15.16 14.23,14.02 14.00,13.12 C13.76,12.21 13.48,11.67 13.04,10.95 C12.60,10.24 11.71,9.42 11.35,8.82 C11.00,8.23 11.16,8.02 10.92,7.39 C10.67,6.77 10.17,5.81 9.90,5.08 C9.63,4.36 9.59,3.67 9.29,3.05 C8.98,2.42 8.52,1.32 8.07,1.31 Z" fill="url(#mg)" stroke="#8c8c8c" stroke-opacity="0.55" stroke-width="1.0" transform="translate(-0.05,0) rotate(-3.4 8 20)"/>
<ellipse cx="9.7" cy="17.1" rx="1.9" ry="1.9" fill="#a8a8a8" opacity="0.22"/><ellipse cx="7.6" cy="13.7" rx="2.1" ry="1.7" fill="#a8a8a8" opacity="0.22"/><ellipse cx="4.4" cy="12.3" rx="1.9" ry="2.7" fill="#a8a8a8" opacity="0.22"/><ellipse cx="3.0" cy="29.7" rx="2.4" ry="2.3" fill="#a8a8a8" opacity="0.22"/><ellipse cx="4.6" cy="26.2" rx="2.6" ry="1.9" fill="#a8a8a8" opacity="0.22"/>
</g></g>
<rect x="223.75" y="295.30" width="16.0" height="34.0" fill="#1a1a1a"/>
<g transform="translate(223.75,295.30)" clip-path="url(#cc)"><g filter="url(#bl)">
<path d="M8.31,1.25 C7.86,1.25 7.08,2.14 6.63,2.83 C6.19,3.52 5.87,4.67 5.61,5.40 C5.35,6.13 5.35,6.63 5.09,7.19 C4.82,7.74 4.38,8.11 4.04,8.73 C3.69,9.34 3.30,10.11 3.02,10.87 C2.74,11.64 2.60,12.40 2.35,13.34 C2.11,14.27 1.75,15.30 1.56,16.48 C1.36,17.66 1.26,19.08 1.18,20.44 C1.10,21.79 1.09,23.35 1.07,24.59 C1.05,25.84 1.00,26.87 1.05,27.91 C1.09,28.95 1.14,29.92 1.35,30.82 C1.55,31.73 1.72,33.09 2.28,33.34 C2.84,33.60 4.03,32.43 4.70,32.37 C5.37,32.30 5.76,32.76 6.31,32.96 C6.86,33.17 7.43,33.57 8.00,33.60 C8.57,33.63 9.23,33.35 9.71,33.17 C10.19,32.99 10.27,32.49 10.87,32.51 C11.47,32.53 12.71,33.55 13.31,33.31 C13.90,33.06 14.11,31.94 14.45,31.05 C14.78,30.15 15.30,29.06 15.34,27.94 C15.38,26.82 14.82,25.52 14.67,24.30 C14.53,23.08 14.54,21.91 14.46,20.63 C14.38,19.35 14.29,17.89 14.21,16.61 C14.14,15.34 14.28,13.98 14.00,12.99 C13.73,12.01 12.93,11.39 12.58,10.71 C12.23,10.03 12.14,9.51 11.89,8.92 C11.63,8.33 11.36,7.80 11.06,7.18 C10.76,6.55 10.39,5.90 10.10,5.19 C9.81,4.47 9.60,3.54 9.31,2.88 C9.01,2.23 8.75,1.26 8.31,1.25 Z" fill="url(#mg)" stroke="#8c8c8c" stroke-opacity="0.55" stroke-width="1.0" transform="translate(0.32,0) rotate(1.8 8 20)"/>
<ellipse cx="11.1" cy="28.2" rx="2.0" ry="3.4" fill="#a8a8a8" opacity="0.22"/><ellipse cx="12.4" cy="11.8" rx="2.6" ry="1.9" fill="#a8a8a8" opacity="0.22"/><ellipse cx="11.0" cy="10.7" rx="1.6" ry="2.4" fill="#a8a8a8" opacity="0.22"/><ellipse cx="11.4" cy="23.0" rx="1.5" ry="3.3" fill="#a8a8a8" opacity="0.22"/><ellipse cx="11.7" cy="19.2" rx="1.3" ry="2.1" fill="#a8a8a8" opacity="0.22"/>
</g></g>
<rect x="103.00" y="332.20" width="16.0" height="34.0" fill="#1a1a1a"/>
<g transform="translate(103.00,332.20)" clip-path="url(#cc)"><g filter="url(#bl)">
<path d="M8.31,1.45 C8.03,1.41 7.57,2.14 7.12,2.79 C6.68,3.43 6.03,4.60 5.62,5.32 C5.22,6.03 4.96,6.52 4.69,7.06 C4.42,7.61 4.25,7.95 3.99,8.58 C3.74,9.20 3.45,10.05 3.14,10.82 C2.83,11.60 2.41,12.33 2.13,13.23 C1.85,14.14 1.59,15.06 1.45,16.26 C1.32,17.46 1.38,19.05 1.32,20.42 C1.26,21.78 1.19,23.21 1.09,24.44 C1.00,25.67 0.73,26.70 0.74,27.78 C0.75,28.85 0.89,30.00 1.16,30.90 C1.42,31.80 1.73,32.92 2.33,33.16 C2.94,33.41 4.03,32.40 4.79,32.36 C5.54,32.32 6.33,32.72 6.87,32.93 C7.40,33.14 7.58,33.59 8.00,33.60 C8.42,33.61 8.88,33.21 9.36,33.01 C9.84,32.81 10.16,32.33 10.87,32.40 C11.57,32.47 12.96,33.67 13.60,33.43 C14.24,33.18 14.42,31.83 14.70,30.92 C14.97,30.02 15.21,29.04 15.28,28.00 C15.34,26.96 15.14,25.90 15.10,24.67 C15.07,23.44 15.17,21.98 15.08,20.61 C14.98,19.25 14.73,17.71 14.52,16.48 C14.31,15.25 14.11,14.16 13.82,13.24 C13.54,12.32 13.13,11.74 12.82,10.96 C12.51,10.18 12.19,9.19 11.95,8.58 C11.71,7.96 11.66,7.79 11.38,7.26 C11.10,6.73 10.70,6.12 10.27,5.40 C9.84,4.69 9.11,3.65 8.78,2.99 C8.46,2.33 8.59,1.48 8.31,1.45 Z" fill="url(#mg)" stroke="#8c8c8c" stroke-opacity="0.55" stroke-width="1.0" transform="translate(-0.08,0) rotate(-1.5 8 20)"/>
<ellipse cx="6.8" cy="28.9" rx="1.4" ry="2.6" fill="#a8a8a8" opacity="0.22"/><ellipse cx="4.4" cy="24.6" rx="1.9" ry="3.0" fill="#a8a8a8" opacity="0.22"/><ellipse cx="6.1" cy="27.4" rx="1.2" ry="1.9" fill="#a8a8a8" opacity="0.22"/><ellipse cx="10.3" cy="27.3" rx="2.3" ry="2.1" fill="#a8a8a8" opacity="0.22"/><ellipse cx="3.8" cy="23.6" rx="2.2" ry="1.6" fill="#a8a8a8" opacity="0.22"/>
<g><ellipse cx="8" cy="8.5" rx="1.17" ry="1.05" fill="#a8a0ea" opacity="0.45"/><ellipse cx="8" cy="8.5" rx="0.90" ry="0.81" fill="#4232b8"/><ellipse cx="8" cy="8.5" rx="0.45" ry="0.41" fill="#6a5cd0"/></g>
</g></g>
<rect x="120.25" y="332.20" width="16.0" height="34.0" fill="#1a1a1a"/>
<g transform="translate(120.25,332.20)" clip-path="url(#cc)"><g filter="url(#bl)">
<path d="M7.67,1.39 C7.23,1.32 7.05,2.13 6.79,2.80 C6.52,3.47 6.44,4.69 6.07,5.42 C5.69,6.15 4.86,6.59 4.54,7.17 C4.22,7.75 4.41,8.30 4.14,8.89 C3.87,9.48 3.26,10.00 2.93,10.72 C2.59,11.43 2.37,12.21 2.14,13.19 C1.91,14.16 1.66,15.29 1.55,16.55 C1.45,17.80 1.54,19.36 1.51,20.72 C1.48,22.07 1.52,23.47 1.39,24.66 C1.25,25.86 0.73,26.80 0.71,27.87 C0.69,28.94 0.94,30.16 1.27,31.07 C1.60,31.98 2.03,33.09 2.67,33.32 C3.32,33.56 4.55,32.59 5.14,32.51 C5.74,32.42 5.79,32.61 6.26,32.80 C6.74,32.98 7.51,33.55 8.00,33.60 C8.49,33.65 8.62,33.32 9.20,33.12 C9.77,32.91 10.77,32.34 11.44,32.37 C12.11,32.40 12.64,33.47 13.22,33.27 C13.79,33.08 14.61,32.11 14.90,31.20 C15.19,30.29 14.88,28.88 14.93,27.80 C14.99,26.72 15.22,25.95 15.23,24.74 C15.23,23.52 15.06,21.84 14.95,20.49 C14.84,19.14 14.76,17.87 14.57,16.63 C14.38,15.40 14.10,14.04 13.81,13.09 C13.51,12.13 13.19,11.58 12.82,10.88 C12.45,10.18 11.89,9.44 11.58,8.87 C11.27,8.30 11.22,8.07 10.95,7.44 C10.69,6.80 10.25,5.76 10.00,5.06 C9.74,4.36 9.81,3.84 9.42,3.23 C9.03,2.61 8.11,1.46 7.67,1.39 Z" fill="url(#mg)" stroke="#8c8c8c" stroke-opacity="0.55" stroke-width="1.0" transform="translate(0.03,0) rotate(3.0 8 20)"/>
<ellipse cx="12.3" cy="26.5" rx="2.4" ry="3.1" fill="#a8a8a8" opacity="0.22"/><ellipse cx="8.7" cy="9.6" rx="2.2" ry="3.2" fill="#a8a8a8" opacity="0.22"/><ellipse cx="11.4" cy="9.0" rx="1.3" ry="3.0" fill="#a8a8a8" opacity="0.22"/><ellipse cx="7.9" cy="27.7" rx="2.6" ry="2.4" fill="#a8a8a8" opacity="0.22"/><ellipse cx="9.8" cy="22.6" rx="2.2" ry="2.2" fill="#a8a8a8" opacity="0.22"/>
</g></g>
<rect x="137.50" y="332.20" width="16.0" height="34.0" fill="#1a1a1a"/>
<g transform="translate(137.50,332.20)" clip-path="url(#cc)"><g filter="url(#bl)">
<path d="M8.28,1.51 C7.97,1.47 7.56,2.37 7.11,2.98 C6.66,3.59 5.96,4.47 5.59,5.18 C5.23,5.88 5.19,6.66 4.93,7.22 C4.67,7.79 4.33,7.98 4.03,8.55 C3.73,9.13 3.46,9.92 3.13,10.67 C2.79,11.42 2.27,12.07 2.01,13.06 C1.74,14.05 1.63,15.34 1.54,16.60 C1.45,17.85 1.62,19.24 1.49,20.59 C1.36,21.94 0.85,23.43 0.76,24.68 C0.68,25.94 0.87,27.08 0.98,28.12 C1.08,29.16 1.13,30.08 1.38,30.93 C1.63,31.77 1.90,32.94 2.49,33.19 C3.08,33.43 4.21,32.37 4.91,32.38 C5.62,32.38 6.21,33.00 6.73,33.21 C7.24,33.41 7.53,33.63 8.00,33.60 C8.47,33.57 8.95,33.18 9.52,33.05 C10.09,32.92 10.73,32.73 11.42,32.83 C12.10,32.93 13.08,33.99 13.62,33.65 C14.16,33.30 14.41,31.69 14.67,30.76 C14.93,29.83 15.10,29.10 15.18,28.07 C15.26,27.04 15.23,25.86 15.15,24.56 C15.07,23.25 14.79,21.58 14.70,20.25 C14.62,18.92 14.73,17.73 14.63,16.56 C14.54,15.39 14.40,14.18 14.14,13.25 C13.88,12.31 13.40,11.68 13.05,10.94 C12.70,10.19 12.31,9.41 12.04,8.78 C11.78,8.15 11.84,7.76 11.48,7.15 C11.11,6.54 10.27,5.76 9.86,5.11 C9.44,4.46 9.26,3.85 9.00,3.25 C8.73,2.65 8.59,1.56 8.28,1.51 Z" fill="url(#mg)" stroke="#8c8c8c" stroke-opacity="0.55" stroke-width="1.0" transform="translate(-0.43,0) rotate(1.0 8 20)"/>
<ellipse cx="6.9" cy="14.0" rx="2.2" ry="1.7" fill="#a8a8a8" opacity="0.22"/><ellipse cx="6.1" cy="16.7" rx="1.4" ry="2.7" fill="#a8a8a8" opacity="0.22"/><ellipse cx="7.2" cy="25.6" rx="1.7" ry="3.5" fill="#a8a8a8" opacity="0.22"/><ellipse cx="5.0" cy="19.7" rx="1.5" ry="1.5" fill="#a8a8a8" opacity="0.22"/><ellipse cx="6.0" cy="27.7" rx="1.6" ry="2.5" fill="#a8a8a8" opacity="0.22"/>
</g></g>
<rect x="154.75" y="332.20" width="16.0" height="34.0" fill="#1a1a1a"/>
<g transform="translate(154.75,332.20)" clip-path="url(#cc)"><g filter="url(#bl)">
<path d="M8.02,1.18 C7.62,1.20 7.13,2.20 6.79,2.89 C6.46,3.58 6.33,4.61 6.02,5.34 C5.71,6.06 5.18,6.65 4.94,7.25 C4.70,7.85 4.90,8.36 4.56,8.92 C4.21,9.48 3.25,9.87 2.89,10.62 C2.52,11.36 2.53,12.37 2.37,13.37 C2.22,14.37 2.18,15.44 1.94,16.64 C1.71,17.83 1.09,19.21 0.96,20.53 C0.83,21.85 1.24,23.27 1.19,24.55 C1.13,25.84 0.62,27.18 0.64,28.23 C0.66,29.29 0.93,30.03 1.31,30.88 C1.69,31.74 2.40,33.04 2.94,33.34 C3.47,33.64 3.92,32.77 4.50,32.68 C5.08,32.60 5.85,32.71 6.43,32.86 C7.02,33.01 7.53,33.57 8.00,33.60 C8.47,33.63 8.75,33.21 9.26,33.05 C9.77,32.90 10.34,32.58 11.07,32.68 C11.81,32.78 13.03,33.89 13.68,33.65 C14.33,33.40 14.77,32.12 14.97,31.21 C15.18,30.30 14.99,29.27 14.93,28.16 C14.87,27.05 14.68,25.85 14.61,24.54 C14.54,23.23 14.49,21.67 14.50,20.30 C14.52,18.93 14.81,17.49 14.71,16.31 C14.62,15.13 14.33,14.11 13.95,13.21 C13.57,12.32 12.88,11.65 12.45,10.95 C12.02,10.24 11.56,9.62 11.39,8.99 C11.22,8.37 11.63,7.87 11.42,7.20 C11.22,6.53 10.53,5.70 10.16,4.96 C9.80,4.23 9.60,3.40 9.24,2.77 C8.88,2.14 8.43,1.16 8.02,1.18 Z" fill="url(#mg)" stroke="#8c8c8c" stroke-opacity="0.55" stroke-width="1.0" transform="translate(-0.23,0) rotate(0.2 8 20)"/>
<ellipse cx="8.3" cy="28.4" rx="2.1" ry="1.7" fill="#a8a8a8" opacity="0.22"/><ellipse cx="10.2" cy="23.4" rx="1.7" ry="3.0" fill="#a8a8a8" opacity="0.22"/><ellipse cx="8.8" cy="17.1" rx="1.9" ry="2.1" fill="#a8a8a8" opacity="0.22"/><ellipse cx="5.9" cy="27.6" rx="1.7" ry="3.0" fill="#a8a8a8" opacity="0.22"/><ellipse cx="6.7" cy="12.2" rx="1.2" ry="3.4" fill="#a8a8a8" opacity="0.22"/>
</g></g>
<rect x="172.00" y="332.20" width="16.0" height="34.0" fill="#1a1a1a"/>
<g transform="translate(172.00,332.20)" clip-path="url(#cc)"><g filter="url(#bl)">
<path d="M8.06,1.18 C7.69,1.15 7.03,2.09 6.66,2.77 C6.30,3.45 6.14,4.54 5.88,5.26 C5.62,5.98 5.41,6.53 5.12,7.10 C4.82,7.66 4.47,8.08 4.11,8.66 C3.75,9.24 3.27,9.81 2.95,10.56 C2.63,11.31 2.44,12.13 2.20,13.16 C1.95,14.19 1.70,15.47 1.51,16.73 C1.32,17.98 1.13,19.40 1.07,20.66 C1.01,21.93 1.21,23.07 1.12,24.30 C1.04,25.53 0.50,26.98 0.57,28.05 C0.64,29.13 1.20,29.91 1.56,30.78 C1.92,31.64 2.18,32.93 2.74,33.27 C3.30,33.60 4.26,32.83 4.93,32.77 C5.60,32.70 6.25,32.73 6.76,32.87 C7.27,33.01 7.60,33.54 8.00,33.60 C8.40,33.66 8.58,33.36 9.16,33.23 C9.74,33.10 10.78,32.82 11.49,32.81 C12.20,32.80 12.91,33.44 13.43,33.18 C13.95,32.91 14.38,32.08 14.61,31.21 C14.84,30.33 14.80,28.98 14.80,27.90 C14.79,26.81 14.60,25.96 14.58,24.69 C14.56,23.42 14.74,21.68 14.70,20.29 C14.65,18.90 14.46,17.52 14.30,16.35 C14.14,15.18 13.98,14.22 13.75,13.26 C13.52,12.30 13.25,11.38 12.91,10.60 C12.57,9.82 12.02,9.12 11.72,8.58 C11.43,8.04 11.44,7.89 11.16,7.35 C10.88,6.82 10.41,6.10 10.03,5.36 C9.66,4.63 9.25,3.64 8.92,2.95 C8.59,2.25 8.44,1.21 8.06,1.18 Z" fill="url(#mg)" stroke="#8c8c8c" stroke-opacity="0.55" stroke-width="1.0" transform="translate(0.48,0) rotate(1.8 8 20)"/>
<ellipse cx="10.9" cy="8.1" rx="2.0" ry="2.6" fill="#a8a8a8" opacity="0.22"/><ellipse cx="10.1" cy="28.9" rx="2.2" ry="1.9" fill="#a8a8a8" opacity="0.22"/><ellipse cx="5.0" cy="18.6" rx="1.6" ry="2.6" fill="#a8a8a8" opacity="0.22"/><ellipse cx="3.9" cy="23.3" rx="1.8" ry="1.6" fill="#a8a8a8" opacity="0.22"/><ellipse cx="4.2" cy="28.6" rx="2.4" ry="3.3" fill="#a8a8a8" opacity="0.22"/>
<g><ellipse cx="6" cy="8.5" rx="1.30" ry="1.17" fill="#a8a0ea" opacity="0.45"/><ellipse cx="6" cy="8.5" rx="1.00" ry="0.90" fill="#4232b8"/><ellipse cx="6" cy="8.5" rx="0.50" ry="0.45" fill="#6a5cd0"/></g>
<g><ellipse cx="9.5" cy="30.5" rx="1.56" ry="1.40" fill="#a8a0ea" opacity="0.45"/><ellipse cx="9.5" cy="30.5" rx="1.20" ry="1.08" fill="#4030b0"/><ellipse cx="9.5" cy="30.5" rx="0.66" ry="0.59" fill="#8e86da"/></g>
</g></g>
<rect x="189.25" y="332.20" width="16.0" height="34.0" fill="#1a1a1a"/>
<g transform="translate(189.25,332.20)" clip-path="url(#cc)"><g filter="url(#bl)">
<path d="M7.77,1.51 C7.42,1.47 7.60,2.27 7.21,2.85 C6.82,3.44 5.90,4.26 5.45,5.01 C5.00,5.76 4.69,6.72 4.51,7.35 C4.33,7.98 4.64,8.20 4.37,8.79 C4.11,9.37 3.33,10.17 2.93,10.87 C2.53,11.58 2.16,12.07 1.95,13.02 C1.74,13.97 1.75,15.30 1.67,16.57 C1.58,17.85 1.55,19.36 1.41,20.66 C1.27,21.97 0.97,23.18 0.85,24.40 C0.72,25.62 0.63,26.87 0.65,28.00 C0.67,29.13 0.62,30.26 0.97,31.18 C1.32,32.11 2.09,33.28 2.73,33.55 C3.36,33.82 4.11,32.87 4.79,32.81 C5.48,32.74 6.30,33.03 6.83,33.16 C7.37,33.30 7.54,33.65 8.00,33.60 C8.46,33.55 9.10,33.06 9.61,32.86 C10.13,32.65 10.43,32.29 11.09,32.38 C11.75,32.47 12.93,33.63 13.59,33.39 C14.24,33.14 14.80,31.76 15.04,30.89 C15.28,30.03 15.02,29.23 15.05,28.18 C15.08,27.14 15.23,25.87 15.23,24.63 C15.23,23.38 15.23,22.06 15.07,20.71 C14.90,19.37 14.50,17.80 14.24,16.56 C13.98,15.32 13.68,14.25 13.49,13.29 C13.31,12.33 13.46,11.55 13.12,10.80 C12.78,10.06 11.82,9.44 11.45,8.83 C11.08,8.23 11.15,7.79 10.90,7.18 C10.64,6.57 10.17,5.84 9.91,5.16 C9.64,4.48 9.68,3.73 9.32,3.12 C8.97,2.51 8.12,1.56 7.77,1.51 Z" fill="url(#mg)" stroke="#8c8c8c" stroke-opacity="0.55" stroke-width="1.0" transform="translate(0.48,0) rotate(-0.8 8 20)"/>
<ellipse cx="11.5" cy="18.1" rx="1.8" ry="1.6" fill="#a8a8a8" opacity="0.22"/><ellipse cx="10.9" cy="20.5" rx="1.8" ry="1.8" fill="#a8a8a8" opacity="0.22"/><ellipse cx="7.6" cy="9.4" rx="1.4" ry="1.7" fill="#a8a8a8" opacity="0.22"/><ellipse cx="7.2" cy="11.0" rx="2.4" ry="2.7" fill="#a8a8a8" opacity="0.22"/><ellipse cx="11.7" cy="20.2" rx="1.4" ry="2.1" fill="#a8a8a8" opacity="0.22"/>
</g></g>
<rect x="206.50" y="332.20" width="16.0" height="34.0" fill="#1a1a1a"/>
<g transform="translate(206.50,332.20)" clip-path="url(#cc)"><g filter="url(#bl)">
<path d="M8.10,1.47 C7.67,1.43 6.98,2.20 6.58,2.85 C6.19,3.50 6.00,4.64 5.75,5.37 C5.51,6.10 5.38,6.71 5.11,7.25 C4.84,7.78 4.44,7.99 4.13,8.57 C3.82,9.16 3.51,10.01 3.24,10.75 C2.97,11.50 2.81,12.14 2.50,13.05 C2.19,13.97 1.67,14.99 1.39,16.26 C1.12,17.52 0.88,19.31 0.87,20.65 C0.86,22.00 1.41,23.10 1.36,24.33 C1.31,25.56 0.60,26.92 0.56,28.04 C0.52,29.16 0.73,30.14 1.12,31.06 C1.51,31.97 2.30,33.26 2.89,33.52 C3.48,33.79 4.05,32.72 4.65,32.65 C5.24,32.59 5.89,32.97 6.45,33.13 C7.01,33.29 7.54,33.59 8.00,33.60 C8.46,33.61 8.68,33.32 9.23,33.18 C9.78,33.05 10.65,32.72 11.32,32.80 C12.00,32.87 12.72,33.95 13.29,33.63 C13.86,33.31 14.44,31.83 14.76,30.88 C15.08,29.92 15.22,29.01 15.20,27.91 C15.18,26.80 14.68,25.53 14.63,24.27 C14.58,23.01 14.96,21.64 14.88,20.37 C14.79,19.10 14.34,17.81 14.12,16.64 C13.90,15.46 13.80,14.31 13.55,13.33 C13.30,12.34 12.90,11.46 12.64,10.73 C12.38,10.00 12.20,9.51 12.00,8.96 C11.80,8.42 11.72,8.03 11.43,7.44 C11.15,6.85 10.65,6.15 10.27,5.42 C9.90,4.68 9.55,3.70 9.19,3.04 C8.82,2.38 8.54,1.50 8.10,1.47 Z" fill="url(#mg)" stroke="#8c8c8c" stroke-opacity="0.55" stroke-width="1.0" transform="translate(0.08,0) rotate(2.4 8 20)"/>
<ellipse cx="6.2" cy="16.3" rx="2.0" ry="2.0" fill="#a8a8a8" opacity="0.22"/><ellipse cx="9.4" cy="27.0" rx="2.2" ry="2.0" fill="#a8a8a8" opacity="0.22"/><ellipse cx="3.3" cy="16.1" rx="1.8" ry="3.2" fill="#a8a8a8" opacity="0.22"/><ellipse cx="8.5" cy="19.4" rx="2.0" ry="2.6" fill="#a8a8a8" opacity="0.22"/><ellipse cx="9.8" cy="20.3" rx="2.0" ry="2.0" fill="#a8a8a8" opacity="0.22"/>
</g></g>
<rect x="223.75" y="332.20" width="16.0" height="34.0" fill="#1a1a1a"/>
<g transform="translate(223.75,332.20)" clip-path="url(#cc)"><g filter="url(#bl)">
<path d="M8.27,1.62 C7.93,1.62 7.16,2.45 6.76,3.04 C6.35,3.63 6.18,4.46 5.81,5.18 C5.45,5.89 4.88,6.76 4.57,7.34 C4.27,7.93 4.26,8.11 4.01,8.66 C3.75,9.22 3.38,9.93 3.05,10.65 C2.71,11.37 2.22,12.04 1.99,12.99 C1.75,13.94 1.73,15.08 1.62,16.34 C1.50,17.60 1.37,19.19 1.30,20.55 C1.23,21.91 1.24,23.27 1.19,24.49 C1.13,25.71 0.96,26.80 0.98,27.90 C0.99,29.00 1.04,30.16 1.27,31.09 C1.51,32.03 1.80,33.23 2.40,33.52 C3.00,33.81 4.15,32.92 4.86,32.84 C5.57,32.76 6.16,32.90 6.68,33.02 C7.20,33.15 7.52,33.62 8.00,33.60 C8.48,33.58 9.07,33.07 9.59,32.89 C10.11,32.72 10.45,32.46 11.11,32.57 C11.77,32.67 13.00,33.73 13.56,33.51 C14.13,33.29 14.17,32.15 14.48,31.23 C14.79,30.31 15.31,29.11 15.44,28.00 C15.57,26.89 15.37,25.84 15.25,24.56 C15.13,23.28 14.92,21.63 14.72,20.29 C14.52,18.96 14.19,17.72 14.06,16.55 C13.93,15.37 14.13,14.22 13.95,13.26 C13.78,12.29 13.35,11.50 13.00,10.77 C12.65,10.03 12.15,9.44 11.87,8.85 C11.59,8.26 11.55,7.83 11.29,7.22 C11.04,6.62 10.73,5.92 10.32,5.23 C9.90,4.54 9.15,3.69 8.81,3.09 C8.47,2.49 8.61,1.63 8.27,1.62 Z" fill="url(#mg)" stroke="#8c8c8c" stroke-opacity="0.55" stroke-width="1.0" transform="translate(-0.06,0) rotate(-2.6 8 20)"/>
<ellipse cx="10.0" cy="17.4" rx="2.6" ry="2.5" fill="#a8a8a8" opacity="0.22"/><ellipse cx="4.7" cy="19.3" rx="1.7" ry="1.8" fill="#a8a8a8" opacity="0.22"/><ellipse cx="11.9" cy="11.9" rx="2.2" ry="1.8" fill="#a8a8a8" opacity="0.22"/><ellipse cx="8.2" cy="29.9" rx="1.3" ry="3.2" fill="#a8a8a8" opacity="0.22"/><ellipse cx="3.1" cy="29.5" rx="2.5" ry="2.4" fill="#a8a8a8" opacity="0.22"/>
</g></g>
<rect x="103.00" y="369.10" width="16.0" height="34.0" fill="#1a1a1a"/>
<g transform="translate(103.00,369.10)" clip-path="url(#cc)"><g filter="url(#bl)">
<path d="M7.76,1.33 C7.45,1.39 7.23,2.54 6.86,3.18 C6.49,3.83 5.88,4.55 5.53,5.22 C5.18,5.89 4.95,6.62 4.78,7.23 C4.61,7.83 4.79,8.22 4.50,8.85 C4.22,9.48 3.45,10.32 3.08,11.03 C2.70,11.73 2.51,12.14 2.27,13.09 C2.03,14.03 1.86,15.44 1.63,16.68 C1.40,17.93 0.97,19.29 0.88,20.57 C0.79,21.86 1.13,23.18 1.09,24.39 C1.05,25.61 0.63,26.77 0.66,27.87 C0.69,28.96 0.92,30.06 1.26,30.96 C1.59,31.86 2.07,33.01 2.67,33.29 C3.28,33.56 4.19,32.61 4.88,32.59 C5.57,32.56 6.29,32.98 6.81,33.15 C7.33,33.32 7.60,33.59 8.00,33.60 C8.40,33.61 8.68,33.42 9.22,33.24 C9.75,33.06 10.56,32.47 11.23,32.52 C11.90,32.56 12.66,33.74 13.23,33.51 C13.80,33.27 14.37,31.98 14.66,31.09 C14.94,30.20 14.92,29.25 14.93,28.18 C14.94,27.11 14.76,25.97 14.74,24.69 C14.71,23.40 14.80,21.81 14.76,20.45 C14.71,19.09 14.61,17.71 14.45,16.51 C14.30,15.31 14.06,14.16 13.83,13.23 C13.61,12.30 13.52,11.62 13.11,10.92 C12.71,10.22 11.79,9.70 11.41,9.04 C11.04,8.39 11.03,7.64 10.86,6.98 C10.70,6.32 10.77,5.78 10.42,5.09 C10.07,4.40 9.21,3.46 8.77,2.84 C8.33,2.21 8.08,1.27 7.76,1.33 Z" fill="url(#mg)" stroke="#8c8c8c" stroke-opacity="0.55" stroke-width="1.0" transform="translate(-0.04,0) rotate(1.0 8 20)"/>
<ellipse cx="8.0" cy="26.6" rx="1.2" ry="1.8" fill="#a8a8a8" opacity="0.22"/><ellipse cx="3.1" cy="9.2" rx="1.6" ry="2.5" fill="#a8a8a8" opacity="0.22"/><ellipse cx="12.7" cy="22.3" rx="2.4" ry="2.7" fill="#a8a8a8" opacity="0.22"/><ellipse cx="12.1" cy="22.8" rx="1.5" ry="2.2" fill="#a8a8a8" opacity="0.22"/><ellipse cx="7.8" cy="10.4" rx="2.5" ry="2.5" fill="#a8a8a8" opacity="0.22"/>
</g></g>
<rect x="120.25" y="369.10" width="16.0" height="34.0" fill="#1a1a1a"/>
<g transform="translate(120.25,369.10)" clip-path="url(#cc)"><g filter="url(#bl)">
<path d="M8.21,1.29 C7.84,1.27 7.39,2.17 6.96,2.80 C6.53,3.42 5.98,4.29 5.62,5.04 C5.26,5.79 5.06,6.65 4.80,7.29 C4.55,7.94 4.37,8.29 4.11,8.89 C3.85,9.50 3.52,10.22 3.26,10.93 C3.00,11.63 2.77,12.19 2.55,13.12 C2.33,14.04 2.17,15.27 1.95,16.48 C1.72,17.68 1.40,18.99 1.21,20.34 C1.02,21.69 0.91,23.33 0.81,24.57 C0.71,25.81 0.59,26.69 0.62,27.77 C0.66,28.84 0.71,30.10 1.01,31.02 C1.30,31.94 1.72,33.02 2.39,33.28 C3.05,33.54 4.33,32.61 4.99,32.57 C5.65,32.54 5.85,32.92 6.35,33.09 C6.86,33.26 7.43,33.60 8.00,33.60 C8.57,33.60 9.22,33.22 9.75,33.06 C10.27,32.90 10.53,32.53 11.16,32.62 C11.79,32.70 12.92,33.86 13.54,33.57 C14.16,33.28 14.61,31.84 14.90,30.87 C15.19,29.91 15.34,28.86 15.30,27.80 C15.25,26.74 14.76,25.72 14.64,24.50 C14.52,23.29 14.64,21.83 14.58,20.53 C14.51,19.23 14.39,17.92 14.25,16.72 C14.11,15.53 13.94,14.35 13.75,13.36 C13.56,12.37 13.42,11.54 13.11,10.78 C12.80,10.02 12.22,9.42 11.89,8.80 C11.56,8.17 11.39,7.58 11.13,7.01 C10.87,6.45 10.63,6.09 10.31,5.41 C9.99,4.73 9.58,3.60 9.23,2.91 C8.88,2.22 8.59,1.31 8.21,1.29 Z" fill="url(#mg)" stroke="#8c8c8c" stroke-opacity="0.55" stroke-width="1.0" transform="translate(-0.01,0) rotate(-2.1 8 20)"/>
<ellipse cx="8.3" cy="15.8" rx="1.7" ry="3.0" fill="#a8a8a8" opacity="0.22"/><ellipse cx="3.1" cy="18.6" rx="1.9" ry="1.8" fill="#a8a8a8" opacity="0.22"/><ellipse cx="10.3" cy="13.6" rx="1.8" ry="2.0" fill="#a8a8a8" opacity="0.22"/><ellipse cx="9.0" cy="17.5" rx="2.2" ry="2.4" fill="#a8a8a8" opacity="0.22"/><ellipse cx="10.8" cy="20.1" rx="1.3" ry="2.5" fill="#a8a8a8" opacity="0.22"/>
</g></g>
<rect x="137.50" y="369.10" width="16.0" height="34.0" fill="#1a1a1a"/>
<g transform="translate(137.50,369.10)" clip-path="url(#cc)"><g filter="url(#bl)">
<path d="M8.31,1.39 C8.00,1.38 7.47,2.22 7.07,2.83 C6.66,3.43 6.30,4.31 5.89,5.01 C5.48,5.71 4.93,6.35 4.61,7.01 C4.28,7.68 4.15,8.38 3.97,9.00 C3.79,9.62 3.88,10.02 3.53,10.73 C3.17,11.45 2.16,12.39 1.86,13.32 C1.56,14.24 1.79,15.11 1.71,16.27 C1.64,17.43 1.52,18.89 1.39,20.28 C1.25,21.68 0.96,23.38 0.91,24.64 C0.86,25.90 1.02,26.78 1.09,27.87 C1.15,28.95 1.04,30.23 1.31,31.15 C1.57,32.07 2.13,33.21 2.67,33.41 C3.22,33.62 3.96,32.45 4.58,32.38 C5.20,32.32 5.81,32.81 6.38,33.01 C6.95,33.21 7.49,33.61 8.00,33.60 C8.51,33.59 8.92,33.14 9.47,32.98 C10.02,32.82 10.62,32.57 11.30,32.63 C11.97,32.69 12.89,33.62 13.50,33.36 C14.11,33.09 14.63,31.87 14.94,31.02 C15.25,30.16 15.33,29.31 15.37,28.24 C15.40,27.18 15.20,25.92 15.13,24.64 C15.06,23.35 15.08,21.92 14.93,20.53 C14.78,19.14 14.39,17.54 14.22,16.30 C14.05,15.06 14.14,13.99 13.91,13.07 C13.69,12.16 13.23,11.54 12.88,10.82 C12.52,10.11 12.09,9.39 11.78,8.76 C11.46,8.14 11.26,7.66 11.02,7.10 C10.78,6.54 10.68,6.09 10.34,5.39 C10.00,4.69 9.31,3.57 8.97,2.91 C8.64,2.24 8.63,1.40 8.31,1.39 Z" fill="url(#mg)" stroke="#8c8c8c" stroke-opacity="0.55" stroke-width="1.0" transform="translate(-0.20,0) rotate(-1.7 8 20)"/>
<ellipse cx="7.5" cy="17.4" rx="2.1" ry="3.0" fill="#a8a8a8" opacity="0.22"/><ellipse cx="10.7" cy="25.8" rx="2.2" ry="3.4" fill="#a8a8a8" opacity="0.22"/><ellipse cx="7.5" cy="17.8" rx="2.1" ry="2.1" fill="#a8a8a8" opacity="0.22"/><ellipse cx="11.3" cy="17.2" rx="2.0" ry="2.5" fill="#a8a8a8" opacity="0.22"/><ellipse cx="6.6" cy="8.2" rx="1.6" ry="2.5" fill="#a8a8a8" opacity="0.22"/>
</g></g>
<rect x="154.75" y="369.10" width="16.0" height="34.0" fill="#1a1a1a"/>
<g transform="translate(154.75,369.10)" clip-path="url(#cc)"><g filter="url(#bl)">
<path d="M8.28,1.64 C7.96,1.58 7.57,2.26 7.10,2.89 C6.63,3.52 5.90,4.69 5.46,5.39 C5.03,6.09 4.64,6.52 4.50,7.10 C4.36,7.68 4.79,8.24 4.61,8.89 C4.43,9.53 3.87,10.25 3.43,10.97 C2.99,11.69 2.33,12.29 1.97,13.20 C1.62,14.11 1.45,15.20 1.32,16.44 C1.19,17.68 1.26,19.30 1.20,20.66 C1.14,22.02 1.04,23.38 0.95,24.58 C0.86,25.79 0.64,26.80 0.65,27.88 C0.66,28.95 0.66,30.10 0.99,31.04 C1.33,31.98 2.03,33.21 2.66,33.51 C3.29,33.80 4.06,32.90 4.74,32.82 C5.43,32.74 6.21,32.90 6.76,33.03 C7.30,33.16 7.52,33.63 8.00,33.60 C8.48,33.57 9.15,33.00 9.66,32.84 C10.17,32.68 10.42,32.49 11.05,32.63 C11.69,32.76 12.84,33.94 13.47,33.63 C14.10,33.32 14.50,31.71 14.83,30.77 C15.15,29.83 15.43,29.01 15.41,27.98 C15.39,26.96 14.78,25.85 14.69,24.63 C14.61,23.41 14.93,22.05 14.89,20.68 C14.85,19.30 14.62,17.63 14.44,16.38 C14.25,15.13 14.07,14.11 13.78,13.18 C13.49,12.26 13.08,11.59 12.70,10.84 C12.31,10.09 11.75,9.32 11.45,8.68 C11.16,8.03 11.14,7.52 10.93,6.96 C10.73,6.40 10.53,5.95 10.22,5.32 C9.90,4.69 9.35,3.81 9.03,3.20 C8.71,2.59 8.60,1.69 8.28,1.64 Z" fill="url(#mg)" stroke="#8c8c8c" stroke-opacity="0.55" stroke-width="1.0" transform="translate(-0.36,0) rotate(3.2 8 20)"/>
<ellipse cx="9.1" cy="22.5" rx="1.6" ry="3.3" fill="#a8a8a8" opacity="0.22"/><ellipse cx="6.5" cy="26.6" rx="1.5" ry="3.4" fill="#a8a8a8" opacity="0.22"/><ellipse cx="9.8" cy="11.9" rx="2.2" ry="1.8" fill="#a8a8a8" opacity="0.22"/><ellipse cx="6.9" cy="16.3" rx="1.7" ry="2.2" fill="#a8a8a8" opacity="0.22"/><ellipse cx="4.6" cy="16.8" rx="1.3" ry="3.1" fill="#a8a8a8" opacity="0.22"/>
</g></g>
<rect x="172.00" y="369.10" width="16.0" height="34.0" fill="#1a1a1a"/>
<g transform="translate(172.00,369.10)" clip-path="url(#cc)"><g filter="url(#bl)">
<path d="M7.95,1.64 C7.63,1.67 7.48,2.47 7.17,3.10 C6.85,3.73 6.38,4.73 6.04,5.41 C5.69,6.08 5.38,6.63 5.10,7.16 C4.82,7.69 4.70,7.99 4.37,8.58 C4.03,9.18 3.45,9.99 3.11,10.71 C2.76,11.44 2.51,12.02 2.29,12.95 C2.06,13.88 1.97,15.03 1.78,16.29 C1.59,17.54 1.22,19.11 1.15,20.49 C1.07,21.87 1.42,23.30 1.34,24.57 C1.26,25.83 0.69,27.00 0.65,28.08 C0.62,29.17 0.80,30.13 1.11,31.06 C1.43,31.98 1.93,33.39 2.54,33.63 C3.15,33.87 4.11,32.55 4.76,32.49 C5.42,32.42 5.93,33.04 6.47,33.23 C7.01,33.41 7.53,33.66 8.00,33.60 C8.47,33.54 8.76,33.02 9.29,32.87 C9.83,32.72 10.49,32.63 11.22,32.69 C11.96,32.74 13.15,33.45 13.71,33.19 C14.27,32.93 14.35,31.96 14.58,31.11 C14.81,30.26 15.02,29.23 15.10,28.10 C15.17,26.96 15.12,25.59 15.02,24.30 C14.92,23.00 14.61,21.66 14.49,20.34 C14.36,19.01 14.40,17.56 14.26,16.34 C14.12,15.12 13.95,13.93 13.65,13.01 C13.35,12.09 12.76,11.54 12.47,10.81 C12.17,10.08 12.14,9.21 11.88,8.63 C11.62,8.05 11.25,7.92 10.92,7.31 C10.59,6.71 10.21,5.76 9.91,5.02 C9.60,4.28 9.42,3.46 9.09,2.90 C8.77,2.33 8.27,1.60 7.95,1.64 Z" fill="url(#mg)" stroke="#8c8c8c" stroke-opacity="0.55" stroke-width="1.0" transform="translate(0.21,0) rotate(-1.0 8 20)"/>
<ellipse cx="10.8" cy="19.1" rx="1.9" ry="2.2" fill="#a8a8a8" opacity="0.22"/><ellipse cx="3.3" cy="26.1" rx="1.7" ry="3.2" fill="#a8a8a8" opacity="0.22"/><ellipse cx="4.1" cy="17.5" rx="2.0" ry="1.8" fill="#a8a8a8" opacity="0.22"/><ellipse cx="3.7" cy="28.6" rx="2.5" ry="3.5" fill="#a8a8a8" opacity="0.22"/><ellipse cx="8.4" cy="24.1" rx="2.0" ry="2.5" fill="#a8a8a8" opacity="0.22"/>
</g></g>
<rect x="189.25" y="369.10" width="16.0" height="34.0" fill="#1a1a1a"/>
<g transform="translate(189.25,369.10)" clip-path="url(#cc)"><g filter="url(#bl)">
<path d="M7.96,1.49 C7.53,1.47 6.98,2.26 6.58,2.90 C6.17,3.54 5.83,4.63 5.53,5.33 C5.23,6.03 4.96,6.51 4.79,7.09 C4.61,7.67 4.79,8.20 4.50,8.81 C4.21,9.42 3.49,10.05 3.05,10.75 C2.61,11.44 2.15,11.98 1.85,12.98 C1.56,13.98 1.34,15.47 1.28,16.73 C1.21,17.99 1.44,19.22 1.46,20.52 C1.49,21.82 1.48,23.31 1.41,24.52 C1.34,25.73 1.05,26.71 1.03,27.80 C1.00,28.89 1.00,30.11 1.26,31.06 C1.51,32.00 1.96,33.21 2.54,33.48 C3.11,33.75 4.05,32.76 4.69,32.68 C5.33,32.60 5.84,32.84 6.40,32.99 C6.95,33.15 7.51,33.60 8.00,33.60 C8.49,33.60 8.87,33.20 9.35,33.01 C9.83,32.82 10.19,32.43 10.89,32.47 C11.59,32.51 12.92,33.44 13.55,33.23 C14.18,33.03 14.41,32.10 14.68,31.25 C14.95,30.39 15.11,29.20 15.18,28.12 C15.24,27.03 15.17,26.01 15.09,24.73 C15.01,23.46 14.81,21.86 14.72,20.45 C14.64,19.04 14.74,17.49 14.58,16.26 C14.42,15.04 14.07,13.98 13.78,13.09 C13.49,12.19 13.14,11.63 12.84,10.92 C12.54,10.20 12.20,9.46 11.95,8.80 C11.70,8.15 11.61,7.55 11.33,6.99 C11.06,6.42 10.67,6.08 10.31,5.41 C9.95,4.75 9.57,3.65 9.18,3.00 C8.79,2.34 8.39,1.51 7.96,1.49 Z" fill="url(#mg)" stroke="#8c8c8c" stroke-opacity="0.55" stroke-width="1.0" transform="translate(0.14,0) rotate(-2.3 8 20)"/>
<ellipse cx="8.1" cy="17.1" rx="1.5" ry="1.9" fill="#a8a8a8" opacity="0.22"/><ellipse cx="10.9" cy="19.3" rx="1.3" ry="2.7" fill="#a8a8a8" opacity="0.22"/><ellipse cx="11.3" cy="22.3" rx="1.5" ry="3.4" fill="#a8a8a8" opacity="0.22"/><ellipse cx="4.8" cy="19.2" rx="1.8" ry="1.8" fill="#a8a8a8" opacity="0.22"/><ellipse cx="5.7" cy="12.1" rx="1.4" ry="1.6" fill="#a8a8a8" opacity="0.22"/>
</g></g>
<rect x="206.50" y="369.10" width="16.0" height="34.0" fill="#1a1a1a"/>
<g transform="translate(206.50,369.10)" clip-path="url(#cc)"><g filter="url(#bl)">
<path d="M7.83,1.63 C7.45,1.63 7.13,2.37 6.85,2.98 C6.56,3.59 6.44,4.55 6.10,5.27 C5.75,6.00 5.05,6.75 4.78,7.32 C4.50,7.90 4.78,8.11 4.47,8.70 C4.16,9.30 3.25,10.16 2.90,10.92 C2.55,11.67 2.63,12.30 2.37,13.25 C2.11,14.20 1.57,15.39 1.33,16.62 C1.10,17.86 1.00,19.32 0.97,20.65 C0.95,21.97 1.25,23.35 1.19,24.57 C1.12,25.78 0.56,26.89 0.60,27.93 C0.65,28.97 1.18,29.90 1.46,30.81 C1.74,31.71 1.68,33.05 2.28,33.36 C2.87,33.67 4.36,32.76 5.05,32.66 C5.74,32.57 5.92,32.64 6.41,32.79 C6.90,32.95 7.46,33.54 8.00,33.60 C8.54,33.66 9.08,33.36 9.64,33.17 C10.19,32.98 10.68,32.46 11.34,32.45 C12.00,32.45 13.05,33.41 13.58,33.15 C14.10,32.90 14.16,31.81 14.47,30.91 C14.78,30.01 15.39,28.82 15.42,27.77 C15.45,26.72 14.74,25.85 14.66,24.62 C14.59,23.39 15.08,21.71 14.98,20.38 C14.89,19.06 14.25,17.84 14.10,16.68 C13.96,15.51 14.34,14.42 14.13,13.40 C13.92,12.39 13.22,11.35 12.85,10.59 C12.47,9.84 12.10,9.42 11.87,8.87 C11.63,8.33 11.71,7.90 11.43,7.33 C11.15,6.76 10.60,6.16 10.20,5.44 C9.81,4.71 9.47,3.61 9.07,2.97 C8.68,2.34 8.20,1.62 7.83,1.63 Z" fill="url(#mg)" stroke="#8c8c8c" stroke-opacity="0.55" stroke-width="1.0" transform="translate(0.17,0) rotate(1.0 8 20)"/>
<ellipse cx="9.4" cy="25.3" rx="2.0" ry="3.4" fill="#a8a8a8" opacity="0.22"/><ellipse cx="5.7" cy="27.7" rx="2.4" ry="2.2" fill="#a8a8a8" opacity="0.22"/><ellipse cx="3.3" cy="21.2" rx="2.1" ry="3.4" fill="#a8a8a8" opacity="0.22"/><ellipse cx="8.6" cy="23.9" rx="2.3" ry="1.8" fill="#a8a8a8" opacity="0.22"/><ellipse cx="9.7" cy="17.6" rx="1.5" ry="2.0" fill="#a8a8a8" opacity="0.22"/>
<g><ellipse cx="9" cy="30.5" rx="1.43" ry="1.29" fill="#a8a0ea" opacity="0.45"/><ellipse cx="9" cy="30.5" rx="1.10" ry="0.99" fill="#4232b8"/><ellipse cx="9" cy="30.5" rx="0.55" ry="0.50" fill="#6a5cd0"/></g>
</g></g>
<text x="99.40" y="171.60" font-size="7.2" fill="#a8a8a8" text-anchor="end" font-weight="normal" stroke="#a8a8a8" stroke-width="0.14" >Untreated</text>
<text x="99.40" y="196.30" font-size="7.24" fill="#6a6e74" text-anchor="end" font-weight="normal" stroke="#6a6e74" stroke-width="0.14" >Untargeted TCE</text>
<text x="99.40" y="208.30" font-size="7.2" fill="#222" text-anchor="end" font-weight="normal" stroke="#222" stroke-width="0.14" >1.2nmol/kg</text>
<text x="99.40" y="217.30" font-size="7.2" fill="#222" text-anchor="end" font-weight="normal" stroke="#222" stroke-width="0.14" >Q2Dx5</text>
<text x="99.40" y="235.50" font-size="7.2" fill="#4caee0" text-anchor="end" font-weight="normal" stroke="#4caee0" stroke-width="0.14" >CD123 TCE</text>
<text x="99.40" y="244.20" font-size="7.2" fill="#4caee0" text-anchor="end" font-weight="normal" stroke="#4caee0" stroke-width="0.14" >1.3nmol/kg</text>
<text x="99.40" y="252.80" font-size="7.2" fill="#4caee0" text-anchor="end" font-weight="normal" stroke="#4caee0" stroke-width="0.14" >QDx10</text>
<text x="99.40" y="274.10" font-size="7.2" fill="#7a3c98" text-anchor="end" font-weight="normal" stroke="#7a3c98" stroke-width="0.14" >CD33/CD123 TCE</text>
<text x="99.40" y="282.70" font-size="7.2" fill="#7a3c98" text-anchor="end" font-weight="normal" stroke="#7a3c98" stroke-width="0.14" >0.012nmol/kg</text>
<text x="99.40" y="291.30" font-size="7.2" fill="#7a3c98" text-anchor="end" font-weight="normal" stroke="#7a3c98" stroke-width="0.14" >Q2Dx5</text>
<text x="99.40" y="322.20" font-size="7.2" fill="#7a3c98" text-anchor="end" font-weight="normal" stroke="#7a3c98" stroke-width="0.14" >0.12nmol/kg</text>
<text x="99.40" y="359.30" font-size="7.2" fill="#7a3c98" text-anchor="end" font-weight="normal" stroke="#7a3c98" stroke-width="0.14" >1.2nmol/kg</text>
<text x="99.40" y="395.90" font-size="7.2" fill="#7a3c98" text-anchor="end" font-weight="normal" stroke="#7a3c98" stroke-width="0.14" >12nmol/kg</text>
<line x1="29" y1="208.9" x2="35.2" y2="208.9" stroke="#666" stroke-width="0.6"/>
<ellipse cx="18" cy="210.5" rx="11.3" ry="5.3" fill="#7c7c7c"/>
<text x="18.00" y="212.90" font-size="6.2" fill="#dadada" text-anchor="middle" font-weight="normal" stroke="#dadada" stroke-width="0.14" >TCR</text>
<ellipse cx="46.5" cy="210" rx="11.6" ry="5.6" fill="#fafafa" stroke="#555" stroke-width="0.7"/>
<text x="46.50" y="212.40" font-size="6.2" fill="#333" text-anchor="middle" font-weight="normal" stroke="#333" stroke-width="0.14" >ALB</text>
<path d="M14,228.2 C17,223.5 21,222 24.5,222.3 C28.5,222.6 31.5,224.5 33.5,227.5" fill="none" stroke="#555" stroke-width="0.6"/>
<path d="M25,229 C27.5,224.5 31,222 34.5,221.9 C39.5,221.8 44.5,224 47.5,228.5" fill="none" stroke="#555" stroke-width="0.6"/>
<path d="M14.6,245.4 L20.9,251.4" fill="none" stroke="#555" stroke-width="0.6"/>
<path d="M35.8,251.4 L44.4,245.4" fill="none" stroke="#555" stroke-width="0.6"/>
<g fill="#2a9ee0"><circle cx="17.7" cy="236.75" r="5.3"/><circle cx="13.20" cy="232.25" r="4.3"/><circle cx="13.20" cy="241.25" r="4.3"/><circle cx="22.20" cy="232.25" r="4.3"/><circle cx="22.20" cy="241.25" r="4.3"/></g>
<g fill="#cac6ca"><circle cx="40.8" cy="236.75" r="5.3"/><circle cx="36.30" cy="232.25" r="4.3"/><circle cx="36.30" cy="241.25" r="4.3"/><circle cx="45.30" cy="232.25" r="4.3"/><circle cx="45.30" cy="241.25" r="4.3"/></g>
<text x="17.7" y="236.75" font-size="4.4" fill="#e6f4fc" text-anchor="middle" dominant-baseline="central" transform="rotate(-45 17.7 236.75)">CD123</text>
<text x="40.8" y="236.75" font-size="4.4" fill="#e4e0e4" text-anchor="middle" dominant-baseline="central" transform="rotate(-45 40.8 236.75)">CD3</text>
<text x="28.60" y="254.00" font-size="6.0" fill="#333" text-anchor="middle" font-weight="normal" stroke="#333" stroke-width="0.14" >S · S</text>
<path d="M30.9,305.2 C29.5,307.5 32,309.5 30.8,311.5 C30.2,312.5 31.2,313.2 31.2,313.6" fill="none" stroke="#777" stroke-width="0.6"/>
<path d="M31.2,340 C30,341 32,342.5 31,343.7" fill="none" stroke="#777" stroke-width="0.6"/>
<path d="M31,370.2 C29.8,371.5 32.2,372.5 31.2,373.5" fill="none" stroke="#777" stroke-width="0.6"/>
<ellipse cx="31.2" cy="291.8" rx="6.1" ry="13.4" fill="#ececec" stroke="#777" stroke-width="0.6"/>
<text x="31.2" y="291.8" font-size="5.2" fill="#333" text-anchor="middle" dominant-baseline="central" transform="rotate(-90 31.2 291.8)">ALB</text>
<ellipse cx="31.4" cy="326.8" rx="5.7" ry="13.2" fill="#2aa2e2" stroke="none" stroke-width="0.6"/>
<text x="31.4" y="326.8" font-size="5.2" fill="#e0f2fc" text-anchor="middle" dominant-baseline="central" transform="rotate(-90 31.4 326.8)">CD123</text>
<ellipse cx="31.0" cy="357.0" rx="6.0" ry="13.2" fill="#d07a1a" stroke="none" stroke-width="0.6"/>
<text x="31.0" y="357.0" font-size="5.2" fill="#fbe6cc" text-anchor="middle" dominant-baseline="central" transform="rotate(-90 31.0 357.0)">CD33</text>
<ellipse cx="31.3" cy="386.8" rx="5.8" ry="13.2" fill="#8a8a8a" stroke="none" stroke-width="0.6"/>
<text x="31.3" y="386.8" font-size="5.2" fill="#d6d6d6" text-anchor="middle" dominant-baseline="central" transform="rotate(-90 31.3 386.8)">TCR</text>
<defs><linearGradient id="wg" x1="0" y1="0" x2="0" y2="1"><stop offset="0" stop-color="#f2e4f6"/><stop offset="0.3" stop-color="#b88cd0"/><stop offset="1" stop-color="#5e0f86"/></linearGradient></defs>
<path d="M42.6,276.6 L51.4,397.7 L42.6,397.7 Z" fill="url(#wg)"/>
<text x="243.60" y="194.80" font-size="6.6" fill="#333" text-anchor="start" font-weight="normal" stroke="#333" stroke-width="0.14" >Radiance</text>
<text x="243.6" y="203.2" font-size="6.6" fill="#333">(p/sec/cm<tspan font-size="4.6" dy="-2.4">2</tspan><tspan dy="2.4">/sr)</tspan></text>
<text x="250.00" y="212.50" font-size="6.75" fill="#333" text-anchor="start" font-weight="normal" stroke="#333" stroke-width="0.14" >Color Scale</text>
<text x="250.00" y="220.90" font-size="6.75" fill="#333" text-anchor="start" font-weight="normal" stroke="#333" stroke-width="0.14" >Min = 1.00e7</text>
<text x="250.00" y="229.30" font-size="6.75" fill="#333" text-anchor="start" font-weight="normal" stroke="#333" stroke-width="0.14" >Max = 1.00e8</text>
<text x="249.40" y="241.60" font-size="6.75" fill="#333" text-anchor="start" font-weight="normal" stroke="#333" stroke-width="0.14" >Luminescence</text>
<defs><linearGradient id="cb" x1="0" y1="1" x2="0" y2="0"><stop offset="0" stop-color="#3c1488"/><stop offset="0.12" stop-color="#3a2aa0"/><stop offset="0.22" stop-color="#3a6ad0"/><stop offset="0.32" stop-color="#38b0e0"/><stop offset="0.45" stop-color="#40b890"/><stop offset="0.56" stop-color="#48b040"/><stop offset="0.68" stop-color="#a0d020"/><stop offset="0.78" stop-color="#f8e818"/><stop offset="0.88" stop-color="#f89018"/><stop offset="1" stop-color="#e81818"/></linearGradient></defs>
<rect x="250" y="247.7" width="6" height="133.1" fill="url(#cb)"/>
<line x1="256" y1="248.40" x2="259.50" y2="248.40" stroke="#444" stroke-width="0.5"/>
<line x1="256" y1="254.28" x2="257.60" y2="254.28" stroke="#444" stroke-width="0.5"/>
<line x1="256" y1="260.15" x2="257.60" y2="260.15" stroke="#444" stroke-width="0.5"/>
<line x1="256" y1="266.02" x2="257.60" y2="266.02" stroke="#444" stroke-width="0.5"/>
<line x1="256" y1="271.90" x2="257.60" y2="271.90" stroke="#444" stroke-width="0.5"/>
<line x1="256" y1="277.77" x2="259.50" y2="277.77" stroke="#444" stroke-width="0.5"/>
<line x1="256" y1="283.65" x2="257.60" y2="283.65" stroke="#444" stroke-width="0.5"/>
<line x1="256" y1="289.52" x2="257.60" y2="289.52" stroke="#444" stroke-width="0.5"/>
<line x1="256" y1="295.40" x2="257.60" y2="295.40" stroke="#444" stroke-width="0.5"/>
<line x1="256" y1="301.27" x2="257.60" y2="301.27" stroke="#444" stroke-width="0.5"/>
<line x1="256" y1="307.15" x2="259.50" y2="307.15" stroke="#444" stroke-width="0.5"/>
<line x1="256" y1="313.02" x2="257.60" y2="313.02" stroke="#444" stroke-width="0.5"/>
<line x1="256" y1="318.90" x2="257.60" y2="318.90" stroke="#444" stroke-width="0.5"/>
<line x1="256" y1="324.77" x2="257.60" y2="324.77" stroke="#444" stroke-width="0.5"/>
<line x1="256" y1="330.65" x2="257.60" y2="330.65" stroke="#444" stroke-width="0.5"/>
<line x1="256" y1="336.52" x2="259.50" y2="336.52" stroke="#444" stroke-width="0.5"/>
<line x1="256" y1="342.40" x2="257.60" y2="342.40" stroke="#444" stroke-width="0.5"/>
<line x1="256" y1="348.27" x2="257.60" y2="348.27" stroke="#444" stroke-width="0.5"/>
<line x1="256" y1="354.15" x2="257.60" y2="354.15" stroke="#444" stroke-width="0.5"/>
<line x1="256" y1="360.02" x2="257.60" y2="360.02" stroke="#444" stroke-width="0.5"/>
<line x1="256" y1="365.90" x2="259.50" y2="365.90" stroke="#444" stroke-width="0.5"/>
<line x1="256" y1="371.77" x2="257.60" y2="371.77" stroke="#444" stroke-width="0.5"/>
<line x1="256" y1="377.65" x2="257.60" y2="377.65" stroke="#444" stroke-width="0.5"/>
<text x="261.30" y="250.80" font-size="6.8" fill="#333" text-anchor="start" font-weight="normal" stroke="#333" stroke-width="0.14" >1.0</text>
<text x="261.30" y="280.17" font-size="6.8" fill="#333" text-anchor="start" font-weight="normal" stroke="#333" stroke-width="0.14" >0.8</text>
<text x="261.30" y="309.55" font-size="6.8" fill="#333" text-anchor="start" font-weight="normal" stroke="#333" stroke-width="0.14" >0.6</text>
<text x="261.30" y="338.92" font-size="6.8" fill="#333" text-anchor="start" font-weight="normal" stroke="#333" stroke-width="0.14" >0.4</text>
<text x="261.30" y="368.30" font-size="6.8" fill="#333" text-anchor="start" font-weight="normal" stroke="#333" stroke-width="0.14" >0.2</text>
<text x="0" y="0" font-size="5.4" fill="#333" transform="translate(277.6,309.2) rotate(90)">x10<tspan font-size="3.9" dy="-2.0">8</tspan></text>
<text x="304.50" y="129.90" font-size="10" fill="#111" text-anchor="start" font-weight="bold" >C</text>
<text x="364.60" y="143.30" font-size="8.85" fill="#222" text-anchor="start" font-weight="normal" stroke="#222" stroke-width="0.14" >Whole body</text>
<line x1="338.9" y1="148.9" x2="338.9" y2="244.3" stroke="#333" stroke-width="1.2"/>
<line x1="338.29999999999995" y1="244.2" x2="438.6" y2="244.2" stroke="#333" stroke-width="1.2"/>
<line x1="336.30" y1="151.20" x2="338.90" y2="151.20" stroke="#333" stroke-width="0.8"/>
<text x="333.0" y="154.60" font-size="7.1" fill="#222" text-anchor="end">10<tspan font-size="5.5" dy="-2.5">10</tspan></text>
<line x1="336.30" y1="169.72" x2="338.90" y2="169.72" stroke="#333" stroke-width="0.8"/>
<text x="333.0" y="173.12" font-size="7.1" fill="#222" text-anchor="end">10<tspan font-size="5.5" dy="-2.5">9</tspan></text>
<line x1="336.30" y1="188.24" x2="338.90" y2="188.24" stroke="#333" stroke-width="0.8"/>
<text x="333.0" y="191.64" font-size="7.1" fill="#222" text-anchor="end">10<tspan font-size="5.5" dy="-2.5">8</tspan></text>
<line x1="336.30" y1="206.76" x2="338.90" y2="206.76" stroke="#333" stroke-width="0.8"/>
<text x="333.0" y="210.16" font-size="7.1" fill="#222" text-anchor="end">10<tspan font-size="5.5" dy="-2.5">7</tspan></text>
<line x1="336.30" y1="225.28" x2="338.90" y2="225.28" stroke="#333" stroke-width="0.8"/>
<text x="333.0" y="228.68" font-size="7.1" fill="#222" text-anchor="end">10<tspan font-size="5.5" dy="-2.5">6</tspan></text>
<line x1="336.30" y1="243.80" x2="338.90" y2="243.80" stroke="#333" stroke-width="0.8"/>
<text x="333.0" y="247.20" font-size="7.1" fill="#222" text-anchor="end">10<tspan font-size="5.5" dy="-2.5">5</tspan></text>
<line x1="338.50" y1="244.2" x2="338.50" y2="246.8" stroke="#333" stroke-width="0.8"/>
<text x="338.50" y="255.60" font-size="7.4" fill="#333" text-anchor="middle" font-weight="normal" stroke="#333" stroke-width="0.14" >0</text>
<line x1="371.00" y1="244.2" x2="371.00" y2="246.8" stroke="#333" stroke-width="0.8"/>
<text x="371.00" y="255.60" font-size="7.4" fill="#333" text-anchor="middle" font-weight="normal" stroke="#333" stroke-width="0.14" >5</text>
<line x1="403.50" y1="244.2" x2="403.50" y2="246.8" stroke="#333" stroke-width="0.8"/>
<text x="403.50" y="255.60" font-size="7.4" fill="#333" text-anchor="middle" font-weight="normal" stroke="#333" stroke-width="0.14" >10</text>
<line x1="436.00" y1="244.2" x2="436.00" y2="246.8" stroke="#333" stroke-width="0.8"/>
<text x="436.00" y="255.60" font-size="7.4" fill="#333" text-anchor="middle" font-weight="normal" stroke="#333" stroke-width="0.14" >15</text>
<text x="348.20" y="268.20" font-size="8.6" fill="#222" text-anchor="start" textLength="81" lengthAdjust="spacingAndGlyphs" stroke="#222" stroke-width="0.25" >Days post tumor engraftment</text>
<text x="312.00" y="0.00" font-size="9" fill="#222" text-anchor="start" textLength="86.6" lengthAdjust="spacingAndGlyphs" stroke="#222" stroke-width="0.3" transform="rotate(-90 312 0) translate(-239.6 0)">Bioluminescence (photons/sec)</text>
<g stroke="#a0a0a0" stroke-width="0.7" opacity="0.55"><line x1="358.00" y1="223.43" x2="358.00" y2="218.80"/><line x1="356.40" y1="223.43" x2="359.60" y2="223.43"/><line x1="356.40" y1="218.80" x2="359.60" y2="218.80"/></g>
<g stroke="#a0a0a0" stroke-width="0.7" opacity="0.55"><line x1="384.00" y1="208.61" x2="384.00" y2="192.87"/><line x1="382.40" y1="208.61" x2="385.60" y2="208.61"/><line x1="382.40" y1="192.87" x2="385.60" y2="192.87"/></g>
<g stroke="#a0a0a0" stroke-width="0.7" opacity="0.55"><line x1="403.50" y1="181.94" x2="403.50" y2="170.65"/><line x1="401.90" y1="181.94" x2="405.10" y2="181.94"/><line x1="401.90" y1="170.65" x2="405.10" y2="170.65"/></g>
<g stroke="#a0a0a0" stroke-width="0.7" opacity="0.55"><line x1="429.50" y1="165.09" x2="429.50" y2="154.90"/><line x1="427.90" y1="165.09" x2="431.10" y2="165.09"/><line x1="427.90" y1="154.90" x2="431.10" y2="154.90"/></g>
<g stroke="#4c5058" stroke-width="0.7" opacity="0.55"><line x1="358.00" y1="223.43" x2="358.00" y2="219.72"/><line x1="356.40" y1="223.43" x2="359.60" y2="223.43"/><line x1="356.40" y1="219.72" x2="359.60" y2="219.72"/></g>
<g stroke="#4c5058" stroke-width="0.7" opacity="0.55"><line x1="384.00" y1="202.13" x2="384.00" y2="193.80"/><line x1="382.40" y1="202.13" x2="385.60" y2="202.13"/><line x1="382.40" y1="193.80" x2="385.60" y2="193.80"/></g>
<g stroke="#4c5058" stroke-width="0.7" opacity="0.55"><line x1="403.50" y1="178.98" x2="403.50" y2="171.57"/><line x1="401.90" y1="178.98" x2="405.10" y2="178.98"/><line x1="401.90" y1="171.57" x2="405.10" y2="171.57"/></g>
<g stroke="#4c5058" stroke-width="0.7" opacity="0.55"><line x1="429.50" y1="164.16" x2="429.50" y2="155.64"/><line x1="427.90" y1="164.16" x2="431.10" y2="164.16"/><line x1="427.90" y1="155.64" x2="431.10" y2="155.64"/></g>
<g stroke="#2fa0d8" stroke-width="0.7" opacity="0.55"><line x1="358.00" y1="224.35" x2="358.00" y2="218.80"/><line x1="356.40" y1="224.35" x2="359.60" y2="224.35"/><line x1="356.40" y1="218.80" x2="359.60" y2="218.80"/></g>
<g stroke="#2fa0d8" stroke-width="0.7" opacity="0.55"><line x1="384.00" y1="225.28" x2="384.00" y2="208.61"/><line x1="382.40" y1="225.28" x2="385.60" y2="225.28"/><line x1="382.40" y1="208.61" x2="385.60" y2="208.61"/></g>
<g stroke="#2fa0d8" stroke-width="0.7" opacity="0.55"><line x1="403.50" y1="210.46" x2="403.50" y2="186.39"/><line x1="401.90" y1="210.46" x2="405.10" y2="210.46"/><line x1="401.90" y1="186.39" x2="405.10" y2="186.39"/></g>
<g stroke="#2fa0d8" stroke-width="0.7" opacity="0.55"><line x1="429.50" y1="179.91" x2="429.50" y2="165.09"/><line x1="427.90" y1="179.91" x2="431.10" y2="179.91"/><line x1="427.90" y1="165.09" x2="431.10" y2="165.09"/></g>
<g stroke="#c8a8da" stroke-width="0.7" opacity="0.55"><line x1="358.00" y1="225.28" x2="358.00" y2="217.87"/><line x1="356.40" y1="225.28" x2="359.60" y2="225.28"/><line x1="356.40" y1="217.87" x2="359.60" y2="217.87"/></g>
<g stroke="#c8a8da" stroke-width="0.7" opacity="0.55"><line x1="384.00" y1="238.24" x2="384.00" y2="208.61"/><line x1="382.40" y1="238.24" x2="385.60" y2="238.24"/><line x1="382.40" y1="208.61" x2="385.60" y2="208.61"/></g>
<g stroke="#c8a8da" stroke-width="0.7" opacity="0.55"><line x1="403.50" y1="227.13" x2="403.50" y2="180.83"/><line x1="401.90" y1="227.13" x2="405.10" y2="227.13"/><line x1="401.90" y1="180.83" x2="405.10" y2="180.83"/></g>
<g stroke="#c8a8da" stroke-width="0.7" opacity="0.55"><line x1="429.50" y1="192.68" x2="429.50" y2="182.68"/><line x1="427.90" y1="192.68" x2="431.10" y2="192.68"/><line x1="427.90" y1="182.68" x2="431.10" y2="182.68"/></g>
<g stroke="#b48cd0" stroke-width="0.7" opacity="0.55"><line x1="358.00" y1="225.28" x2="358.00" y2="217.87"/><line x1="356.40" y1="225.28" x2="359.60" y2="225.28"/><line x1="356.40" y1="217.87" x2="359.60" y2="217.87"/></g>
<g stroke="#b48cd0" stroke-width="0.7" opacity="0.55"><line x1="384.00" y1="232.69" x2="384.00" y2="210.46"/><line x1="382.40" y1="232.69" x2="385.60" y2="232.69"/><line x1="382.40" y1="210.46" x2="385.60" y2="210.46"/></g>
<g stroke="#b48cd0" stroke-width="0.7" opacity="0.55"><line x1="403.50" y1="219.72" x2="403.50" y2="191.94"/><line x1="401.90" y1="219.72" x2="405.10" y2="219.72"/><line x1="401.90" y1="191.94" x2="405.10" y2="191.94"/></g>
<g stroke="#b48cd0" stroke-width="0.7" opacity="0.55"><line x1="429.50" y1="191.94" x2="429.50" y2="180.83"/><line x1="427.90" y1="191.94" x2="431.10" y2="191.94"/><line x1="427.90" y1="180.83" x2="431.10" y2="180.83"/></g>
<g stroke="#6a1f8e" stroke-width="0.7" opacity="0.55"><line x1="358.00" y1="223.43" x2="358.00" y2="219.72"/><line x1="356.40" y1="223.43" x2="359.60" y2="223.43"/><line x1="356.40" y1="219.72" x2="359.60" y2="219.72"/></g>
<g stroke="#6a1f8e" stroke-width="0.7" opacity="0.55"><line x1="384.00" y1="223.43" x2="384.00" y2="212.32"/><line x1="382.40" y1="223.43" x2="385.60" y2="223.43"/><line x1="382.40" y1="212.32" x2="385.60" y2="212.32"/></g>
<g stroke="#6a1f8e" stroke-width="0.7" opacity="0.55"><line x1="403.50" y1="206.76" x2="403.50" y2="191.94"/><line x1="401.90" y1="206.76" x2="405.10" y2="206.76"/><line x1="401.90" y1="191.94" x2="405.10" y2="191.94"/></g>
<g stroke="#6a1f8e" stroke-width="0.7" opacity="0.55"><line x1="429.50" y1="190.09" x2="429.50" y2="178.98"/><line x1="427.90" y1="190.09" x2="431.10" y2="190.09"/><line x1="427.90" y1="178.98" x2="431.10" y2="178.98"/></g>
<g stroke="#7a2ca2" stroke-width="0.7" opacity="0.55"><line x1="358.00" y1="223.43" x2="358.00" y2="219.72"/><line x1="356.40" y1="223.43" x2="359.60" y2="223.43"/><line x1="356.40" y1="219.72" x2="359.60" y2="219.72"/></g>
<g stroke="#7a2ca2" stroke-width="0.7" opacity="0.55"><line x1="384.00" y1="225.28" x2="384.00" y2="214.17"/><line x1="382.40" y1="225.28" x2="385.60" y2="225.28"/><line x1="382.40" y1="214.17" x2="385.60" y2="214.17"/></g>
<g stroke="#7a2ca2" stroke-width="0.7" opacity="0.55"><line x1="403.50" y1="208.61" x2="403.50" y2="195.65"/><line x1="401.90" y1="208.61" x2="405.10" y2="208.61"/><line x1="401.90" y1="195.65" x2="405.10" y2="195.65"/></g>
<g stroke="#7a2ca2" stroke-width="0.7" opacity="0.55"><line x1="429.50" y1="190.09" x2="429.50" y2="181.76"/><line x1="427.90" y1="190.09" x2="431.10" y2="190.09"/><line x1="427.90" y1="181.76" x2="431.10" y2="181.76"/></g>
<polyline points="358.00,221.21 384.00,196.39 403.50,173.42 429.50,158.61" fill="none" stroke="#a0a0a0" stroke-width="1.15"/>
<polyline points="358.00,221.58 384.00,198.06 403.50,175.09 429.50,159.72" fill="none" stroke="#4c5058" stroke-width="1.15"/>
<polyline points="358.00,221.58 384.00,216.95 403.50,198.24 429.50,172.50" fill="none" stroke="#2fa0d8" stroke-width="1.15"/>
<polyline points="358.00,221.58 384.00,220.65 403.50,209.54 429.50,188.43" fill="none" stroke="#c8a8da" stroke-width="1.15"/>
<polyline points="358.00,221.58 384.00,218.80 403.50,205.28 429.50,187.31" fill="none" stroke="#b48cd0" stroke-width="1.15"/>
<polyline points="358.00,221.58 384.00,217.87 403.50,198.98 429.50,185.28" fill="none" stroke="#6a1f8e" stroke-width="1.15"/>
<polyline points="358.00,221.58 384.00,219.72 403.50,202.13 429.50,186.39" fill="none" stroke="#7a2ca2" stroke-width="1.15"/>
<rect x="356.08" y="219.66" width="3.84" height="3.84" fill="#2fa0d8"/>
<rect x="382.08" y="215.03" width="3.84" height="3.84" fill="#2fa0d8"/>
<rect x="401.58" y="196.32" width="3.84" height="3.84" fill="#2fa0d8"/>
<rect x="427.58" y="170.58" width="3.84" height="3.84" fill="#2fa0d8"/>
<path d="M358.00,219.30 L360.28,223.40 L355.72,223.40 Z" fill="#5a1680"/>
<path d="M384.00,217.44 L386.28,221.55 L381.72,221.55 Z" fill="#5a1680"/>
<path d="M403.50,199.85 L405.78,203.95 L401.22,203.95 Z" fill="#5a1680"/>
<path d="M429.50,184.11 L431.78,188.21 L427.22,188.21 Z" fill="#5a1680"/>
<path d="M358.00,223.86 L360.28,219.75 L355.72,219.75 Z" fill="#6a1f8e"/>
<path d="M384.00,220.15 L386.28,216.05 L381.72,216.05 Z" fill="#6a1f8e"/>
<path d="M403.50,201.26 L405.78,197.16 L401.22,197.16 Z" fill="#6a1f8e"/>
<path d="M429.50,187.56 L431.78,183.45 L427.22,183.45 Z" fill="#6a1f8e"/>
<path d="M358.00,219.30 L360.28,223.40 L355.72,223.40 Z" fill="#a67cc4"/>
<path d="M384.00,216.52 L386.28,220.62 L381.72,220.62 Z" fill="#a67cc4"/>
<path d="M403.50,203.00 L405.78,207.10 L401.22,207.10 Z" fill="#a67cc4"/>
<path d="M429.50,185.03 L431.78,189.14 L427.22,189.14 Z" fill="#a67cc4"/>
<path d="M358.00,219.30 L360.28,223.40 L355.72,223.40 Z" fill="#f1e8f6" stroke="#c7a6da" stroke-width="0.85"/>
<path d="M384.00,218.37 L386.28,222.47 L381.72,222.47 Z" fill="#f1e8f6" stroke="#c7a6da" stroke-width="0.85"/>
<path d="M403.50,207.26 L405.78,211.36 L401.22,211.36 Z" fill="#f1e8f6" stroke="#c7a6da" stroke-width="0.85"/>
<path d="M429.50,186.15 L431.78,190.25 L427.22,190.25 Z" fill="#f1e8f6" stroke="#c7a6da" stroke-width="0.85"/>
<circle cx="358.00" cy="221.21" r="1.92" fill="#f6f6f6" stroke="#9a9a9a" stroke-width="0.75"/>
<circle cx="384.00" cy="196.39" r="1.92" fill="#f6f6f6" stroke="#9a9a9a" stroke-width="0.75"/>
<circle cx="403.50" cy="173.42" r="1.92" fill="#f6f6f6" stroke="#9a9a9a" stroke-width="0.75"/>
<circle cx="429.50" cy="158.61" r="1.92" fill="#f6f6f6" stroke="#9a9a9a" stroke-width="0.75"/>
<circle cx="358.00" cy="221.58" r="2.04" fill="#464a52"/>
<circle cx="384.00" cy="198.06" r="2.04" fill="#464a52"/>
<circle cx="403.50" cy="175.09" r="2.04" fill="#464a52"/>
<circle cx="429.50" cy="159.72" r="2.04" fill="#464a52"/>
<text x="304.50" y="288.80" font-size="10" fill="#111" text-anchor="start" font-weight="bold" >D</text>
<text x="361.70" y="300.80" font-size="8.88" fill="#222" text-anchor="start" font-weight="normal" stroke="#222" stroke-width="0.14" >Long Bones</text>
<line x1="338.9" y1="305.5" x2="338.9" y2="400.9" stroke="#333" stroke-width="1.2"/>
<line x1="338.29999999999995" y1="400.4" x2="433" y2="400.4" stroke="#333" stroke-width="1.2"/>
<line x1="336.30" y1="308.49" x2="338.90" y2="308.49" stroke="#333" stroke-width="0.8"/>
<text x="333.0" y="311.89" font-size="7.1" fill="#222" text-anchor="end">10<tspan font-size="5.5" dy="-2.5">10</tspan></text>
<line x1="336.30" y1="321.62" x2="338.90" y2="321.62" stroke="#333" stroke-width="0.8"/>
<text x="333.0" y="325.02" font-size="7.1" fill="#222" text-anchor="end">10<tspan font-size="5.5" dy="-2.5">9</tspan></text>
<line x1="336.30" y1="334.75" x2="338.90" y2="334.75" stroke="#333" stroke-width="0.8"/>
<text x="333.0" y="338.15" font-size="7.1" fill="#222" text-anchor="end">10<tspan font-size="5.5" dy="-2.5">8</tspan></text>
<line x1="336.30" y1="347.88" x2="338.90" y2="347.88" stroke="#333" stroke-width="0.8"/>
<text x="333.0" y="351.28" font-size="7.1" fill="#222" text-anchor="end">10<tspan font-size="5.5" dy="-2.5">7</tspan></text>
<line x1="336.30" y1="361.01" x2="338.90" y2="361.01" stroke="#333" stroke-width="0.8"/>
<text x="333.0" y="364.41" font-size="7.1" fill="#222" text-anchor="end">10<tspan font-size="5.5" dy="-2.5">6</tspan></text>
<line x1="336.30" y1="374.14" x2="338.90" y2="374.14" stroke="#333" stroke-width="0.8"/>
<text x="333.0" y="377.54" font-size="7.1" fill="#222" text-anchor="end">10<tspan font-size="5.5" dy="-2.5">5</tspan></text>
<line x1="336.30" y1="387.27" x2="338.90" y2="387.27" stroke="#333" stroke-width="0.8"/>
<text x="333.0" y="390.67" font-size="7.1" fill="#222" text-anchor="end">10<tspan font-size="5.5" dy="-2.5">4</tspan></text>
<line x1="336.30" y1="400.40" x2="338.90" y2="400.40" stroke="#333" stroke-width="0.8"/>
<text x="333.0" y="403.80" font-size="7.1" fill="#222" text-anchor="end">10<tspan font-size="5.5" dy="-2.5">3</tspan></text>
<line x1="338.50" y1="400.4" x2="338.50" y2="403" stroke="#333" stroke-width="0.8"/>
<text x="338.50" y="412.80" font-size="7.4" fill="#333" text-anchor="middle" font-weight="normal" stroke="#333" stroke-width="0.14" >0</text>
<line x1="369.50" y1="400.4" x2="369.50" y2="403" stroke="#333" stroke-width="0.8"/>
<text x="369.50" y="412.80" font-size="7.4" fill="#333" text-anchor="middle" font-weight="normal" stroke="#333" stroke-width="0.14" >5</text>
<line x1="400.50" y1="400.4" x2="400.50" y2="403" stroke="#333" stroke-width="0.8"/>
<text x="400.50" y="412.80" font-size="7.4" fill="#333" text-anchor="middle" font-weight="normal" stroke="#333" stroke-width="0.14" >10</text>
<line x1="431.50" y1="400.4" x2="431.50" y2="403" stroke="#333" stroke-width="0.8"/>
<text x="431.50" y="412.80" font-size="7.4" fill="#333" text-anchor="middle" font-weight="normal" stroke="#333" stroke-width="0.14" >15</text>
<text x="346.60" y="424.20" font-size="8.6" fill="#222" text-anchor="start" textLength="80.5" lengthAdjust="spacingAndGlyphs" stroke="#222" stroke-width="0.25" >Days post tumor engraftment</text>
<text x="312.00" y="0.00" font-size="9" fill="#222" text-anchor="start" textLength="86.8" lengthAdjust="spacingAndGlyphs" stroke="#222" stroke-width="0.3" transform="rotate(-90 312 0) translate(-397.9 0)">Bioluminescence (photons/sec)</text>
<g stroke="#a0a0a0" stroke-width="0.7" opacity="0.55"><line x1="357.10" y1="378.08" x2="357.10" y2="368.23"/><line x1="355.50" y1="378.08" x2="358.70" y2="378.08"/><line x1="355.50" y1="368.23" x2="358.70" y2="368.23"/></g>
<g stroke="#a0a0a0" stroke-width="0.7" opacity="0.55"><line x1="381.90" y1="361.27" x2="381.90" y2="343.42"/><line x1="380.30" y1="361.27" x2="383.50" y2="361.27"/><line x1="380.30" y1="343.42" x2="383.50" y2="343.42"/></g>
<g stroke="#a0a0a0" stroke-width="0.7" opacity="0.55"><line x1="400.50" y1="351.82" x2="400.50" y2="325.43"/><line x1="398.90" y1="351.82" x2="402.10" y2="351.82"/><line x1="398.90" y1="325.43" x2="402.10" y2="325.43"/></g>
<g stroke="#a0a0a0" stroke-width="0.7" opacity="0.55"><line x1="425.30" y1="331.73" x2="425.30" y2="315.84"/><line x1="423.70" y1="331.73" x2="426.90" y2="331.73"/><line x1="423.70" y1="315.84" x2="426.90" y2="315.84"/></g>
<g stroke="#4c5058" stroke-width="0.7" opacity="0.55"><line x1="357.10" y1="375.45" x2="357.10" y2="369.54"/><line x1="355.50" y1="375.45" x2="358.70" y2="375.45"/><line x1="355.50" y1="369.54" x2="358.70" y2="369.54"/></g>
<g stroke="#4c5058" stroke-width="0.7" opacity="0.55"><line x1="381.90" y1="350.51" x2="381.90" y2="344.60"/><line x1="380.30" y1="350.51" x2="383.50" y2="350.51"/><line x1="380.30" y1="344.60" x2="383.50" y2="344.60"/></g>
<g stroke="#4c5058" stroke-width="0.7" opacity="0.55"><line x1="400.50" y1="332.12" x2="400.50" y2="326.22"/><line x1="398.90" y1="332.12" x2="402.10" y2="332.12"/><line x1="398.90" y1="326.22" x2="402.10" y2="326.22"/></g>
<g stroke="#4c5058" stroke-width="0.7" opacity="0.55"><line x1="425.30" y1="322.93" x2="425.30" y2="317.68"/><line x1="423.70" y1="322.93" x2="426.90" y2="322.93"/><line x1="423.70" y1="317.68" x2="426.90" y2="317.68"/></g>
<g stroke="#2fa0d8" stroke-width="0.7" opacity="0.55"><line x1="357.10" y1="379.39" x2="357.10" y2="368.89"/><line x1="355.50" y1="379.39" x2="358.70" y2="379.39"/><line x1="355.50" y1="368.89" x2="358.70" y2="368.89"/></g>
<g stroke="#2fa0d8" stroke-width="0.7" opacity="0.55"><line x1="381.90" y1="383.33" x2="381.90" y2="376.77"/><line x1="380.30" y1="383.33" x2="383.50" y2="383.33"/><line x1="380.30" y1="376.77" x2="383.50" y2="376.77"/></g>
<g stroke="#2fa0d8" stroke-width="0.7" opacity="0.55"><line x1="400.50" y1="372.83" x2="400.50" y2="363.64"/><line x1="398.90" y1="372.83" x2="402.10" y2="372.83"/><line x1="398.90" y1="363.64" x2="402.10" y2="363.64"/></g>
<g stroke="#2fa0d8" stroke-width="0.7" opacity="0.55"><line x1="425.30" y1="358.38" x2="425.30" y2="348.67"/><line x1="423.70" y1="358.38" x2="426.90" y2="358.38"/><line x1="423.70" y1="348.67" x2="426.90" y2="348.67"/></g>
<g stroke="#c8a8da" stroke-width="0.7" opacity="0.55"><line x1="357.10" y1="381.36" x2="357.10" y2="369.81"/><line x1="355.50" y1="381.36" x2="358.70" y2="381.36"/><line x1="355.50" y1="369.81" x2="358.70" y2="369.81"/></g>
<g stroke="#c8a8da" stroke-width="0.7" opacity="0.55"><line x1="381.90" y1="380.70" x2="381.90" y2="368.89"/><line x1="380.30" y1="380.70" x2="383.50" y2="380.70"/><line x1="380.30" y1="368.89" x2="383.50" y2="368.89"/></g>
<g stroke="#c8a8da" stroke-width="0.7" opacity="0.55"><line x1="400.50" y1="375.45" x2="400.50" y2="364.95"/><line x1="398.90" y1="375.45" x2="402.10" y2="375.45"/><line x1="398.90" y1="364.95" x2="402.10" y2="364.95"/></g>
<g stroke="#c8a8da" stroke-width="0.7" opacity="0.55"><line x1="425.30" y1="367.57" x2="425.30" y2="355.76"/><line x1="423.70" y1="367.57" x2="426.90" y2="367.57"/><line x1="423.70" y1="355.76" x2="426.90" y2="355.76"/></g>
<g stroke="#b48cd0" stroke-width="0.7" opacity="0.55"><line x1="357.10" y1="379.39" x2="357.10" y2="368.89"/><line x1="355.50" y1="379.39" x2="358.70" y2="379.39"/><line x1="355.50" y1="368.89" x2="358.70" y2="368.89"/></g>
<g stroke="#b48cd0" stroke-width="0.7" opacity="0.55"><line x1="381.90" y1="384.64" x2="381.90" y2="378.08"/><line x1="380.30" y1="384.64" x2="383.50" y2="384.64"/><line x1="380.30" y1="378.08" x2="383.50" y2="378.08"/></g>
<g stroke="#b48cd0" stroke-width="0.7" opacity="0.55"><line x1="400.50" y1="380.70" x2="400.50" y2="366.26"/><line x1="398.90" y1="380.70" x2="402.10" y2="380.70"/><line x1="398.90" y1="366.26" x2="402.10" y2="366.26"/></g>
<g stroke="#b48cd0" stroke-width="0.7" opacity="0.55"><line x1="425.30" y1="370.20" x2="425.30" y2="358.38"/><line x1="423.70" y1="370.20" x2="426.90" y2="370.20"/><line x1="423.70" y1="358.38" x2="426.90" y2="358.38"/></g>
<g stroke="#6a1f8e" stroke-width="0.7" opacity="0.55"><line x1="357.10" y1="376.77" x2="357.10" y2="370.20"/><line x1="355.50" y1="376.77" x2="358.70" y2="376.77"/><line x1="355.50" y1="370.20" x2="358.70" y2="370.20"/></g>
<g stroke="#6a1f8e" stroke-width="0.7" opacity="0.55"><line x1="381.90" y1="383.33" x2="381.90" y2="377.42"/><line x1="380.30" y1="383.33" x2="383.50" y2="383.33"/><line x1="380.30" y1="377.42" x2="383.50" y2="377.42"/></g>
<g stroke="#6a1f8e" stroke-width="0.7" opacity="0.55"><line x1="400.50" y1="376.77" x2="400.50" y2="363.50"/><line x1="398.90" y1="376.77" x2="402.10" y2="376.77"/><line x1="398.90" y1="363.50" x2="402.10" y2="363.50"/></g>
<g stroke="#6a1f8e" stroke-width="0.7" opacity="0.55"><line x1="425.30" y1="361.01" x2="425.30" y2="350.51"/><line x1="423.70" y1="361.01" x2="426.90" y2="361.01"/><line x1="423.70" y1="350.51" x2="426.90" y2="350.51"/></g>
<g stroke="#5c1884" stroke-width="0.7" opacity="0.55"><line x1="357.10" y1="378.08" x2="357.10" y2="370.86"/><line x1="355.50" y1="378.08" x2="358.70" y2="378.08"/><line x1="355.50" y1="370.86" x2="358.70" y2="370.86"/></g>
<g stroke="#5c1884" stroke-width="0.7" opacity="0.55"><line x1="381.90" y1="383.99" x2="381.90" y2="378.74"/><line x1="380.30" y1="383.99" x2="383.50" y2="383.99"/><line x1="380.30" y1="378.74" x2="383.50" y2="378.74"/></g>
<g stroke="#5c1884" stroke-width="0.7" opacity="0.55"><line x1="400.50" y1="386.74" x2="400.50" y2="368.89"/><line x1="398.90" y1="386.74" x2="402.10" y2="386.74"/><line x1="398.90" y1="368.89" x2="402.10" y2="368.89"/></g>
<g stroke="#5c1884" stroke-width="0.7" opacity="0.55"><line x1="425.30" y1="375.06" x2="425.30" y2="361.01"/><line x1="423.70" y1="375.06" x2="426.90" y2="375.06"/><line x1="423.70" y1="361.01" x2="426.90" y2="361.01"/></g>
<polyline points="357.10,371.51 381.90,346.30 400.50,327.92 425.30,319.26" fill="none" stroke="#a0a0a0" stroke-width="1.15"/>
<polyline points="357.10,371.91 381.90,347.22 400.50,328.84 425.30,320.31" fill="none" stroke="#4c5058" stroke-width="1.15"/>
<polyline points="357.10,372.17 381.90,380.44 400.50,368.10 425.30,352.87" fill="none" stroke="#2fa0d8" stroke-width="1.15"/>
<polyline points="357.10,372.83 381.90,375.06 400.50,369.81 425.30,361.27" fill="none" stroke="#c8a8da" stroke-width="1.15"/>
<polyline points="357.10,373.48 381.90,381.36 400.50,372.96 425.30,363.50" fill="none" stroke="#b48cd0" stroke-width="1.15"/>
<polyline points="357.10,372.83 381.90,380.44 400.50,370.86 425.30,355.36" fill="none" stroke="#6a1f8e" stroke-width="1.15"/>
<polyline points="357.10,374.14 381.90,381.36 400.50,376.24 425.30,367.31" fill="none" stroke="#5c1884" stroke-width="1.15"/>
<rect x="355.18" y="370.25" width="3.84" height="3.84" fill="#2fa0d8"/>
<rect x="379.98" y="378.52" width="3.84" height="3.84" fill="#2fa0d8"/>
<rect x="398.58" y="366.18" width="3.84" height="3.84" fill="#2fa0d8"/>
<rect x="423.38" y="350.95" width="3.84" height="3.84" fill="#2fa0d8"/>
<path d="M357.10,371.86 L359.38,375.96 L354.82,375.96 Z" fill="#5a1680"/>
<path d="M381.90,379.08 L384.18,383.19 L379.62,383.19 Z" fill="#5a1680"/>
<path d="M400.50,373.96 L402.78,378.06 L398.22,378.06 Z" fill="#5a1680"/>
<path d="M425.30,365.03 L427.58,369.14 L423.02,369.14 Z" fill="#5a1680"/>
<path d="M357.10,375.11 L359.38,371.00 L354.82,371.00 Z" fill="#6a1f8e"/>
<path d="M381.90,382.72 L384.18,378.62 L379.62,378.62 Z" fill="#6a1f8e"/>
<path d="M400.50,373.14 L402.78,369.03 L398.22,369.03 Z" fill="#6a1f8e"/>
<path d="M425.30,357.64 L427.58,353.54 L423.02,353.54 Z" fill="#6a1f8e"/>
<path d="M357.10,371.20 L359.38,375.31 L354.82,375.31 Z" fill="#a67cc4"/>
<path d="M381.90,379.08 L384.18,383.19 L379.62,383.19 Z" fill="#a67cc4"/>
<path d="M400.50,370.68 L402.78,374.78 L398.22,374.78 Z" fill="#a67cc4"/>
<path d="M425.30,361.22 L427.58,365.33 L423.02,365.33 Z" fill="#a67cc4"/>
<path d="M357.10,370.55 L359.38,374.65 L354.82,374.65 Z" fill="#f1e8f6" stroke="#c7a6da" stroke-width="0.85"/>
<path d="M381.90,372.78 L384.18,376.88 L379.62,376.88 Z" fill="#f1e8f6" stroke="#c7a6da" stroke-width="0.85"/>
<path d="M400.50,367.53 L402.78,371.63 L398.22,371.63 Z" fill="#f1e8f6" stroke="#c7a6da" stroke-width="0.85"/>
<path d="M425.30,358.99 L427.58,363.10 L423.02,363.10 Z" fill="#f1e8f6" stroke="#c7a6da" stroke-width="0.85"/>
<circle cx="357.10" cy="371.51" r="1.92" fill="#f6f6f6" stroke="#9a9a9a" stroke-width="0.75"/>
<circle cx="381.90" cy="346.30" r="1.92" fill="#f6f6f6" stroke="#9a9a9a" stroke-width="0.75"/>
<circle cx="400.50" cy="327.92" r="1.92" fill="#f6f6f6" stroke="#9a9a9a" stroke-width="0.75"/>
<circle cx="425.30" cy="319.26" r="1.92" fill="#f6f6f6" stroke="#9a9a9a" stroke-width="0.75"/>
<circle cx="357.10" cy="371.91" r="2.04" fill="#464a52"/>
<circle cx="381.90" cy="347.22" r="2.04" fill="#464a52"/>
<circle cx="400.50" cy="328.84" r="2.04" fill="#464a52"/>
<circle cx="425.30" cy="320.31" r="2.04" fill="#464a52"/>
<line x1="440.4" y1="310.7" x2="449.0" y2="310.7" stroke="#a8a8a8" stroke-width="0.9"/>
<circle cx="444.70" cy="310.70" r="1.60" fill="#f6f6f6" stroke="#9a9a9a" stroke-width="0.75"/>
<text x="452.60" y="313.10" font-size="6.67" fill="#333" text-anchor="start" font-weight="normal" stroke="#333" stroke-width="0.14" >Untreated</text>
<line x1="440.4" y1="320.4" x2="449.0" y2="320.4" stroke="#4a4f58" stroke-width="0.9"/>
<circle cx="444.70" cy="320.40" r="1.70" fill="#464a52"/>
<text x="452.60" y="322.80" font-size="6.73" fill="#333" text-anchor="start" font-weight="normal" stroke="#333" stroke-width="0.14" >Untargeted TCE</text>
<line x1="440.4" y1="341.0" x2="449.0" y2="341.0" stroke="#2fa0d8" stroke-width="0.9"/>
<rect x="443.10" y="339.40" width="3.20" height="3.20" fill="#2fa0d8"/>
<text x="452.60" y="343.40" font-size="6.87" fill="#4aaede" text-anchor="start" font-weight="normal" stroke="#4aaede" stroke-width="0.14" >CD123 TCE</text>
<line x1="440.4" y1="360.6" x2="449.0" y2="360.6" stroke="#c9a8dc" stroke-width="0.9"/>
<path d="M444.70,358.70 L446.60,362.12 L442.80,362.12 Z" fill="#f1e8f6" stroke="#c7a6da" stroke-width="0.85"/>
<text x="452.60" y="363.00" font-size="7.1" fill="#75479a" text-anchor="start" font-weight="normal" stroke="#75479a" stroke-width="0.14" >CD33/CD123 TCE</text>
<line x1="440.4" y1="371.0" x2="449.0" y2="371.0" stroke="#b08ad0" stroke-width="0.9"/>
<path d="M444.70,369.10 L446.60,372.52 L442.80,372.52 Z" fill="#a67cc4"/>
<line x1="440.4" y1="380.8" x2="449.0" y2="380.8" stroke="#6a1f8e" stroke-width="0.9"/>
<path d="M444.70,382.70 L446.60,379.28 L442.80,379.28 Z" fill="#6a1f8e"/>
<line x1="440.4" y1="390.3" x2="449.0" y2="390.3" stroke="#5a1680" stroke-width="0.9"/>
<path d="M444.70,388.40 L446.60,391.82 L442.80,391.82 Z" fill="#5a1680"/>
<path d="M437.3,357 L437.3,394.8 L433.1,394.8 Z" fill="url(#wg)"/>
<text x="7.00" y="448.80" font-size="10" fill="#111" text-anchor="start" font-weight="bold" >E</text>
<text x="62.60" y="479.40" font-size="7.15" fill="#333" text-anchor="end" font-weight="normal" stroke="#333" stroke-width="0.14" >Untreated</text>
<text x="62.60" y="496.20" font-size="7.15" fill="#333" text-anchor="end" font-weight="normal" stroke="#333" stroke-width="0.14" >Untargeted TCE</text>
<text x="62.60" y="513.00" font-size="7.15" fill="#333" text-anchor="end" font-weight="normal" stroke="#333" stroke-width="0.14" >CD123 TCE</text>
<text x="62.60" y="529.80" font-size="7.15" fill="#333" text-anchor="end" font-weight="normal" stroke="#333" stroke-width="0.14" >0.012</text>
<text x="62.60" y="546.60" font-size="7.15" fill="#333" text-anchor="end" font-weight="normal" stroke="#333" stroke-width="0.14" >0.12</text>
<text x="62.60" y="563.20" font-size="7.15" fill="#333" text-anchor="end" font-weight="normal" stroke="#333" stroke-width="0.14" >1.2</text>
<text x="62.60" y="580.00" font-size="7.15" fill="#333" text-anchor="end" font-weight="normal" stroke="#333" stroke-width="0.14" >12</text>
<path d="M27.4,537.5 C26.5,539.5 28.3,541.5 27.3,543.8" fill="none" stroke="#777" stroke-width="0.5"/>
<path d="M27.3,562.7 C26.5,563.5 28.2,564.3 27.3,565.3" fill="none" stroke="#777" stroke-width="0.5"/>
<path d="M27.3,583.9 C26.5,585.5 28.2,587 27.3,588.6" fill="none" stroke="#777" stroke-width="0.5"/>
<ellipse cx="27.4" cy="527.7" rx="4.8" ry="9.8" fill="#ececec" stroke="#777" stroke-width="0.5"/>
<text x="27.4" y="527.7" font-size="3.6" fill="#444" text-anchor="middle" dominant-baseline="central" transform="rotate(-90 27.4 527.7)">ALB</text>
<ellipse cx="27.3" cy="553.2" rx="4.7" ry="9.4" fill="#2aa2e2" stroke="none" stroke-width="0.5"/>
<text x="27.3" y="553.2" font-size="3.0" fill="#cfeafa" text-anchor="middle" dominant-baseline="central" transform="rotate(-90 27.3 553.2)">CD123</text>
<ellipse cx="27.3" cy="574.6" rx="4.8" ry="9.3" fill="#d07a1a" stroke="none" stroke-width="0.5"/>
<text x="27.3" y="574.6" font-size="3.2" fill="#fbe0c0" text-anchor="middle" dominant-baseline="central" transform="rotate(-90 27.3 574.6)">CD33</text>
<ellipse cx="27.3" cy="598.0" rx="4.8" ry="9.4" fill="#8a8a8a" stroke="none" stroke-width="0.5"/>
<text x="27.3" y="598.0" font-size="3.6" fill="#cccccc" text-anchor="middle" dominant-baseline="central" transform="rotate(-90 27.3 598.0)">TCR</text>
<path d="M35.8,523.4 L43,583.6 L35.8,583.6 Z" fill="url(#wg)"/>
<text x="127.30" y="460.20" font-size="8.7" fill="#222" text-anchor="middle" font-weight="normal" stroke="#222" stroke-width="0.14" >Spleen</text>
<text x="264.40" y="460.00" font-size="8.7" fill="#222" text-anchor="middle" font-weight="normal" stroke="#222" stroke-width="0.14" >Liver</text>
<text x="400.70" y="460.00" font-size="8.7" fill="#222" text-anchor="middle" font-weight="normal" stroke="#222" stroke-width="0.14" >Ovaries</text>
<rect x="68.6" y="465.4" width="122.80000000000001" height="122.89999999999998" fill="none" stroke="#222" stroke-width="1"/>
<line x1="65.80" y1="476.80" x2="68.60" y2="476.80" stroke="#333" stroke-width="0.8"/>
<line x1="65.80" y1="493.60" x2="68.60" y2="493.60" stroke="#333" stroke-width="0.8"/>
<line x1="65.80" y1="510.40" x2="68.60" y2="510.40" stroke="#333" stroke-width="0.8"/>
<line x1="65.80" y1="527.20" x2="68.60" y2="527.20" stroke="#333" stroke-width="0.8"/>
<line x1="65.80" y1="544.00" x2="68.60" y2="544.00" stroke="#333" stroke-width="0.8"/>
<line x1="65.80" y1="560.60" x2="68.60" y2="560.60" stroke="#333" stroke-width="0.8"/>
<line x1="65.80" y1="577.40" x2="68.60" y2="577.40" stroke="#333" stroke-width="0.8"/>
<line x1="68.60" y1="588.30" x2="68.60" y2="590.90" stroke="#333" stroke-width="0.8"/>
<line x1="103.40" y1="588.30" x2="103.40" y2="590.90" stroke="#333" stroke-width="0.8"/>
<line x1="138.50" y1="588.30" x2="138.50" y2="590.90" stroke="#333" stroke-width="0.8"/>
<line x1="174.00" y1="588.30" x2="174.00" y2="590.90" stroke="#333" stroke-width="0.8"/>
<text x="68.50" y="603.5" font-size="6.6" fill="#2a2a2a" text-anchor="middle" letter-spacing="0.3">1×10<tspan font-size="4.7" dy="-2.8">1</tspan></text>
<text x="103.50" y="603.5" font-size="6.6" fill="#2a2a2a" text-anchor="middle" letter-spacing="0.3">1×10<tspan font-size="4.7" dy="-2.8">3</tspan></text>
<text x="138.50" y="603.5" font-size="6.6" fill="#2a2a2a" text-anchor="middle" letter-spacing="0.3">1×10<tspan font-size="4.7" dy="-2.8">5</tspan></text>
<text x="174.00" y="603.5" font-size="6.6" fill="#2a2a2a" text-anchor="middle" letter-spacing="0.3">1×10<tspan font-size="4.7" dy="-2.8">7</tspan></text>
<rect x="203.5" y="464.8" width="122.10000000000002" height="122.69999999999999" fill="none" stroke="#222" stroke-width="1"/>
<line x1="200.70" y1="476.80" x2="203.50" y2="476.80" stroke="#333" stroke-width="0.8"/>
<line x1="200.70" y1="493.60" x2="203.50" y2="493.60" stroke="#333" stroke-width="0.8"/>
<line x1="200.70" y1="510.40" x2="203.50" y2="510.40" stroke="#333" stroke-width="0.8"/>
<line x1="200.70" y1="527.20" x2="203.50" y2="527.20" stroke="#333" stroke-width="0.8"/>
<line x1="200.70" y1="544.00" x2="203.50" y2="544.00" stroke="#333" stroke-width="0.8"/>
<line x1="200.70" y1="560.60" x2="203.50" y2="560.60" stroke="#333" stroke-width="0.8"/>
<line x1="200.70" y1="577.40" x2="203.50" y2="577.40" stroke="#333" stroke-width="0.8"/>
<line x1="203.50" y1="587.50" x2="203.50" y2="590.10" stroke="#333" stroke-width="0.8"/>
<line x1="238.80" y1="587.50" x2="238.80" y2="590.10" stroke="#333" stroke-width="0.8"/>
<line x1="273.90" y1="587.50" x2="273.90" y2="590.10" stroke="#333" stroke-width="0.8"/>
<line x1="309.00" y1="587.50" x2="309.00" y2="590.10" stroke="#333" stroke-width="0.8"/>
<text x="204.50" y="603.5" font-size="6.6" fill="#2a2a2a" text-anchor="middle" letter-spacing="0.3">×10<tspan font-size="4.7" dy="-2.8">3</tspan></text>
<text x="239.00" y="603.5" font-size="6.6" fill="#2a2a2a" text-anchor="middle" letter-spacing="0.3">1×10<tspan font-size="4.7" dy="-2.8">5</tspan></text>
<text x="274.00" y="603.5" font-size="6.6" fill="#2a2a2a" text-anchor="middle" letter-spacing="0.3">1×10<tspan font-size="4.7" dy="-2.8">7</tspan></text>
<text x="309.30" y="603.5" font-size="6.6" fill="#2a2a2a" text-anchor="middle" letter-spacing="0.3">1×10<tspan font-size="4.7" dy="-2.8">9</tspan></text>
<rect x="337.8" y="464.4" width="123.69999999999999" height="122.80000000000007" fill="none" stroke="#222" stroke-width="1"/>
<line x1="335.00" y1="476.80" x2="337.80" y2="476.80" stroke="#333" stroke-width="0.8"/>
<line x1="335.00" y1="493.60" x2="337.80" y2="493.60" stroke="#333" stroke-width="0.8"/>
<line x1="335.00" y1="510.40" x2="337.80" y2="510.40" stroke="#333" stroke-width="0.8"/>
<line x1="335.00" y1="527.20" x2="337.80" y2="527.20" stroke="#333" stroke-width="0.8"/>
<line x1="335.00" y1="544.00" x2="337.80" y2="544.00" stroke="#333" stroke-width="0.8"/>
<line x1="335.00" y1="560.60" x2="337.80" y2="560.60" stroke="#333" stroke-width="0.8"/>
<line x1="335.00" y1="577.40" x2="337.80" y2="577.40" stroke="#333" stroke-width="0.8"/>
<line x1="337.80" y1="587.20" x2="337.80" y2="589.80" stroke="#333" stroke-width="0.8"/>
<line x1="369.50" y1="587.20" x2="369.50" y2="589.80" stroke="#333" stroke-width="0.8"/>
<line x1="400.50" y1="587.20" x2="400.50" y2="589.80" stroke="#333" stroke-width="0.8"/>
<line x1="431.00" y1="587.20" x2="431.00" y2="589.80" stroke="#333" stroke-width="0.8"/>
<line x1="461.50" y1="587.20" x2="461.50" y2="589.80" stroke="#333" stroke-width="0.8"/>
<text x="337.80" y="603.5" font-size="6.6" fill="#2a2a2a" text-anchor="middle" letter-spacing="0.3">×10<tspan font-size="4.7" dy="-2.8">2</tspan></text>
<text x="369.50" y="603.5" font-size="6.6" fill="#2a2a2a" text-anchor="middle" letter-spacing="0.3">1×10<tspan font-size="4.7" dy="-2.8">4</tspan></text>
<text x="400.50" y="603.5" font-size="6.6" fill="#2a2a2a" text-anchor="middle" letter-spacing="0.3">1×10<tspan font-size="4.7" dy="-2.8">6</tspan></text>
<text x="431.00" y="603.5" font-size="6.6" fill="#2a2a2a" text-anchor="middle" letter-spacing="0.3">1×10<tspan font-size="4.7" dy="-2.8">8</tspan></text>
<text x="462.30" y="603.5" font-size="6.6" fill="#2a2a2a" text-anchor="middle" letter-spacing="0.3">1×10<tspan font-size="4.7" dy="-2.8">10</tspan></text>
<text x="130.00" y="615.90" font-size="8.0" fill="#222" text-anchor="middle" textLength="47" lengthAdjust="spacingAndGlyphs" stroke="#222" stroke-width="0.25" >Bioluminescence</text>
<text x="130.00" y="626.90" font-size="8.0" fill="#222" text-anchor="middle" textLength="38" lengthAdjust="spacingAndGlyphs" stroke="#222" stroke-width="0.25" >(photons/sec)</text>
<text x="264.50" y="615.90" font-size="8.0" fill="#222" text-anchor="middle" textLength="47" lengthAdjust="spacingAndGlyphs" stroke="#222" stroke-width="0.25" >Bioluminescence</text>
<text x="264.50" y="626.90" font-size="8.0" fill="#222" text-anchor="middle" textLength="38" lengthAdjust="spacingAndGlyphs" stroke="#222" stroke-width="0.25" >(photons/sec)</text>
<text x="400.40" y="615.90" font-size="8.0" fill="#222" text-anchor="middle" textLength="47" lengthAdjust="spacingAndGlyphs" stroke="#222" stroke-width="0.25" >Bioluminescence</text>
<text x="400.40" y="626.90" font-size="8.0" fill="#222" text-anchor="middle" textLength="38" lengthAdjust="spacingAndGlyphs" stroke="#222" stroke-width="0.25" >(photons/sec)</text>
<line x1="155.90" y1="476.80" x2="186.50" y2="476.80" stroke="#3c3c3c" stroke-width="0.8"/>
<line x1="155.90" y1="474.60" x2="155.90" y2="479.00" stroke="#3c3c3c" stroke-width="0.7"/>
<line x1="186.50" y1="474.60" x2="186.50" y2="479.00" stroke="#3c3c3c" stroke-width="0.7"/>
<rect x="165.90" y="471.50" width="14.10" height="10.60" fill="none" stroke="#3c3c3c" stroke-width="0.85"/>
<line x1="172.50" y1="471.50" x2="172.50" y2="482.10" stroke="#3c3c3c" stroke-width="0.8"/>
<circle cx="155.90" cy="476.80" r="2.00" fill="#f6f6f6" stroke="#9a9a9a" stroke-width="0.75"/>
<circle cx="166.50" cy="476.80" r="2.00" fill="#f6f6f6" stroke="#9a9a9a" stroke-width="0.75"/>
<circle cx="168.50" cy="475.30" r="2.00" fill="#f6f6f6" stroke="#9a9a9a" stroke-width="0.75"/>
<circle cx="170.00" cy="478.30" r="2.00" fill="#f6f6f6" stroke="#9a9a9a" stroke-width="0.75"/>
<circle cx="171.50" cy="475.80" r="2.00" fill="#f6f6f6" stroke="#9a9a9a" stroke-width="0.75"/>
<circle cx="173.00" cy="478.00" r="2.00" fill="#f6f6f6" stroke="#9a9a9a" stroke-width="0.75"/>
<circle cx="175.00" cy="476.80" r="2.00" fill="#f6f6f6" stroke="#9a9a9a" stroke-width="0.75"/>
<circle cx="177.00" cy="475.80" r="2.00" fill="#f6f6f6" stroke="#9a9a9a" stroke-width="0.75"/>
<circle cx="186.50" cy="476.80" r="2.00" fill="#f6f6f6" stroke="#9a9a9a" stroke-width="0.75"/>
<line x1="155.90" y1="475.00" x2="155.90" y2="478.60" stroke="#666" stroke-width="0.6"/>
<line x1="186.50" y1="475.00" x2="186.50" y2="478.60" stroke="#666" stroke-width="0.6"/>
<line x1="160.10" y1="493.60" x2="186.50" y2="493.60" stroke="#333" stroke-width="0.8"/>
<line x1="160.10" y1="491.40" x2="160.10" y2="495.80" stroke="#333" stroke-width="0.7"/>
<line x1="186.50" y1="491.40" x2="186.50" y2="495.80" stroke="#333" stroke-width="0.7"/>
<rect x="167.30" y="488.30" width="13.40" height="10.60" fill="none" stroke="#333" stroke-width="0.85"/>
<line x1="174.00" y1="488.30" x2="174.00" y2="498.90" stroke="#333" stroke-width="0.8"/>
<path d="M157.71,492.31 L163.29,497.89 M157.71,497.89 L163.29,492.31" stroke="#343f50" stroke-width="0.95" fill="none"/>
<path d="M160.21,489.81 L165.79,495.39 M160.21,495.39 L165.79,489.81" stroke="#343f50" stroke-width="0.95" fill="none"/>
<path d="M163.21,491.81 L168.79,497.39 M163.21,497.39 L168.79,491.81" stroke="#343f50" stroke-width="0.95" fill="none"/>
<path d="M165.71,489.31 L171.29,494.89 M165.71,494.89 L171.29,489.31" stroke="#343f50" stroke-width="0.95" fill="none"/>
<path d="M167.71,491.81 L173.29,497.39 M167.71,497.39 L173.29,491.81" stroke="#343f50" stroke-width="0.95" fill="none"/>
<path d="M170.21,489.31 L175.79,494.89 M170.21,494.89 L175.79,489.31" stroke="#343f50" stroke-width="0.95" fill="none"/>
<path d="M173.21,492.31 L178.79,497.89 M173.21,497.89 L178.79,492.31" stroke="#343f50" stroke-width="0.95" fill="none"/>
<path d="M175.71,489.81 L181.29,495.39 M175.71,495.39 L181.29,489.81" stroke="#343f50" stroke-width="0.95" fill="none"/>
<path d="M178.21,491.81 L183.79,497.39 M178.21,497.39 L183.79,491.81" stroke="#343f50" stroke-width="0.95" fill="none"/>
<path d="M181.21,490.81 L186.79,496.39 M181.21,496.39 L186.79,490.81" stroke="#343f50" stroke-width="0.95" fill="none"/>
<path d="M183.71,490.81 L189.29,496.39 M183.71,496.39 L189.29,490.81" stroke="#343f50" stroke-width="0.95" fill="none"/>
<rect x="118.50" y="507.80" width="25.50" height="5.2" fill="#2fa0d8"/>
<rect x="115.90" y="510.61" width="3.2" height="3.2" fill="#2fa0d8"/>
<rect x="116.85" y="508.63" width="3.2" height="3.2" fill="#2fa0d8"/>
<rect x="117.80" y="507.79" width="3.2" height="3.2" fill="#2fa0d8"/>
<rect x="118.74" y="509.68" width="3.2" height="3.2" fill="#2fa0d8"/>
<rect x="119.69" y="509.87" width="3.2" height="3.2" fill="#2fa0d8"/>
<rect x="120.64" y="507.33" width="3.2" height="3.2" fill="#2fa0d8"/>
<rect x="121.59" y="509.88" width="3.2" height="3.2" fill="#2fa0d8"/>
<rect x="122.54" y="508.19" width="3.2" height="3.2" fill="#2fa0d8"/>
<rect x="123.49" y="506.40" width="3.2" height="3.2" fill="#2fa0d8"/>
<rect x="124.43" y="508.73" width="3.2" height="3.2" fill="#2fa0d8"/>
<rect x="125.38" y="509.99" width="3.2" height="3.2" fill="#2fa0d8"/>
<rect x="126.33" y="507.87" width="3.2" height="3.2" fill="#2fa0d8"/>
<rect x="127.28" y="510.22" width="3.2" height="3.2" fill="#2fa0d8"/>
<rect x="128.23" y="510.33" width="3.2" height="3.2" fill="#2fa0d8"/>
<rect x="129.18" y="510.67" width="3.2" height="3.2" fill="#2fa0d8"/>
<rect x="130.12" y="507.21" width="3.2" height="3.2" fill="#2fa0d8"/>
<rect x="131.07" y="508.54" width="3.2" height="3.2" fill="#2fa0d8"/>
<rect x="132.02" y="506.76" width="3.2" height="3.2" fill="#2fa0d8"/>
<rect x="132.97" y="506.66" width="3.2" height="3.2" fill="#2fa0d8"/>
<rect x="133.92" y="509.19" width="3.2" height="3.2" fill="#2fa0d8"/>
<rect x="134.87" y="509.15" width="3.2" height="3.2" fill="#2fa0d8"/>
<rect x="135.81" y="508.84" width="3.2" height="3.2" fill="#2fa0d8"/>
<rect x="136.76" y="510.69" width="3.2" height="3.2" fill="#2fa0d8"/>
<rect x="137.71" y="507.36" width="3.2" height="3.2" fill="#2fa0d8"/>
<rect x="138.66" y="507.12" width="3.2" height="3.2" fill="#2fa0d8"/>
<rect x="139.61" y="507.86" width="3.2" height="3.2" fill="#2fa0d8"/>
<rect x="140.56" y="510.47" width="3.2" height="3.2" fill="#2fa0d8"/>
<rect x="141.50" y="510.87" width="3.2" height="3.2" fill="#2fa0d8"/>
<rect x="142.45" y="507.26" width="3.2" height="3.2" fill="#2fa0d8"/>
<rect x="143.40" y="507.55" width="3.2" height="3.2" fill="#2fa0d8"/>
<rect x="126.50" y="505.80" width="10.40" height="9.2" fill="none" stroke="#f2fafe" stroke-width="0.9"/>
<rect x="125.70" y="505.00" width="12.00" height="10.8" fill="none" stroke="#444" stroke-width="0.7"/>
<line x1="92.30" y1="527.20" x2="134.60" y2="527.20" stroke="#3c3c3c" stroke-width="0.8"/>
<line x1="92.30" y1="525.00" x2="92.30" y2="529.40" stroke="#3c3c3c" stroke-width="0.7"/>
<line x1="134.60" y1="525.00" x2="134.60" y2="529.40" stroke="#3c3c3c" stroke-width="0.7"/>
<rect x="110.30" y="521.90" width="12.70" height="10.60" fill="none" stroke="#3c3c3c" stroke-width="0.85"/>
<line x1="117.00" y1="521.90" x2="117.00" y2="532.50" stroke="#3c3c3c" stroke-width="0.8"/>
<path d="M92.30,524.25 L95.24,529.56 L89.36,529.56 Z" fill="#f1e8f6" stroke="#c7a6da" stroke-width="0.85"/>
<path d="M107.00,524.25 L109.94,529.56 L104.06,529.56 Z" fill="#f1e8f6" stroke="#c7a6da" stroke-width="0.85"/>
<path d="M113.00,525.75 L115.94,531.06 L110.06,531.06 Z" fill="#f1e8f6" stroke="#c7a6da" stroke-width="0.85"/>
<path d="M115.50,522.75 L118.44,528.06 L112.56,528.06 Z" fill="#f1e8f6" stroke="#c7a6da" stroke-width="0.85"/>
<path d="M118.50,525.75 L121.44,531.06 L115.56,531.06 Z" fill="#f1e8f6" stroke="#c7a6da" stroke-width="0.85"/>
<path d="M121.00,523.25 L123.94,528.56 L118.06,528.56 Z" fill="#f1e8f6" stroke="#c7a6da" stroke-width="0.85"/>
<path d="M122.00,526.25 L124.94,531.56 L119.06,531.56 Z" fill="#f1e8f6" stroke="#c7a6da" stroke-width="0.85"/>
<path d="M134.60,524.25 L137.54,529.56 L131.66,529.56 Z" fill="#f1e8f6" stroke="#c7a6da" stroke-width="0.85"/>
<line x1="85.40" y1="544.00" x2="139.20" y2="544.00" stroke="#3c3c3c" stroke-width="0.8"/>
<line x1="85.40" y1="541.80" x2="85.40" y2="546.20" stroke="#3c3c3c" stroke-width="0.7"/>
<line x1="139.20" y1="541.80" x2="139.20" y2="546.20" stroke="#3c3c3c" stroke-width="0.7"/>
<rect x="104.20" y="538.70" width="25.00" height="10.60" fill="none" stroke="#3c3c3c" stroke-width="0.85"/>
<line x1="116.90" y1="538.70" x2="116.90" y2="549.30" stroke="#3c3c3c" stroke-width="0.8"/>
<path d="M85.40,541.05 L88.34,546.36 L82.46,546.36 Z" fill="#a67cc4"/>
<path d="M100.50,541.05 L103.44,546.36 L97.56,546.36 Z" fill="#a67cc4"/>
<path d="M108.00,542.85 L110.94,548.16 L105.06,548.16 Z" fill="#a67cc4"/>
<path d="M110.00,539.55 L112.94,544.86 L107.06,544.86 Z" fill="#a67cc4"/>
<path d="M121.00,539.55 L123.94,544.86 L118.06,544.86 Z" fill="#a67cc4"/>
<path d="M123.00,542.85 L125.94,548.16 L120.06,548.16 Z" fill="#a67cc4"/>
<path d="M126.00,541.05 L128.94,546.36 L123.06,546.36 Z" fill="#a67cc4"/>
<path d="M138.50,541.05 L141.44,546.36 L135.56,546.36 Z" fill="#a67cc4"/>
<rect x="101.50" y="555.30" width="20.00" height="10.60" fill="none" stroke="#3c3c3c" stroke-width="0.85"/>
<path d="M102.50,561.55 L105.44,556.24 L99.56,556.24 Z" fill="#6a1f8e"/>
<path d="M104.50,565.35 L107.44,560.04 L101.56,560.04 Z" fill="#6a1f8e"/>
<path d="M107.00,561.55 L109.94,556.24 L104.06,556.24 Z" fill="#6a1f8e"/>
<path d="M109.50,565.35 L112.44,560.04 L106.56,560.04 Z" fill="#6a1f8e"/>
<path d="M112.00,561.55 L114.94,556.24 L109.06,556.24 Z" fill="#6a1f8e"/>
<path d="M114.50,564.75 L117.44,559.44 L111.56,559.44 Z" fill="#6a1f8e"/>
<path d="M108.00,563.55 L110.94,558.24 L105.06,558.24 Z" fill="#6a1f8e"/>
<path d="M123.50,562.05 L126.44,556.74 L120.56,556.74 Z" fill="#6a1f8e"/>
<path d="M126.50,564.05 L129.44,558.74 L123.56,558.74 Z" fill="#6a1f8e"/>
<line x1="76.20" y1="577.40" x2="96.90" y2="577.40" stroke="#3c3c3c" stroke-width="0.8"/>
<line x1="76.20" y1="575.20" x2="76.20" y2="579.60" stroke="#3c3c3c" stroke-width="0.7"/>
<rect x="96.90" y="572.10" width="29.90" height="10.60" fill="none" stroke="#3c3c3c" stroke-width="0.85"/>
<path d="M76.20,574.45 L79.14,579.76 L73.26,579.76 Z" fill="#5a1680"/>
<path d="M96.90,572.65 L99.84,577.96 L93.96,577.96 Z" fill="#5a1680"/>
<path d="M97.50,576.45 L100.44,581.76 L94.56,581.76 Z" fill="#5a1680"/>
<path d="M111.50,572.65 L114.44,577.96 L108.56,577.96 Z" fill="#5a1680"/>
<path d="M112.50,576.45 L115.44,581.76 L109.56,581.76 Z" fill="#5a1680"/>
<path d="M123.50,572.65 L126.44,577.96 L120.56,577.96 Z" fill="#5a1680"/>
<path d="M125.00,576.45 L127.94,581.76 L122.06,581.76 Z" fill="#5a1680"/>
<circle cx="158.65" cy="511.70" r="0.95" fill="#3a3a3a"/>
<circle cx="161.35" cy="511.70" r="0.95" fill="#3a3a3a"/>
<circle cx="158.65" cy="528.50" r="0.95" fill="#3a3a3a"/>
<circle cx="161.35" cy="528.50" r="0.95" fill="#3a3a3a"/>
<circle cx="158.65" cy="545.30" r="0.95" fill="#3a3a3a"/>
<circle cx="161.35" cy="545.30" r="0.95" fill="#3a3a3a"/>
<circle cx="158.65" cy="561.90" r="0.95" fill="#3a3a3a"/>
<circle cx="161.35" cy="561.90" r="0.95" fill="#3a3a3a"/>
<circle cx="158.65" cy="578.70" r="0.95" fill="#3a3a3a"/>
<circle cx="161.35" cy="578.70" r="0.95" fill="#3a3a3a"/>
<circle cx="290.00" cy="476.80" r="2.00" fill="#f6f6f6" stroke="#9a9a9a" stroke-width="0.75"/>
<circle cx="292.00" cy="474.30" r="2.00" fill="#f6f6f6" stroke="#9a9a9a" stroke-width="0.75"/>
<circle cx="293.50" cy="478.80" r="2.00" fill="#f6f6f6" stroke="#9a9a9a" stroke-width="0.75"/>
<circle cx="295.50" cy="476.30" r="2.00" fill="#f6f6f6" stroke="#9a9a9a" stroke-width="0.75"/>
<circle cx="297.50" cy="474.30" r="2.00" fill="#f6f6f6" stroke="#9a9a9a" stroke-width="0.75"/>
<circle cx="298.50" cy="478.80" r="2.00" fill="#f6f6f6" stroke="#9a9a9a" stroke-width="0.75"/>
<circle cx="300.50" cy="476.80" r="2.00" fill="#f6f6f6" stroke="#9a9a9a" stroke-width="0.75"/>
<circle cx="302.50" cy="475.30" r="2.00" fill="#f6f6f6" stroke="#9a9a9a" stroke-width="0.75"/>
<circle cx="291.00" cy="479.30" r="2.00" fill="#f6f6f6" stroke="#9a9a9a" stroke-width="0.75"/>
<line x1="283.50" y1="493.60" x2="300.80" y2="493.60" stroke="#333" stroke-width="0.8"/>
<line x1="283.50" y1="491.40" x2="283.50" y2="495.80" stroke="#333" stroke-width="0.7"/>
<rect x="288.75" y="488.30" width="12.05" height="10.60" fill="none" stroke="#333" stroke-width="0.85"/>
<path d="M287.71,488.81 L293.29,494.39 M287.71,494.39 L293.29,488.81" stroke="#343f50" stroke-width="0.95" fill="none"/>
<path d="M289.71,492.81 L295.29,498.39 M289.71,498.39 L295.29,492.81" stroke="#343f50" stroke-width="0.95" fill="none"/>
<path d="M291.71,489.81 L297.29,495.39 M291.71,495.39 L297.29,489.81" stroke="#343f50" stroke-width="0.95" fill="none"/>
<path d="M293.71,492.81 L299.29,498.39 M293.71,498.39 L299.29,492.81" stroke="#343f50" stroke-width="0.95" fill="none"/>
<path d="M295.71,488.81 L301.29,494.39 M295.71,494.39 L301.29,488.81" stroke="#343f50" stroke-width="0.95" fill="none"/>
<path d="M297.21,491.81 L302.79,497.39 M297.21,497.39 L302.79,491.81" stroke="#343f50" stroke-width="0.95" fill="none"/>
<path d="M299.71,490.81 L305.29,496.39 M299.71,496.39 L305.29,490.81" stroke="#343f50" stroke-width="0.95" fill="none"/>
<path d="M301.21,489.81 L306.79,495.39 M301.21,495.39 L306.79,489.81" stroke="#343f50" stroke-width="0.95" fill="none"/>
<path d="M278.35,493.60 L284.05,493.60 M279.20,491.61 L283.19,495.60 M279.20,495.60 L283.19,491.61" stroke="#343f50" stroke-width="0.7" fill="none"/>
<rect x="245.50" y="507.80" width="19.30" height="5.2" fill="#2fa0d8"/>
<rect x="242.90" y="508.53" width="3.2" height="3.2" fill="#2fa0d8"/>
<rect x="243.87" y="509.77" width="3.2" height="3.2" fill="#2fa0d8"/>
<rect x="244.84" y="511.07" width="3.2" height="3.2" fill="#2fa0d8"/>
<rect x="245.80" y="510.88" width="3.2" height="3.2" fill="#2fa0d8"/>
<rect x="246.77" y="510.26" width="3.2" height="3.2" fill="#2fa0d8"/>
<rect x="247.74" y="506.69" width="3.2" height="3.2" fill="#2fa0d8"/>
<rect x="248.71" y="506.77" width="3.2" height="3.2" fill="#2fa0d8"/>
<rect x="249.68" y="508.44" width="3.2" height="3.2" fill="#2fa0d8"/>
<rect x="250.65" y="506.91" width="3.2" height="3.2" fill="#2fa0d8"/>
<rect x="251.61" y="507.74" width="3.2" height="3.2" fill="#2fa0d8"/>
<rect x="252.58" y="510.61" width="3.2" height="3.2" fill="#2fa0d8"/>
<rect x="253.55" y="509.53" width="3.2" height="3.2" fill="#2fa0d8"/>
<rect x="254.52" y="508.25" width="3.2" height="3.2" fill="#2fa0d8"/>
<rect x="255.49" y="509.25" width="3.2" height="3.2" fill="#2fa0d8"/>
<rect x="256.45" y="509.35" width="3.2" height="3.2" fill="#2fa0d8"/>
<rect x="257.42" y="508.22" width="3.2" height="3.2" fill="#2fa0d8"/>
<rect x="258.39" y="507.23" width="3.2" height="3.2" fill="#2fa0d8"/>
<rect x="259.36" y="510.39" width="3.2" height="3.2" fill="#2fa0d8"/>
<rect x="260.33" y="507.62" width="3.2" height="3.2" fill="#2fa0d8"/>
<rect x="261.30" y="507.83" width="3.2" height="3.2" fill="#2fa0d8"/>
<rect x="262.26" y="508.81" width="3.2" height="3.2" fill="#2fa0d8"/>
<rect x="263.23" y="511.15" width="3.2" height="3.2" fill="#2fa0d8"/>
<rect x="264.20" y="507.30" width="3.2" height="3.2" fill="#2fa0d8"/>
<rect x="252.00" y="505.80" width="7.20" height="9.2" fill="none" stroke="#f2fafe" stroke-width="0.9"/>
<rect x="251.20" y="505.00" width="8.80" height="10.8" fill="none" stroke="#444" stroke-width="0.7"/>
<line x1="212.40" y1="527.20" x2="239.30" y2="527.20" stroke="#3c3c3c" stroke-width="0.8"/>
<line x1="212.40" y1="525.00" x2="212.40" y2="529.40" stroke="#3c3c3c" stroke-width="0.7"/>
<rect x="239.30" y="521.90" width="6.10" height="10.60" fill="none" stroke="#3c3c3c" stroke-width="0.85"/>
<path d="M212.40,524.25 L215.34,529.56 L209.46,529.56 Z" fill="#f1e8f6" stroke="#c7a6da" stroke-width="0.85"/>
<path d="M239.00,526.25 L241.94,531.56 L236.06,531.56 Z" fill="#f1e8f6" stroke="#c7a6da" stroke-width="0.85"/>
<path d="M241.00,521.75 L243.94,527.06 L238.06,527.06 Z" fill="#f1e8f6" stroke="#c7a6da" stroke-width="0.85"/>
<path d="M243.00,524.75 L245.94,530.06 L240.06,530.06 Z" fill="#f1e8f6" stroke="#c7a6da" stroke-width="0.85"/>
<path d="M245.00,522.25 L247.94,527.56 L242.06,527.56 Z" fill="#f1e8f6" stroke="#c7a6da" stroke-width="0.85"/>
<path d="M246.00,526.75 L248.94,532.06 L243.06,532.06 Z" fill="#f1e8f6" stroke="#c7a6da" stroke-width="0.85"/>
<path d="M247.50,524.25 L250.44,529.56 L244.56,529.56 Z" fill="#f1e8f6" stroke="#c7a6da" stroke-width="0.85"/>
<path d="M242.50,527.25 L245.44,532.56 L239.56,532.56 Z" fill="#f1e8f6" stroke="#c7a6da" stroke-width="0.85"/>
<line x1="218.50" y1="544.00" x2="257.50" y2="544.00" stroke="#3c3c3c" stroke-width="0.8"/>
<line x1="218.50" y1="541.80" x2="218.50" y2="546.20" stroke="#3c3c3c" stroke-width="0.7"/>
<line x1="257.50" y1="541.80" x2="257.50" y2="546.20" stroke="#3c3c3c" stroke-width="0.7"/>
<rect x="233.30" y="538.70" width="11.40" height="10.60" fill="none" stroke="#3c3c3c" stroke-width="0.85"/>
<line x1="239.00" y1="538.70" x2="239.00" y2="549.30" stroke="#3c3c3c" stroke-width="0.8"/>
<path d="M218.50,541.05 L221.44,546.36 L215.56,546.36 Z" fill="#a67cc4"/>
<path d="M232.00,541.05 L234.94,546.36 L229.06,546.36 Z" fill="#a67cc4"/>
<path d="M235.00,539.05 L237.94,544.36 L232.06,544.36 Z" fill="#a67cc4"/>
<path d="M236.50,543.05 L239.44,548.36 L233.56,548.36 Z" fill="#a67cc4"/>
<path d="M239.50,541.05 L242.44,546.36 L236.56,546.36 Z" fill="#a67cc4"/>
<path d="M242.00,539.05 L244.94,544.36 L239.06,544.36 Z" fill="#a67cc4"/>
<path d="M243.00,543.05 L245.94,548.36 L240.06,548.36 Z" fill="#a67cc4"/>
<path d="M246.00,541.55 L248.94,546.86 L243.06,546.86 Z" fill="#a67cc4"/>
<path d="M257.50,541.05 L260.44,546.36 L254.56,546.36 Z" fill="#a67cc4"/>
<path d="M234.50,561.05 L237.44,555.74 L231.56,555.74 Z" fill="#6a1f8e"/>
<path d="M237.00,561.05 L239.94,555.74 L234.06,555.74 Z" fill="#6a1f8e"/>
<path d="M239.50,561.05 L242.44,555.74 L236.56,555.74 Z" fill="#6a1f8e"/>
<path d="M242.00,561.05 L244.94,555.74 L239.06,555.74 Z" fill="#6a1f8e"/>
<path d="M244.50,561.05 L247.44,555.74 L241.56,555.74 Z" fill="#6a1f8e"/>
<path d="M247.50,561.55 L250.44,556.24 L244.56,556.24 Z" fill="#6a1f8e"/>
<path d="M236.00,564.55 L238.94,559.24 L233.06,559.24 Z" fill="#6a1f8e"/>
<path d="M238.50,565.05 L241.44,559.74 L235.56,559.74 Z" fill="#6a1f8e"/>
<path d="M241.00,564.55 L243.94,559.24 L238.06,559.24 Z" fill="#6a1f8e"/>
<path d="M239.50,567.55 L242.44,562.24 L236.56,562.24 Z" fill="#6a1f8e"/>
<path d="M245.00,564.05 L247.94,558.74 L242.06,558.74 Z" fill="#6a1f8e"/>
<line x1="214.40" y1="577.40" x2="225.20" y2="577.40" stroke="#3c3c3c" stroke-width="0.8"/>
<line x1="214.40" y1="575.20" x2="214.40" y2="579.60" stroke="#3c3c3c" stroke-width="0.7"/>
<rect x="225.20" y="572.10" width="20.20" height="10.60" fill="none" stroke="#3c3c3c" stroke-width="0.85"/>
<path d="M214.40,574.45 L217.34,579.76 L211.46,579.76 Z" fill="#5a1680"/>
<path d="M225.90,572.45 L228.84,577.76 L222.96,577.76 Z" fill="#5a1680"/>
<path d="M226.50,576.95 L229.44,582.26 L223.56,582.26 Z" fill="#5a1680"/>
<path d="M238.60,573.95 L241.54,579.26 L235.66,579.26 Z" fill="#5a1680"/>
<path d="M245.00,576.95 L247.94,582.26 L242.06,582.26 Z" fill="#5a1680"/>
<path d="M246.50,572.45 L249.44,577.76 L243.56,577.76 Z" fill="#5a1680"/>
<path d="M248.00,574.95 L250.94,580.26 L245.06,580.26 Z" fill="#5a1680"/>
<circle cx="278.65" cy="511.70" r="0.95" fill="#3a3a3a"/>
<circle cx="281.35" cy="511.70" r="0.95" fill="#3a3a3a"/>
<circle cx="278.65" cy="528.50" r="0.95" fill="#3a3a3a"/>
<circle cx="281.35" cy="528.50" r="0.95" fill="#3a3a3a"/>
<circle cx="278.65" cy="545.30" r="0.95" fill="#3a3a3a"/>
<circle cx="281.35" cy="545.30" r="0.95" fill="#3a3a3a"/>
<circle cx="278.65" cy="561.90" r="0.95" fill="#3a3a3a"/>
<circle cx="281.35" cy="561.90" r="0.95" fill="#3a3a3a"/>
<circle cx="278.65" cy="578.70" r="0.95" fill="#3a3a3a"/>
<circle cx="281.35" cy="578.70" r="0.95" fill="#3a3a3a"/>
<line x1="416.20" y1="476.80" x2="455.40" y2="476.80" stroke="#3c3c3c" stroke-width="0.8"/>
<line x1="416.20" y1="474.60" x2="416.20" y2="479.00" stroke="#3c3c3c" stroke-width="0.7"/>
<line x1="455.40" y1="474.60" x2="455.40" y2="479.00" stroke="#3c3c3c" stroke-width="0.7"/>
<rect x="421.30" y="471.50" width="17.90" height="10.60" fill="none" stroke="#3c3c3c" stroke-width="0.85"/>
<line x1="434.60" y1="471.50" x2="434.60" y2="482.10" stroke="#3c3c3c" stroke-width="0.8"/>
<circle cx="416.20" cy="476.80" r="2.00" fill="#f6f6f6" stroke="#9a9a9a" stroke-width="0.75"/>
<circle cx="424.80" cy="476.80" r="2.00" fill="#f6f6f6" stroke="#9a9a9a" stroke-width="0.75"/>
<circle cx="426.50" cy="477.80" r="2.00" fill="#f6f6f6" stroke="#9a9a9a" stroke-width="0.75"/>
<circle cx="434.60" cy="476.80" r="2.00" fill="#f6f6f6" stroke="#9a9a9a" stroke-width="0.75"/>
<circle cx="436.50" cy="475.80" r="2.00" fill="#f6f6f6" stroke="#9a9a9a" stroke-width="0.75"/>
<circle cx="441.50" cy="476.80" r="2.00" fill="#f6f6f6" stroke="#9a9a9a" stroke-width="0.75"/>
<circle cx="455.40" cy="476.80" r="2.00" fill="#f6f6f6" stroke="#9a9a9a" stroke-width="0.75"/>
<line x1="416.20" y1="475.00" x2="416.20" y2="478.60" stroke="#666" stroke-width="0.6"/>
<line x1="455.40" y1="475.00" x2="455.40" y2="478.60" stroke="#666" stroke-width="0.6"/>
<rect x="422.50" y="488.30" width="17.30" height="10.60" fill="none" stroke="#333" stroke-width="0.85"/>
<path d="M418.71,488.81 L424.29,494.39 M418.71,494.39 L424.29,488.81" stroke="#343f50" stroke-width="0.95" fill="none"/>
<path d="M419.71,492.31 L425.29,497.89 M419.71,497.89 L425.29,492.31" stroke="#343f50" stroke-width="0.95" fill="none"/>
<path d="M421.71,490.31 L427.29,495.89 M421.71,495.89 L427.29,490.31" stroke="#343f50" stroke-width="0.95" fill="none"/>
<path d="M423.71,492.81 L429.29,498.39 M423.71,498.39 L429.29,492.81" stroke="#343f50" stroke-width="0.95" fill="none"/>
<path d="M425.21,489.31 L430.79,494.89 M425.21,494.89 L430.79,489.31" stroke="#343f50" stroke-width="0.95" fill="none"/>
<path d="M434.71,491.81 L440.29,497.39 M434.71,497.39 L440.29,491.81" stroke="#343f50" stroke-width="0.95" fill="none"/>
<path d="M436.71,489.31 L442.29,494.89 M436.71,494.89 L442.29,489.31" stroke="#343f50" stroke-width="0.95" fill="none"/>
<path d="M438.21,491.81 L443.79,497.39 M438.21,497.39 L443.79,491.81" stroke="#343f50" stroke-width="0.95" fill="none"/>
<path d="M443.85,493.60 L449.55,493.60 M444.70,491.61 L448.69,495.60 M444.70,495.60 L448.69,491.61" stroke="#343f50" stroke-width="0.7" fill="none"/>
<path d="M411.00,505.40 L428.30,505.40 L426.80,509.40 L425.30,515.40 L408.00,515.40 L409.00,511.40 Z" fill="#2fa0d8"/>
<line x1="416.00" y1="506.40" x2="416.00" y2="509.90" stroke="#fff" stroke-width="1"/>
<line x1="412.00" y1="510.90" x2="426.30" y2="510.90" stroke="#e8f6fe" stroke-width="0.35"/>
<line x1="420.50" y1="505.90" x2="420.00" y2="508.90" stroke="#e8f6fe" stroke-width="0.5"/>
<line x1="363.50" y1="527.20" x2="376.00" y2="527.20" stroke="#3c3c3c" stroke-width="0.8"/>
<line x1="363.50" y1="525.00" x2="363.50" y2="529.40" stroke="#3c3c3c" stroke-width="0.7"/>
<rect x="376.00" y="521.90" width="38.40" height="10.60" fill="none" stroke="#3c3c3c" stroke-width="0.85"/>
<line x1="393.30" y1="521.90" x2="393.30" y2="532.50" stroke="#3c3c3c" stroke-width="0.8"/>
<path d="M364.40,524.25 L367.34,529.56 L361.45,529.56 Z" fill="#f1e8f6" stroke="#c7a6da" stroke-width="0.85"/>
<path d="M367.00,524.25 L369.94,529.56 L364.06,529.56 Z" fill="#f1e8f6" stroke="#c7a6da" stroke-width="0.85"/>
<path d="M370.00,524.25 L372.94,529.56 L367.06,529.56 Z" fill="#f1e8f6" stroke="#c7a6da" stroke-width="0.85"/>
<path d="M381.70,524.25 L384.64,529.56 L378.75,529.56 Z" fill="#f1e8f6" stroke="#c7a6da" stroke-width="0.85"/>
<path d="M389.40,524.25 L392.34,529.56 L386.45,529.56 Z" fill="#f1e8f6" stroke="#c7a6da" stroke-width="0.85"/>
<path d="M395.20,524.25 L398.14,529.56 L392.25,529.56 Z" fill="#f1e8f6" stroke="#c7a6da" stroke-width="0.85"/>
<path d="M411.50,521.75 L414.44,527.06 L408.56,527.06 Z" fill="#f1e8f6" stroke="#c7a6da" stroke-width="0.85"/>
<path d="M415.40,524.25 L418.34,529.56 L412.45,529.56 Z" fill="#f1e8f6" stroke="#c7a6da" stroke-width="0.85"/>
<path d="M418.30,521.75 L421.25,527.06 L415.36,527.06 Z" fill="#f1e8f6" stroke="#c7a6da" stroke-width="0.85"/>
<path d="M416.30,526.75 L419.25,532.06 L413.36,532.06 Z" fill="#f1e8f6" stroke="#c7a6da" stroke-width="0.85"/>
<line x1="352.00" y1="544.00" x2="434.60" y2="544.00" stroke="#3c3c3c" stroke-width="0.8"/>
<line x1="352.00" y1="541.80" x2="352.00" y2="546.20" stroke="#3c3c3c" stroke-width="0.7"/>
<line x1="434.60" y1="541.80" x2="434.60" y2="546.20" stroke="#3c3c3c" stroke-width="0.7"/>
<rect x="377.00" y="538.70" width="44.20" height="10.60" fill="none" stroke="#3c3c3c" stroke-width="0.85"/>
<line x1="395.20" y1="538.70" x2="395.20" y2="549.30" stroke="#3c3c3c" stroke-width="0.8"/>
<path d="M352.00,541.05 L354.94,546.36 L349.06,546.36 Z" fill="#a67cc4"/>
<path d="M375.00,541.05 L377.94,546.36 L372.06,546.36 Z" fill="#a67cc4"/>
<path d="M382.70,538.05 L385.64,543.36 L379.75,543.36 Z" fill="#a67cc4"/>
<path d="M382.70,543.55 L385.64,548.86 L379.75,548.86 Z" fill="#a67cc4"/>
<path d="M399.00,541.05 L401.94,546.36 L396.06,546.36 Z" fill="#a67cc4"/>
<path d="M410.60,541.05 L413.55,546.36 L407.66,546.36 Z" fill="#a67cc4"/>
<path d="M435.60,541.05 L438.55,546.36 L432.66,546.36 Z" fill="#a67cc4"/>
<line x1="362.50" y1="560.60" x2="373.00" y2="560.60" stroke="#3c3c3c" stroke-width="0.8"/>
<line x1="362.50" y1="558.40" x2="362.50" y2="562.80" stroke="#3c3c3c" stroke-width="0.7"/>
<rect x="373.00" y="555.30" width="47.20" height="10.60" fill="none" stroke="#3c3c3c" stroke-width="0.85"/>
<path d="M362.50,562.25 L365.44,556.94 L359.56,556.94 Z" fill="#6a1f8e"/>
<path d="M371.00,559.55 L373.94,554.24 L368.06,554.24 Z" fill="#6a1f8e"/>
<path d="M376.00,565.15 L378.94,559.84 L373.06,559.84 Z" fill="#6a1f8e"/>
<path d="M401.00,563.15 L403.94,557.84 L398.06,557.84 Z" fill="#6a1f8e"/>
<path d="M409.60,560.25 L412.55,554.94 L406.66,554.94 Z" fill="#6a1f8e"/>
<path d="M410.60,565.15 L413.55,559.84 L407.66,559.84 Z" fill="#6a1f8e"/>
<path d="M416.30,565.15 L419.25,559.84 L413.36,559.84 Z" fill="#6a1f8e"/>
<path d="M421.20,559.35 L424.14,554.04 L418.25,554.04 Z" fill="#6a1f8e"/>
<rect x="407.7" y="555.30" width="5.8" height="10.6" fill="none" stroke="#555" stroke-width="0.7"/>
<rect x="363.50" y="572.10" width="54.80" height="10.60" fill="none" stroke="#3c3c3c" stroke-width="0.85"/>
<path d="M358.70,577.35 L361.64,582.66 L355.75,582.66 Z" fill="#5a1680"/>
<path d="M362.50,571.55 L365.44,576.86 L359.56,576.86 Z" fill="#5a1680"/>
<path d="M363.50,575.05 L366.44,580.36 L360.56,580.36 Z" fill="#5a1680"/>
<path d="M386.50,575.05 L389.44,580.36 L383.56,580.36 Z" fill="#5a1680"/>
<path d="M409.60,575.05 L412.55,580.36 L406.66,580.36 Z" fill="#5a1680"/>
<path d="M417.30,575.05 L420.25,580.36 L414.36,580.36 Z" fill="#5a1680"/>
<path d="M420.20,572.55 L423.14,577.86 L417.25,577.86 Z" fill="#5a1680"/>
<path d="M422.10,571.55 L425.05,576.86 L419.16,576.86 Z" fill="#5a1680"/>
<circle cx="442.05" cy="528.50" r="0.95" fill="#3a3a3a"/>
<circle cx="444.75" cy="528.50" r="0.95" fill="#3a3a3a"/>
<circle cx="442.05" cy="545.30" r="0.95" fill="#3a3a3a"/>
<circle cx="444.75" cy="545.30" r="0.95" fill="#3a3a3a"/>
<circle cx="442.05" cy="561.90" r="0.95" fill="#3a3a3a"/>
<circle cx="444.75" cy="561.90" r="0.95" fill="#3a3a3a"/>
<circle cx="442.05" cy="578.70" r="0.95" fill="#3a3a3a"/>
<circle cx="444.75" cy="578.70" r="0.95" fill="#3a3a3a"/>
<rect x="0.5" y="0.5" width="519" height="635" fill="none" stroke="#5a5a5a" stroke-width="1"/>
</svg>
</body></html>
